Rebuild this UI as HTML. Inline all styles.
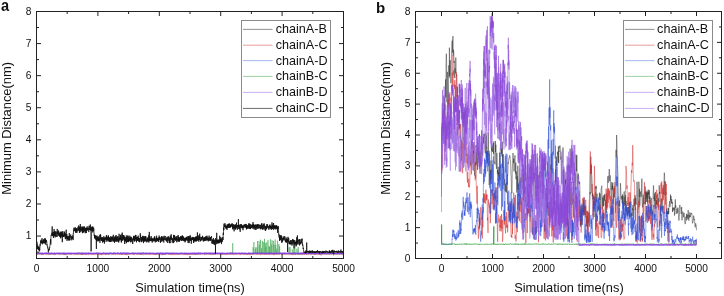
<!DOCTYPE html>
<html><head><meta charset="utf-8"><style>
html,body{margin:0;padding:0;background:#fff;width:724px;height:296px;overflow:hidden}
svg{display:block;will-change:transform}
text{font-family:"Liberation Sans", sans-serif;fill:#111}
.tk{font-size:10.2px}
.lb{font-size:12.8px}
.yl{font-size:12.92px}
.lg{font-size:12.6px}
.pl{font-weight:bold}
</style></head><body>
<svg width="724" height="296" viewBox="0 0 724 296">
<polyline points="36.5,253.4 36.8,253.3 37.0,253.5 37.3,253.7 37.5,253.5 37.8,253.7 38.0,253.3 38.3,252.9 38.5,253.5 38.8,253.6 39.1,253.2 39.3,253.3 39.6,253.3 39.8,253.7 40.1,253.4 40.3,253.1 40.6,253.8 40.9,253.5 41.1,254.0 41.4,253.8 41.6,254.0 41.9,253.4 42.1,253.8 42.4,253.3 42.6,253.3 42.9,253.4 43.2,254.2 43.4,253.5 43.7,253.4 43.9,253.3 44.2,253.9 44.4,253.5 44.7,253.7 44.9,253.6 45.2,253.0 45.5,253.6 45.7,253.4 46.0,253.1 46.2,253.6 46.5,253.4 46.7,253.3 47.0,253.3 47.3,253.8 47.5,253.3 47.8,252.9 48.0,253.9 48.3,253.1 48.5,253.3 48.8,253.6 49.0,252.7 49.3,253.1 49.6,253.8 49.8,253.3 50.1,253.2 50.3,253.4 50.6,253.1 50.8,253.4 51.1,253.2 51.4,252.9 51.6,253.6 51.9,253.3 52.1,253.5 52.4,253.3 52.6,253.7 52.9,253.6 53.1,253.4 53.4,253.1 53.7,253.0 53.9,253.8 54.2,253.6 54.4,253.2 54.7,254.0 54.9,253.5 55.2,253.4 55.4,253.0 55.7,253.1 56.0,253.5 56.2,253.5 56.5,253.4 56.7,252.9 57.0,253.5 57.2,253.5 57.5,253.3 57.8,253.4 58.0,253.4 58.3,253.7 58.5,253.4 58.8,253.5 59.0,253.0 59.3,253.2 59.5,253.4 59.8,253.2 60.1,253.5 60.3,253.0 60.6,253.4 60.8,253.2 61.1,253.8 61.3,253.3 61.6,253.9 61.8,254.0 62.1,253.5 62.4,253.7 62.6,253.3 62.9,252.6 63.1,253.6 63.4,253.6 63.6,253.3 63.9,253.2 64.2,253.4 64.4,253.4 64.7,253.1 64.9,253.2 65.2,253.7 65.4,253.4 65.7,253.4 65.9,253.7 66.2,253.3 66.5,253.6 66.7,253.1 67.0,253.3 67.2,253.3 67.5,253.6 67.7,253.4 68.0,254.0 68.2,253.7 68.5,253.3 68.8,254.1 69.0,253.1 69.3,253.9 69.5,253.1 69.8,253.6 70.0,253.1 70.3,253.3 70.6,253.9 70.8,253.0 71.1,252.9 71.3,253.4 71.6,253.5 71.8,253.4 72.1,253.7 72.3,253.0 72.6,253.5 72.9,253.4 73.1,253.6 73.4,253.6 73.6,253.8 73.9,253.0 74.1,253.4 74.4,253.1 74.7,253.4 74.9,253.6 75.2,253.5 75.4,253.5 75.7,253.4 75.9,253.5 76.2,253.5 76.4,253.8 76.7,253.6 77.0,252.8 77.2,253.6 77.5,253.7 77.7,253.3 78.0,252.9 78.2,253.8 78.5,253.4 78.7,253.6 79.0,253.9 79.3,253.1 79.5,253.4 79.8,253.3 80.0,253.6 80.3,253.2 80.5,253.5 80.8,253.4 81.1,253.7 81.3,253.8 81.6,252.9 81.8,253.5 82.1,253.3 82.3,253.4 82.6,253.5 82.8,253.5 83.1,253.2 83.4,253.5 83.6,253.4 83.9,253.4 84.1,253.0 84.4,253.1 84.6,253.2 84.9,253.5 85.1,253.8 85.4,253.1 85.7,253.1 85.9,253.4 86.2,253.2 86.4,253.1 86.7,253.1 86.9,253.1 87.2,253.5 87.5,252.9 87.7,253.8 88.0,253.1 88.2,253.2 88.5,253.1 88.7,252.8 89.0,252.9 89.2,253.7 89.5,253.9 89.8,253.1 90.0,253.7 90.3,253.4 90.5,253.1 90.8,253.9 91.0,254.0 91.3,253.3 91.6,253.4 91.8,253.4 92.1,253.4 92.3,253.6 92.6,253.9 92.8,253.4 93.1,253.7 93.3,253.9 93.6,253.2 93.9,253.4 94.1,253.2 94.4,253.7 94.6,253.6 94.9,253.7 95.1,253.7 95.4,253.3 95.6,253.6 95.9,253.3 96.2,253.3 96.4,252.7 96.7,253.8 96.9,253.1 97.2,253.4 97.4,253.4 97.7,253.8 98.0,253.5 98.2,253.1 98.5,253.4 98.7,253.3 99.0,253.5 99.2,253.0 99.5,253.4 99.7,254.1 100.0,253.6 100.3,254.0 100.5,254.4 100.8,253.5 101.0,252.9 101.3,253.4 101.5,253.7 101.8,253.7 102.0,253.0 102.3,253.3 102.6,253.4 102.8,253.4 103.1,253.4 103.3,253.1 103.6,253.2 103.8,253.3 104.1,253.7 104.4,253.2 104.6,253.6 104.9,253.0 105.1,253.8 105.4,253.4 105.6,253.4 105.9,253.8 106.1,252.8 106.4,252.9 106.7,253.5 106.9,253.1 107.2,253.2 107.4,254.2 107.7,253.3 107.9,253.4 108.2,253.3 108.4,253.7 108.7,253.5 109.0,253.4 109.2,253.0 109.5,253.3 109.7,253.4 110.0,252.9 110.2,253.5 110.5,253.5 110.8,254.0 111.0,252.9 111.3,253.1 111.5,253.1 111.8,253.2 112.0,253.3 112.3,253.3 112.5,253.4 112.8,253.4 113.1,253.4 113.3,252.9 113.6,253.2 113.8,253.4 114.1,253.6 114.3,253.6 114.6,252.9 114.9,253.2 115.1,253.3 115.4,253.5 115.6,253.7 115.9,253.4 116.1,253.1 116.4,253.5 116.6,253.4 116.9,253.4 117.2,253.3 117.4,253.9 117.7,253.4 117.9,253.6 118.2,253.1 118.4,253.6 118.7,253.2 118.9,252.9 119.2,253.5 119.5,253.6 119.7,253.3 120.0,253.4 120.2,253.7 120.5,253.2 120.7,252.7 121.0,253.5 121.3,253.4 121.5,253.7 121.8,253.3 122.0,253.8 122.3,253.7 122.5,253.0 122.8,253.7 123.0,253.0 123.3,252.9 123.6,253.3 123.8,253.2 124.1,252.7 124.3,253.4 124.6,253.6 124.8,253.8 125.1,253.4 125.3,252.9 125.6,253.1 125.9,253.7 126.1,253.6 126.4,253.5 126.6,253.3 126.9,253.4 127.1,253.3 127.4,253.3 127.7,253.5 127.9,253.4 128.2,253.3 128.4,253.4 128.7,253.2 128.9,252.8 129.2,253.2 129.4,253.3 129.7,253.9 130.0,253.2 130.2,254.0 130.5,253.8 130.7,253.1 131.0,253.1 131.2,253.4 131.5,253.9 131.7,253.5 132.0,253.6 132.3,253.2 132.5,252.6 132.8,253.3 133.0,253.6 133.3,253.7 133.5,253.4 133.8,253.4 134.1,253.7 134.3,253.3 134.6,253.7 134.8,253.0 135.1,253.0 135.3,253.0 135.6,253.5 135.8,253.2 136.1,253.4 136.4,253.5 136.6,253.5 136.9,253.8 137.1,253.8 137.4,253.1 137.6,253.4 137.9,253.3 138.2,253.0 138.4,253.9 138.7,253.6 138.9,253.3 139.2,253.2 139.4,253.5 139.7,253.0 139.9,253.3 140.2,253.8 140.5,253.7 140.7,253.1 141.0,253.2 141.2,254.0 141.5,252.9 141.7,253.2 142.0,252.9 142.2,253.5 142.5,253.5 142.8,253.7 143.0,252.6 143.3,253.4 143.5,252.9 143.8,253.6 144.0,253.3 144.3,253.9 144.6,253.5 144.8,253.1 145.1,253.8 145.3,253.0 145.6,253.3 145.8,253.7 146.1,253.5 146.3,253.5 146.6,253.4 146.9,253.5 147.1,253.6 147.4,253.5 147.6,253.7 147.9,253.8 148.1,253.4 148.4,253.1 148.6,253.9 148.9,253.4 149.2,253.6 149.4,253.7 149.7,253.1 149.9,253.5 150.2,252.9 150.4,253.6 150.7,253.2 151.0,253.4 151.2,253.6 151.5,253.2 151.7,253.4 152.0,253.2 152.2,253.4 152.5,253.7 152.7,253.4 153.0,253.4 153.3,253.1 153.5,253.7 153.8,253.4 154.0,253.9 154.3,253.2 154.5,253.7 154.8,253.9 155.0,253.4 155.3,253.0 155.6,253.9 155.8,253.7 156.1,253.6 156.3,253.7 156.6,253.2 156.8,253.6 157.1,253.6 157.4,253.2 157.6,253.6 157.9,253.2 158.1,253.7 158.4,253.8 158.6,254.0 158.9,252.8 159.1,253.5 159.4,253.3 159.7,253.4 159.9,253.3 160.2,253.4 160.4,252.8 160.7,253.7 160.9,253.9 161.2,253.7 161.5,253.8 161.7,253.1 162.0,253.1 162.2,253.7 162.5,253.8 162.7,253.5 163.0,252.9 163.2,254.3 163.5,253.2 163.8,253.7 164.0,253.0 164.3,253.7 164.5,253.5 164.8,253.9 165.0,253.7 165.3,252.9 165.5,253.1 165.8,253.5 166.1,253.6 166.3,254.0 166.6,253.5 166.8,253.4 167.1,253.4 167.3,253.4 167.6,253.7 167.9,253.4 168.1,253.4 168.4,253.0 168.6,252.8 168.9,253.4 169.1,253.6 169.4,253.4 169.6,253.6 169.9,253.6 170.2,253.4 170.4,253.7 170.7,253.2 170.9,253.4 171.2,253.3 171.4,253.4 171.7,253.6 171.9,253.7 172.2,253.4 172.5,253.5 172.7,253.3 173.0,253.4 173.2,253.8 173.5,253.3 173.7,253.8 174.0,253.6 174.3,253.5 174.5,254.0 174.8,253.3 175.0,253.3 175.3,253.4 175.5,253.5 175.8,253.5 176.0,253.7 176.3,253.5 176.6,253.5 176.8,253.3 177.1,253.8 177.3,253.3 177.6,253.3 177.8,253.4 178.1,253.5 178.3,253.2 178.6,253.9 178.9,253.2 179.1,253.3 179.4,253.3 179.6,253.2 179.9,253.6 180.1,253.5 180.4,253.2 180.7,253.2 180.9,253.3 181.2,253.9 181.4,253.2 181.7,253.0 181.9,253.0 182.2,253.3 182.4,253.9 182.7,253.1 183.0,253.4 183.2,254.2 183.5,253.2 183.7,253.8 184.0,253.8 184.2,253.6 184.5,253.0 184.8,253.5 185.0,253.3 185.3,252.8 185.5,252.9 185.8,253.4 186.0,253.4 186.3,253.8 186.5,253.6 186.8,253.2 187.1,253.2 187.3,253.3 187.6,253.0 187.8,253.6 188.1,253.4 188.3,253.1 188.6,253.2 188.8,253.0 189.1,253.2 189.4,253.5 189.6,253.3 189.9,253.7 190.1,253.9 190.4,253.2 190.6,253.4 190.9,253.3 191.2,253.9 191.4,253.5 191.7,253.6 191.9,253.6 192.2,254.1 192.4,253.5 192.7,253.1 192.9,253.2 193.2,253.6 193.5,253.4 193.7,253.1 194.0,254.3 194.2,253.4 194.5,253.2 194.7,253.1 195.0,252.8 195.2,253.0 195.5,253.3 195.8,253.3 196.0,253.1 196.3,253.5 196.5,253.4 196.8,253.1 197.0,252.7 197.3,253.4 197.6,253.4 197.8,253.3 198.1,252.9 198.3,253.4 198.6,252.9 198.8,253.7 199.1,253.4 199.3,253.4 199.6,253.1 199.9,253.0 200.1,253.9 200.4,253.7 200.6,253.3 200.9,253.6 201.1,253.9 201.4,253.0 201.7,253.2 201.9,253.2 202.2,253.5 202.4,253.0 202.7,253.4 202.9,253.0 203.2,253.7 203.4,253.6 203.7,253.3 204.0,253.6 204.2,253.2 204.5,253.3 204.7,253.7 205.0,253.3 205.2,253.5 205.5,253.1 205.7,253.6 206.0,253.5 206.3,253.0 206.5,252.6 206.8,252.7 207.0,253.3 207.3,253.3 207.5,252.9 207.8,253.4 208.1,253.7 208.3,253.3 208.6,253.2 208.8,253.6 209.1,253.9 209.3,253.8 209.6,253.2 209.8,253.6 210.1,253.4 210.4,253.3 210.6,253.2 210.9,253.5 211.1,253.2 211.4,253.7 211.6,253.5 211.9,253.7 212.1,253.0 212.4,253.4 212.7,253.6 212.9,253.5 213.2,253.4 213.4,253.1 213.7,253.9 213.9,253.7 214.2,253.5 214.5,252.6 214.7,253.1 215.0,253.4 215.2,253.1 215.5,252.7 215.7,253.4 216.0,253.5 216.2,253.0 216.5,253.2 216.8,253.2 217.0,253.5 217.3,252.8 217.5,252.8 217.8,253.2 218.0,253.1 218.3,254.0 218.5,253.2 218.8,253.4 219.1,253.2 219.3,253.1 219.6,253.5 219.8,253.9 220.1,253.2 220.3,253.6 220.6,253.5 220.9,253.6 221.1,253.5 221.4,254.1 221.6,253.0 221.9,253.3 222.1,253.0 222.4,252.7 222.6,253.4 222.9,253.9 223.2,253.7 223.4,253.8 223.7,253.5 223.9,253.3 224.2,254.0 224.4,253.3 224.7,253.9 225.0,253.3 225.2,253.4 225.5,253.5 225.7,253.4 226.0,253.5 226.2,253.6 226.5,253.9 226.7,253.4 227.0,252.8 227.3,252.7 227.5,252.9 227.8,253.1 228.0,253.6 228.3,252.9 228.5,253.4 228.8,253.4 229.0,253.5 229.3,253.3 229.6,253.5 229.8,253.4 230.1,253.7 230.3,253.5 230.6,252.6 230.8,253.4 231.1,253.4 231.4,253.2 231.6,253.1 231.9,253.7 232.1,253.4 232.4,253.1 232.6,253.3 232.9,253.3 233.1,252.9 233.4,253.6 233.7,253.3 233.9,253.5 234.2,252.9 234.4,254.0 234.7,253.6 234.9,253.5 235.2,253.2 235.4,253.2 235.7,252.9 236.0,253.9 236.2,253.1 236.5,253.5 236.7,253.6 237.0,253.2 237.2,253.7 237.5,254.0 237.8,253.5 238.0,253.8 238.3,253.6 238.5,253.2 238.8,253.3 239.0,252.9 239.3,253.4 239.5,253.9 239.8,253.6 240.1,253.7 240.3,253.8 240.6,253.2 240.8,253.6 241.1,254.0 241.3,253.1 241.6,253.4 241.8,253.3 242.1,253.3 242.4,253.2 242.6,253.4 242.9,253.0 243.1,253.2 243.4,253.2 243.6,253.2 243.9,253.8 244.2,253.4 244.4,253.5 244.7,253.3 244.9,253.8 245.2,252.8 245.4,253.3 245.7,253.8 245.9,253.9 246.2,253.5 246.5,253.4 246.7,253.6 247.0,253.3 247.2,253.6 247.5,253.2 247.7,253.6 248.0,253.4 248.3,253.1 248.5,252.5 248.8,253.7 249.0,253.5 249.3,253.6 249.5,253.1 249.8,253.7 250.0,253.5 250.3,253.4 250.6,253.7 250.8,253.7 251.1,253.5 251.3,254.0 251.6,253.8 251.8,253.5 252.1,253.3 252.3,253.4 252.6,253.9 252.9,253.5 253.1,253.1 253.4,253.2 253.6,253.4 253.9,253.7 254.1,253.2 254.4,253.6 254.7,253.7 254.9,253.6 255.2,252.9 255.4,253.3 255.7,253.0 255.9,253.5 256.2,253.1 256.4,253.6 256.7,253.4 257.0,252.6 257.2,253.1 257.5,253.5 257.7,253.4 258.0,253.3 258.2,253.0 258.5,253.5 258.7,253.9 259.0,253.5 259.3,253.4 259.5,253.3 259.8,252.9 260.0,253.3 260.3,253.1 260.5,253.7 260.8,253.1 261.1,252.7 261.3,253.1 261.6,253.3 261.8,253.3 262.1,252.8 262.3,253.7 262.6,253.4 262.8,253.2 263.1,253.1 263.4,253.5 263.6,253.3 263.9,253.5 264.1,253.3 264.4,253.4 264.6,253.7 264.9,253.4 265.1,253.1 265.4,253.7 265.7,253.4 265.9,253.2 266.2,253.7 266.4,253.3 266.7,253.7 266.9,253.0 267.2,252.6 267.5,252.7 267.7,253.4 268.0,253.1 268.2,253.3 268.5,253.3 268.7,252.9 269.0,253.8 269.2,253.0 269.5,253.4 269.8,252.9 270.0,253.3 270.3,253.6 270.5,253.3 270.8,253.1 271.0,253.4 271.3,253.2 271.6,253.5 271.8,254.1 272.1,253.1 272.3,253.1 272.6,253.3 272.8,253.3 273.1,253.0 273.3,253.5 273.6,253.6 273.9,253.4 274.1,253.0 274.4,253.8 274.6,253.0 274.9,253.6 275.1,253.7 275.4,253.0 275.6,253.4 275.9,253.8 276.2,253.5 276.4,253.1 276.7,253.0 276.9,253.5 277.2,253.2 277.4,253.1 277.7,253.6 278.0,253.3 278.2,253.4 278.5,253.5 278.7,253.5 279.0,253.3 279.2,253.4 279.5,253.5 279.7,253.5 280.0,253.0 280.3,253.3 280.5,253.1 280.8,253.0 281.0,253.2 281.3,252.6 281.5,253.6 281.8,253.1 282.0,253.5 282.3,252.8 282.6,252.8 282.8,254.0 283.1,253.7 283.3,253.2 283.6,253.1 283.8,253.1 284.1,253.4 284.4,253.2 284.6,253.2 284.9,253.4 285.1,253.0 285.4,254.1 285.6,253.2 285.9,253.7 286.1,253.1 286.4,253.4 286.7,253.7 286.9,253.2 287.2,253.7 287.4,253.7 287.7,253.9 287.9,253.4 288.2,253.2 288.4,253.0 288.7,253.4 289.0,253.0 289.2,253.4 289.5,253.4 289.7,253.2 290.0,253.0 290.2,253.5 290.5,253.4 290.8,253.4 291.0,253.3 291.3,253.7 291.5,253.0 291.8,253.5 292.0,253.2 292.3,253.6 292.5,253.3 292.8,253.2 293.1,253.5 293.3,252.7 293.6,253.2 293.8,252.8 294.1,253.1 294.3,253.6 294.6,253.5 294.9,253.2 295.1,253.3 295.4,253.4 295.6,253.5 295.9,253.9 296.1,253.4 296.4,254.1 296.6,253.2 296.9,253.6 297.2,253.6 297.4,253.4 297.7,253.3 297.9,253.8 298.2,253.9 298.4,253.7 298.7,254.0 298.9,253.7 299.2,252.9 299.5,253.7 299.7,253.2 300.0,253.8 300.2,253.3 300.5,253.5 300.7,253.4 301.0,253.2 301.3,252.8 301.5,253.3 301.8,253.3 302.0,253.7 302.3,253.2 302.5,253.4 302.8,253.1 303.0,253.4 303.3,252.8 303.6,254.0 303.8,253.5 304.1,253.1 304.3,253.5 304.6,253.6 304.8,253.5 305.1,253.8 305.3,253.3 305.6,252.6 305.9,253.0 306.1,253.7 306.4,253.6 306.6,253.5 306.9,253.0 307.1,253.6 307.4,253.6 307.7,253.1 307.9,253.1 308.2,253.5 308.4,253.7 308.7,253.9 308.9,253.6 309.2,254.1 309.4,253.1 309.7,253.6 310.0,253.2 310.2,252.8 310.5,253.0 310.7,253.7 311.0,253.1 311.2,253.0 311.5,253.6 311.8,253.7 312.0,253.4 312.3,253.9 312.5,252.9 312.8,254.1 313.0,253.7 313.3,253.5 313.5,253.4 313.8,253.3 314.1,253.3 314.3,253.4 314.6,253.0 314.8,254.1 315.1,253.4 315.3,253.6 315.6,253.3 315.8,253.3 316.1,253.7 316.4,253.6 316.6,253.1 316.9,253.3 317.1,253.6 317.4,252.7 317.6,252.6 317.9,253.8 318.2,253.3 318.4,252.6 318.7,253.1 318.9,253.3 319.2,253.4 319.4,253.5 319.7,253.4 319.9,253.5 320.2,253.1 320.5,253.5 320.7,253.5 321.0,253.8 321.2,253.4 321.5,253.7 321.7,253.4 322.0,253.0 322.2,253.3 322.5,253.2 322.8,253.3 323.0,253.3 323.3,253.4 323.5,253.5 323.8,253.1 324.0,253.7 324.3,252.9 324.6,253.4 324.8,253.6 325.1,253.5 325.3,253.6 325.6,253.3 325.8,253.6 326.1,253.0 326.3,253.6 326.6,254.1 326.9,253.6 327.1,254.0 327.4,253.4 327.6,253.0 327.9,253.2 328.1,253.8 328.4,253.6 328.6,252.8 328.9,253.3 329.2,253.4 329.4,253.0 329.7,252.6 329.9,253.0 330.2,253.3 330.4,253.3 330.7,253.2 331.0,253.6 331.2,253.7 331.5,253.4 331.7,253.7 332.0,253.4 332.2,253.3 332.5,252.6 332.7,253.6 333.0,253.4 333.3,253.4 333.5,253.2 333.8,253.0 334.0,253.5 334.3,253.6 334.5,253.9 334.8,253.7 335.1,253.2 335.3,253.4 335.6,253.7 335.8,253.5 336.1,253.4 336.3,253.2 336.6,253.6 336.8,253.4 337.1,254.0 337.4,253.7 337.6,252.8 337.9,254.1 338.1,253.5 338.4,253.3 338.6,253.5 338.9,253.6 339.1,253.4 339.4,253.4 339.7,253.4 339.9,254.0 340.2,253.4 340.4,253.6 340.7,253.5 340.9,253.3 341.2,253.2 341.5,253.1 341.7,253.5 342.0,253.1 342.2,253.0 342.5,253.0 342.7,252.9 343.0,253.4 343.2,253.4 343.5,253.1" fill="none" stroke="#606060" stroke-width="0.7" stroke-opacity="0.7" stroke-linejoin="bevel"/>
<polyline points="36.5,254.8 36.8,254.3 37.0,254.5 37.3,254.4 37.5,254.9 37.8,254.6 38.0,254.3 38.3,254.0 38.5,254.0 38.8,254.4 39.1,254.4 39.3,254.6 39.6,254.2 39.8,254.4 40.1,254.1 40.3,253.8 40.6,254.3 40.9,254.8 41.1,254.6 41.4,254.8 41.6,254.7 41.9,253.9 42.1,254.3 42.4,254.8 42.6,254.1 42.9,253.9 43.2,254.4 43.4,254.5 43.7,254.4 43.9,254.2 44.2,254.1 44.4,254.0 44.7,253.9 44.9,253.9 45.2,253.9 45.5,254.1 45.7,254.8 46.0,254.4 46.2,254.2 46.5,254.5 46.7,254.0 47.0,254.4 47.3,254.6 47.5,253.9 47.8,254.1 48.0,254.3 48.3,254.0 48.5,254.0 48.8,254.2 49.0,255.1 49.3,254.5 49.6,254.5 49.8,254.6 50.1,254.3 50.3,253.9 50.6,254.5 50.8,254.7 51.1,253.7 51.4,254.5 51.6,254.7 51.9,254.3 52.1,254.2 52.4,254.6 52.6,254.1 52.9,254.5 53.1,254.6 53.4,254.3 53.7,254.1 53.9,254.5 54.2,254.2 54.4,254.4 54.7,253.4 54.9,254.6 55.2,253.9 55.4,254.3 55.7,254.4 56.0,254.1 56.2,254.0 56.5,253.9 56.7,254.2 57.0,254.5 57.2,254.5 57.5,254.2 57.8,254.1 58.0,253.9 58.3,254.2 58.5,254.0 58.8,253.8 59.0,254.3 59.3,254.8 59.5,254.7 59.8,254.8 60.1,253.8 60.3,254.6 60.6,253.9 60.8,254.1 61.1,253.8 61.3,254.0 61.6,254.4 61.8,254.4 62.1,254.3 62.4,254.3 62.6,254.5 62.9,254.3 63.1,253.8 63.4,254.9 63.6,254.2 63.9,254.6 64.2,254.3 64.4,254.1 64.7,254.3 64.9,254.1 65.2,254.8 65.4,254.0 65.7,254.5 65.9,254.1 66.2,254.3 66.5,255.2 66.7,254.6 67.0,254.3 67.2,253.8 67.5,254.2 67.7,254.2 68.0,254.8 68.2,253.9 68.5,253.8 68.8,254.3 69.0,254.4 69.3,254.8 69.5,254.0 69.8,253.5 70.0,254.1 70.3,253.9 70.6,254.2 70.8,254.6 71.1,253.9 71.3,254.7 71.6,254.4 71.8,254.2 72.1,254.0 72.3,254.2 72.6,254.2 72.9,254.6 73.1,254.7 73.4,254.3 73.6,254.6 73.9,254.7 74.1,254.7 74.4,254.5 74.7,254.9 74.9,254.8 75.2,254.9 75.4,254.3 75.7,254.2 75.9,253.7 76.2,254.8 76.4,254.5 76.7,254.0 77.0,254.4 77.2,254.4 77.5,253.8 77.7,254.4 78.0,254.7 78.2,254.8 78.5,254.2 78.7,254.2 79.0,254.8 79.3,254.6 79.5,254.2 79.8,254.1 80.0,254.5 80.3,254.1 80.5,254.1 80.8,254.9 81.1,254.4 81.3,254.2 81.6,254.5 81.8,255.0 82.1,254.4 82.3,254.1 82.6,253.8 82.8,255.0 83.1,253.5 83.4,254.7 83.6,254.0 83.9,253.9 84.1,254.0 84.4,254.3 84.6,254.7 84.9,254.1 85.1,254.6 85.4,255.1 85.7,253.4 85.9,254.1 86.2,253.7 86.4,254.6 86.7,253.9 86.9,253.8 87.2,253.8 87.5,254.3 87.7,254.7 88.0,254.4 88.2,255.0 88.5,254.9 88.7,254.3 89.0,254.6 89.2,254.4 89.5,254.4 89.8,253.7 90.0,253.9 90.3,254.3 90.5,253.9 90.8,254.6 91.0,254.4 91.3,254.0 91.6,254.7 91.8,254.4 92.1,254.8 92.3,254.3 92.6,253.8 92.8,254.6 93.1,254.3 93.3,254.6 93.6,254.7 93.9,254.7 94.1,253.9 94.4,253.6 94.6,254.2 94.9,254.6 95.1,254.1 95.4,254.4 95.6,254.1 95.9,254.2 96.2,254.2 96.4,254.1 96.7,254.5 96.9,254.5 97.2,254.9 97.4,254.5 97.7,254.8 98.0,254.4 98.2,254.6 98.5,254.3 98.7,254.2 99.0,254.8 99.2,254.6 99.5,254.6 99.7,254.1 100.0,253.8 100.3,254.1 100.5,254.4 100.8,253.9 101.0,254.8 101.3,253.8 101.5,254.5 101.8,255.2 102.0,253.5 102.3,253.8 102.6,254.7 102.8,254.3 103.1,254.4 103.3,254.3 103.6,254.8 103.8,254.5 104.1,254.2 104.4,254.3 104.6,253.9 104.9,254.3 105.1,253.6 105.4,254.6 105.6,254.2 105.9,254.9 106.1,254.7 106.4,253.9 106.7,254.6 106.9,254.2 107.2,254.3 107.4,254.7 107.7,254.4 107.9,254.5 108.2,254.5 108.4,254.1 108.7,254.1 109.0,254.5 109.2,254.6 109.5,254.2 109.7,254.4 110.0,254.0 110.2,253.5 110.5,254.1 110.8,254.3 111.0,254.4 111.3,254.6 111.5,254.6 111.8,254.7 112.0,254.5 112.3,254.5 112.5,254.1 112.8,254.5 113.1,254.4 113.3,254.7 113.6,253.8 113.8,254.2 114.1,253.8 114.3,254.1 114.6,253.9 114.9,254.4 115.1,254.1 115.4,253.5 115.6,254.7 115.9,254.0 116.1,253.8 116.4,254.2 116.6,254.1 116.9,253.9 117.2,254.5 117.4,254.2 117.7,254.6 117.9,254.6 118.2,254.5 118.4,254.4 118.7,254.3 118.9,254.2 119.2,254.8 119.5,253.7 119.7,254.0 120.0,254.1 120.2,254.4 120.5,254.4 120.7,254.1 121.0,254.2 121.3,254.9 121.5,254.1 121.8,253.4 122.0,254.9 122.3,254.0 122.5,254.2 122.8,254.4 123.0,253.9 123.3,254.7 123.6,254.3 123.8,253.8 124.1,254.4 124.3,254.5 124.6,254.3 124.8,254.5 125.1,253.8 125.3,254.6 125.6,254.0 125.9,254.7 126.1,254.1 126.4,254.4 126.6,255.2 126.9,254.3 127.1,254.7 127.4,254.5 127.7,253.8 127.9,254.7 128.2,254.7 128.4,253.9 128.7,254.3 128.9,253.8 129.2,254.2 129.4,254.6 129.7,254.4 130.0,253.9 130.2,254.0 130.5,254.3 130.7,254.3 131.0,254.4 131.2,254.5 131.5,253.7 131.7,254.3 132.0,254.7 132.3,254.5 132.5,254.1 132.8,254.1 133.0,254.4 133.3,254.6 133.5,254.3 133.8,254.9 134.1,254.8 134.3,254.1 134.6,254.5 134.8,254.2 135.1,253.9 135.3,254.1 135.6,254.3 135.8,253.6 136.1,254.1 136.4,254.4 136.6,254.1 136.9,254.2 137.1,254.6 137.4,254.3 137.6,254.4 137.9,255.0 138.2,254.4 138.4,254.4 138.7,254.5 138.9,254.9 139.2,254.4 139.4,254.3 139.7,254.3 139.9,254.7 140.2,254.1 140.5,254.7 140.7,254.4 141.0,253.9 141.2,254.6 141.5,254.5 141.7,254.0 142.0,254.5 142.2,254.4 142.5,254.3 142.8,254.0 143.0,255.1 143.3,254.6 143.5,254.7 143.8,254.7 144.0,254.6 144.3,254.6 144.6,254.2 144.8,254.6 145.1,254.3 145.3,254.2 145.6,254.6 145.8,254.3 146.1,253.8 146.3,254.2 146.6,254.5 146.9,254.4 147.1,254.6 147.4,254.2 147.6,254.0 147.9,254.6 148.1,254.4 148.4,254.0 148.6,254.5 148.9,254.3 149.2,254.7 149.4,254.6 149.7,254.5 149.9,253.6 150.2,254.5 150.4,254.5 150.7,254.5 151.0,254.4 151.2,254.1 151.5,254.3 151.7,253.7 152.0,254.3 152.2,253.9 152.5,254.2 152.7,254.1 153.0,254.8 153.3,254.4 153.5,254.4 153.8,254.4 154.0,255.0 154.3,254.0 154.5,254.5 154.8,254.5 155.0,254.4 155.3,254.4 155.6,254.2 155.8,254.7 156.1,254.6 156.3,254.2 156.6,254.3 156.8,254.5 157.1,254.5 157.4,254.6 157.6,254.3 157.9,254.0 158.1,254.7 158.4,253.8 158.6,254.1 158.9,254.5 159.1,254.1 159.4,254.8 159.7,254.9 159.9,254.7 160.2,254.5 160.4,254.4 160.7,254.5 160.9,254.3 161.2,255.0 161.5,254.2 161.7,254.8 162.0,254.5 162.2,254.5 162.5,254.7 162.7,254.8 163.0,254.7 163.2,254.3 163.5,254.1 163.8,254.1 164.0,254.6 164.3,254.6 164.5,254.6 164.8,254.2 165.0,255.0 165.3,253.9 165.5,254.5 165.8,254.6 166.1,254.2 166.3,254.0 166.6,254.2 166.8,254.0 167.1,254.3 167.3,253.9 167.6,253.9 167.9,254.4 168.1,253.9 168.4,254.3 168.6,254.3 168.9,254.6 169.1,254.4 169.4,254.1 169.6,254.8 169.9,254.1 170.2,254.2 170.4,254.2 170.7,255.0 170.9,254.4 171.2,254.1 171.4,254.6 171.7,254.3 171.9,255.1 172.2,254.1 172.5,254.5 172.7,254.1 173.0,254.9 173.2,254.1 173.5,254.4 173.7,254.1 174.0,254.6 174.3,254.5 174.5,253.6 174.8,254.6 175.0,254.6 175.3,254.4 175.5,254.7 175.8,253.9 176.0,253.8 176.3,254.6 176.6,254.9 176.8,254.0 177.1,254.0 177.3,254.1 177.6,254.0 177.8,254.6 178.1,254.4 178.3,254.8 178.6,254.8 178.9,254.0 179.1,254.5 179.4,253.6 179.6,254.3 179.9,254.5 180.1,254.1 180.4,253.8 180.7,254.2 180.9,254.7 181.2,254.2 181.4,253.9 181.7,254.5 181.9,254.6 182.2,254.0 182.4,254.3 182.7,254.7 183.0,254.5 183.2,254.6 183.5,254.2 183.7,254.3 184.0,254.0 184.2,254.1 184.5,254.8 184.8,254.2 185.0,254.0 185.3,254.2 185.5,254.0 185.8,254.5 186.0,254.6 186.3,254.0 186.5,254.7 186.8,255.0 187.1,254.0 187.3,254.6 187.6,254.4 187.8,254.8 188.1,254.8 188.3,254.7 188.6,254.4 188.8,254.2 189.1,255.1 189.4,254.1 189.6,254.7 189.9,254.7 190.1,254.1 190.4,254.4 190.6,254.8 190.9,253.7 191.2,254.6 191.4,254.3 191.7,254.3 191.9,253.9 192.2,254.5 192.4,254.0 192.7,254.6 192.9,254.0 193.2,254.6 193.5,254.4 193.7,253.7 194.0,254.2 194.2,254.3 194.5,253.6 194.7,254.2 195.0,254.6 195.2,254.1 195.5,254.7 195.8,254.0 196.0,253.9 196.3,254.5 196.5,254.5 196.8,254.3 197.0,254.3 197.3,254.6 197.6,254.1 197.8,255.0 198.1,254.5 198.3,254.5 198.6,254.4 198.8,254.2 199.1,254.7 199.3,254.1 199.6,254.4 199.9,254.5 200.1,254.8 200.4,254.7 200.6,254.2 200.9,254.6 201.1,254.3 201.4,254.0 201.7,254.0 201.9,253.8 202.2,254.4 202.4,254.7 202.7,254.0 202.9,254.2 203.2,254.0 203.4,254.3 203.7,253.9 204.0,254.1 204.2,254.1 204.5,254.2 204.7,254.2 205.0,254.3 205.2,254.3 205.5,254.0 205.7,254.5 206.0,253.8 206.3,254.4 206.5,254.0 206.8,254.4 207.0,254.4 207.3,253.7 207.5,254.4 207.8,254.7 208.1,254.6 208.3,254.4 208.6,253.6 208.8,254.3 209.1,254.0 209.3,254.7 209.6,254.2 209.8,254.1 210.1,253.8 210.4,254.6 210.6,254.1 210.9,254.2 211.1,254.7 211.4,254.3 211.6,254.4 211.9,255.1 212.1,254.1 212.4,254.2 212.7,254.5 212.9,254.8 213.2,253.9 213.4,254.2 213.7,254.0 213.9,253.9 214.2,254.5 214.5,254.1 214.7,254.4 215.0,254.3 215.2,254.4 215.5,254.3 215.7,254.0 216.0,254.3 216.2,254.4 216.5,254.4 216.8,254.2 217.0,254.6 217.3,254.5 217.5,254.3 217.8,254.5 218.0,254.4 218.3,254.5 218.5,253.7 218.8,253.9 219.1,254.2 219.3,254.3 219.6,253.6 219.8,254.2 220.1,254.4 220.3,254.2 220.6,254.2 220.9,253.9 221.1,254.3 221.4,253.7 221.6,254.6 221.9,254.1 222.1,254.7 222.4,253.7 222.6,254.4 222.9,254.3 223.2,254.0 223.4,253.9 223.7,254.7 223.9,254.4 224.2,254.8 224.4,254.3 224.7,254.4 225.0,254.4 225.2,254.5 225.5,254.5 225.7,254.6 226.0,254.2 226.2,253.8 226.5,254.9 226.7,254.4 227.0,254.5 227.3,254.2 227.5,254.6 227.8,254.4 228.0,254.7 228.3,254.1 228.5,254.3 228.8,254.4 229.0,254.2 229.3,254.4 229.6,254.8 229.8,254.1 230.1,254.2 230.3,254.4 230.6,254.0 230.8,253.9 231.1,254.7 231.4,254.6 231.6,253.8 231.9,253.9 232.1,254.6 232.4,254.7 232.6,254.5 232.9,254.5 233.1,254.8 233.4,254.3 233.7,254.7 233.9,254.7 234.2,254.0 234.4,254.5 234.7,254.4 234.9,254.1 235.2,254.1 235.4,254.4 235.7,254.3 236.0,254.6 236.2,253.8 236.5,254.1 236.7,254.7 237.0,254.3 237.2,254.1 237.5,254.2 237.8,253.7 238.0,253.9 238.3,254.5 238.5,254.4 238.8,254.7 239.0,254.2 239.3,254.3 239.5,253.5 239.8,254.3 240.1,255.0 240.3,254.5 240.6,254.3 240.8,254.7 241.1,254.6 241.3,254.4 241.6,254.2 241.8,254.4 242.1,254.6 242.4,254.1 242.6,254.5 242.9,254.5 243.1,254.8 243.4,254.6 243.6,254.1 243.9,254.8 244.2,254.4 244.4,254.1 244.7,254.5 244.9,254.3 245.2,254.7 245.4,253.9 245.7,254.0 245.9,254.3 246.2,254.9 246.5,254.7 246.7,254.0 247.0,253.8 247.2,254.2 247.5,253.9 247.7,254.5 248.0,254.4 248.3,254.3 248.5,254.2 248.8,254.8 249.0,254.0 249.3,253.9 249.5,254.7 249.8,254.8 250.0,254.2 250.3,254.5 250.6,255.1 250.8,254.1 251.1,254.3 251.3,254.5 251.6,253.7 251.8,254.3 252.1,254.6 252.3,254.3 252.6,254.7 252.9,254.6 253.1,254.2 253.4,254.5 253.6,254.5 253.9,253.8 254.1,254.1 254.4,254.1 254.7,254.2 254.9,254.2 255.2,253.9 255.4,254.3 255.7,253.7 255.9,254.6 256.2,254.4 256.4,254.8 256.7,254.4 257.0,254.2 257.2,253.9 257.5,254.5 257.7,254.3 258.0,254.4 258.2,254.6 258.5,254.7 258.7,254.3 259.0,254.9 259.3,254.3 259.5,254.3 259.8,254.5 260.0,254.7 260.3,254.8 260.5,253.7 260.8,254.8 261.1,253.8 261.3,254.1 261.6,254.4 261.8,254.7 262.1,254.0 262.3,253.8 262.6,254.6 262.8,254.4 263.1,254.0 263.4,254.2 263.6,253.7 263.9,254.5 264.1,254.2 264.4,254.7 264.6,253.7 264.9,254.6 265.1,255.0 265.4,254.4 265.7,254.4 265.9,253.7 266.2,254.4 266.4,254.3 266.7,254.1 266.9,253.8 267.2,254.4 267.5,254.0 267.7,254.2 268.0,254.4 268.2,254.3 268.5,254.3 268.7,254.6 269.0,253.9 269.2,254.8 269.5,254.0 269.8,254.0 270.0,254.4 270.3,254.6 270.5,254.4 270.8,254.2 271.0,254.1 271.3,254.2 271.6,254.0 271.8,254.5 272.1,254.3 272.3,254.8 272.6,254.1 272.8,254.3 273.1,254.5 273.3,254.0 273.6,254.1 273.9,255.2 274.1,254.3 274.4,254.8 274.6,254.0 274.9,253.5 275.1,254.5 275.4,254.3 275.6,254.4 275.9,254.2 276.2,254.1 276.4,253.9 276.7,254.6 276.9,253.8 277.2,254.6 277.4,254.2 277.7,254.0 278.0,254.1 278.2,254.6 278.5,254.6 278.7,254.5 279.0,254.3 279.2,254.0 279.5,254.7 279.7,254.2 280.0,254.1 280.3,254.2 280.5,254.2 280.8,253.8 281.0,254.2 281.3,254.1 281.5,254.1 281.8,253.8 282.0,254.9 282.3,253.9 282.6,254.4 282.8,254.4 283.1,254.6 283.3,254.9 283.6,254.5 283.8,254.6 284.1,254.2 284.4,254.8 284.6,253.9 284.9,254.2 285.1,254.4 285.4,254.6 285.6,254.6 285.9,254.7 286.1,254.5 286.4,254.3 286.7,254.4 286.9,254.8 287.2,254.4 287.4,254.6 287.7,254.3 287.9,253.7 288.2,254.1 288.4,254.4 288.7,254.9 289.0,254.8 289.2,254.9 289.5,254.1 289.7,254.6 290.0,254.3 290.2,254.5 290.5,254.3 290.8,253.9 291.0,254.5 291.3,254.4 291.5,254.6 291.8,254.0 292.0,254.7 292.3,254.7 292.5,254.8 292.8,254.8 293.1,254.2 293.3,253.5 293.6,254.6 293.8,254.0 294.1,254.2 294.3,254.7 294.6,254.4 294.9,254.4 295.1,254.6 295.4,253.7 295.6,254.9 295.9,254.2 296.1,254.2 296.4,254.5 296.6,254.3 296.9,254.0 297.2,254.3 297.4,254.2 297.7,254.1 297.9,255.0 298.2,253.9 298.4,253.6 298.7,254.0 298.9,254.0 299.2,254.8 299.5,254.4 299.7,254.6 300.0,254.5 300.2,254.0 300.5,254.6 300.7,254.4 301.0,254.9 301.3,254.4 301.5,254.3 301.8,254.6 302.0,254.6 302.3,253.7 302.5,254.7 302.8,254.7 303.0,254.6 303.3,253.9 303.6,253.7 303.8,254.2 304.1,254.6 304.3,254.5 304.6,254.0 304.8,254.6 305.1,253.9 305.3,253.9 305.6,254.3 305.9,254.1 306.1,254.1 306.4,253.8 306.6,254.7 306.9,254.0 307.1,254.5 307.4,254.6 307.7,254.3 307.9,254.4 308.2,254.6 308.4,254.8 308.7,254.6 308.9,253.9 309.2,253.7 309.4,254.1 309.7,253.9 310.0,254.5 310.2,254.4 310.5,254.2 310.7,254.7 311.0,254.6 311.2,254.3 311.5,254.4 311.8,254.7 312.0,254.2 312.3,254.4 312.5,254.0 312.8,254.3 313.0,254.4 313.3,254.3 313.5,254.4 313.8,254.5 314.1,254.5 314.3,254.1 314.6,254.1 314.8,253.9 315.1,254.9 315.3,254.5 315.6,254.5 315.8,254.3 316.1,254.5 316.4,254.5 316.6,254.1 316.9,254.3 317.1,254.7 317.4,253.9 317.6,254.0 317.9,254.5 318.2,254.1 318.4,254.6 318.7,254.0 318.9,254.4 319.2,254.6 319.4,254.4 319.7,254.6 319.9,254.3 320.2,254.3 320.5,254.3 320.7,254.5 321.0,255.5 321.2,254.3 321.5,254.9 321.7,254.3 322.0,254.0 322.2,254.2 322.5,254.5 322.8,254.4 323.0,254.4 323.3,254.5 323.5,254.5 323.8,254.6 324.0,253.9 324.3,254.3 324.6,254.0 324.8,254.4 325.1,254.3 325.3,254.4 325.6,254.2 325.8,254.1 326.1,254.3 326.3,254.5 326.6,254.6 326.9,253.8 327.1,254.4 327.4,254.4 327.6,253.9 327.9,254.0 328.1,254.2 328.4,254.5 328.6,253.6 328.9,254.2 329.2,254.2 329.4,254.4 329.7,254.8 329.9,254.8 330.2,254.2 330.4,254.2 330.7,254.4 331.0,254.7 331.2,254.8 331.5,254.4 331.7,254.8 332.0,254.0 332.2,254.0 332.5,253.4 332.7,254.0 333.0,254.5 333.3,254.6 333.5,255.4 333.8,254.5 334.0,254.4 334.3,254.0 334.5,254.1 334.8,254.1 335.1,254.3 335.3,254.1 335.6,253.9 335.8,254.7 336.1,254.5 336.3,254.8 336.6,253.8 336.8,253.9 337.1,254.1 337.4,254.7 337.6,254.3 337.9,254.4 338.1,254.3 338.4,254.4 338.6,254.2 338.9,254.5 339.1,254.1 339.4,254.3 339.7,254.4 339.9,254.4 340.2,254.5 340.4,254.1 340.7,254.4 340.9,254.2 341.2,254.5 341.5,254.8 341.7,254.0 342.0,254.7 342.2,254.1 342.5,254.2 342.7,254.9 343.0,254.6 343.2,254.5 343.5,254.6" fill="none" stroke="#d03030" stroke-width="0.7" stroke-opacity="0.6" stroke-linejoin="bevel"/>
<polyline points="36.5,254.0 36.8,253.5 37.0,253.7 37.3,253.6 37.5,253.8 37.8,253.6 38.0,253.9 38.3,253.7 38.5,253.5 38.8,253.7 39.1,253.8 39.3,254.0 39.6,253.6 39.8,253.6 40.1,253.8 40.3,253.9 40.6,253.5 40.9,253.1 41.1,253.8 41.4,253.6 41.6,253.6 41.9,254.3 42.1,253.7 42.4,253.9 42.6,253.3 42.9,253.8 43.2,253.9 43.4,253.7 43.7,253.6 43.9,253.8 44.2,253.7 44.4,254.0 44.7,253.7 44.9,253.5 45.2,253.2 45.5,253.5 45.7,253.6 46.0,253.4 46.2,253.4 46.5,253.3 46.7,253.4 47.0,253.7 47.3,253.6 47.5,253.6 47.8,253.6 48.0,253.6 48.3,253.9 48.5,254.2 48.8,253.9 49.0,254.2 49.3,253.7 49.6,253.7 49.8,254.1 50.1,253.5 50.3,253.5 50.6,253.7 50.8,253.3 51.1,253.2 51.4,254.0 51.6,253.4 51.9,253.6 52.1,253.6 52.4,253.4 52.6,253.9 52.9,253.8 53.1,253.9 53.4,253.9 53.7,253.7 53.9,254.1 54.2,254.0 54.4,253.5 54.7,253.7 54.9,253.6 55.2,254.2 55.4,253.9 55.7,253.8 56.0,253.7 56.2,253.8 56.5,253.4 56.7,253.7 57.0,253.7 57.2,253.7 57.5,253.5 57.8,253.8 58.0,253.4 58.3,253.6 58.5,253.6 58.8,253.7 59.0,253.6 59.3,253.4 59.5,253.4 59.8,253.6 60.1,253.5 60.3,253.7 60.6,253.4 60.8,253.7 61.1,254.2 61.3,253.3 61.6,253.7 61.8,254.0 62.1,253.7 62.4,253.9 62.6,253.1 62.9,253.6 63.1,254.1 63.4,253.5 63.6,253.8 63.9,253.2 64.2,254.0 64.4,254.3 64.7,253.7 64.9,253.8 65.2,253.8 65.4,254.2 65.7,253.6 65.9,253.3 66.2,254.2 66.5,253.4 66.7,253.8 67.0,253.1 67.2,253.6 67.5,253.7 67.7,253.4 68.0,253.6 68.2,253.8 68.5,253.5 68.8,253.8 69.0,254.1 69.3,253.2 69.5,253.8 69.8,253.8 70.0,253.6 70.3,254.1 70.6,254.0 70.8,253.8 71.1,253.8 71.3,253.7 71.6,253.4 71.8,253.8 72.1,253.6 72.3,253.5 72.6,254.0 72.9,253.6 73.1,253.9 73.4,253.4 73.6,253.6 73.9,253.7 74.1,254.0 74.4,253.7 74.7,253.9 74.9,253.5 75.2,253.7 75.4,253.9 75.7,253.5 75.9,253.5 76.2,253.8 76.4,253.4 76.7,253.8 77.0,253.8 77.2,253.7 77.5,253.9 77.7,253.8 78.0,253.7 78.2,253.3 78.5,253.3 78.7,253.8 79.0,253.3 79.3,253.7 79.5,253.6 79.8,253.5 80.0,253.6 80.3,253.1 80.5,253.6 80.8,254.0 81.1,253.4 81.3,253.8 81.6,253.8 81.8,254.5 82.1,253.4 82.3,253.5 82.6,253.5 82.8,253.4 83.1,253.3 83.4,253.7 83.6,253.4 83.9,253.9 84.1,253.8 84.4,253.4 84.6,253.6 84.9,254.0 85.1,253.6 85.4,253.7 85.7,253.9 85.9,253.6 86.2,253.8 86.4,254.1 86.7,254.0 86.9,253.2 87.2,254.1 87.5,253.6 87.7,253.5 88.0,253.5 88.2,254.0 88.5,253.8 88.7,253.7 89.0,253.5 89.2,253.9 89.5,254.0 89.8,253.4 90.0,253.4 90.3,253.6 90.5,253.8 90.8,253.6 91.0,253.7 91.3,253.5 91.6,254.0 91.8,253.7 92.1,253.7 92.3,254.0 92.6,253.6 92.8,253.7 93.1,253.8 93.3,253.6 93.6,254.1 93.9,253.7 94.1,253.6 94.4,253.6 94.6,253.4 94.9,254.0 95.1,254.1 95.4,253.6 95.6,253.6 95.9,253.1 96.2,253.5 96.4,253.9 96.7,253.5 96.9,253.9 97.2,254.1 97.4,253.0 97.7,253.6 98.0,253.5 98.2,253.5 98.5,253.2 98.7,253.6 99.0,253.4 99.2,254.0 99.5,254.0 99.7,253.3 100.0,253.3 100.3,253.6 100.5,253.6 100.8,253.6 101.0,253.9 101.3,253.3 101.5,253.5 101.8,253.6 102.0,253.6 102.3,253.4 102.6,253.6 102.8,253.5 103.1,254.0 103.3,253.6 103.6,253.1 103.8,253.8 104.1,253.7 104.4,253.5 104.6,253.4 104.9,253.5 105.1,254.1 105.4,253.6 105.6,254.0 105.9,253.9 106.1,253.5 106.4,253.8 106.7,253.5 106.9,252.9 107.2,253.5 107.4,253.5 107.7,253.9 107.9,253.9 108.2,254.0 108.4,253.8 108.7,254.0 109.0,253.9 109.2,253.7 109.5,253.9 109.7,254.1 110.0,254.0 110.2,253.6 110.5,253.7 110.8,253.4 111.0,253.4 111.3,253.8 111.5,253.5 111.8,254.1 112.0,253.1 112.3,253.4 112.5,253.7 112.8,254.0 113.1,253.6 113.3,254.2 113.6,253.9 113.8,253.5 114.1,253.7 114.3,253.8 114.6,253.4 114.9,254.0 115.1,253.6 115.4,253.8 115.6,253.9 115.9,253.6 116.1,253.9 116.4,253.2 116.6,253.8 116.9,253.2 117.2,254.0 117.4,253.5 117.7,254.0 117.9,254.0 118.2,253.6 118.4,253.5 118.7,254.0 118.9,253.4 119.2,253.9 119.5,253.7 119.7,253.6 120.0,253.5 120.2,254.1 120.5,253.3 120.7,253.5 121.0,253.8 121.3,254.0 121.5,254.1 121.8,254.0 122.0,253.5 122.3,253.8 122.5,254.0 122.8,253.8 123.0,253.3 123.3,253.8 123.6,253.8 123.8,253.3 124.1,253.6 124.3,253.7 124.6,253.8 124.8,254.1 125.1,254.0 125.3,253.8 125.6,253.7 125.9,253.6 126.1,253.5 126.4,253.6 126.6,253.6 126.9,253.9 127.1,254.2 127.4,253.8 127.7,253.9 127.9,253.9 128.2,253.8 128.4,254.0 128.7,254.0 128.9,253.7 129.2,253.7 129.4,253.9 129.7,253.6 130.0,253.7 130.2,254.0 130.5,253.7 130.7,253.2 131.0,253.9 131.2,253.4 131.5,253.3 131.7,253.3 132.0,253.9 132.3,253.2 132.5,253.7 132.8,253.8 133.0,253.7 133.3,253.5 133.5,253.7 133.8,253.7 134.1,253.4 134.3,253.9 134.6,254.0 134.8,253.5 135.1,253.5 135.3,253.4 135.6,254.0 135.8,253.4 136.1,253.6 136.4,253.2 136.6,254.0 136.9,253.6 137.1,253.8 137.4,254.1 137.6,253.9 137.9,253.4 138.2,253.8 138.4,253.9 138.7,253.5 138.9,253.4 139.2,253.4 139.4,253.9 139.7,253.7 139.9,253.4 140.2,253.9 140.5,253.9 140.7,253.5 141.0,253.3 141.2,254.0 141.5,254.4 141.7,254.1 142.0,253.9 142.2,253.7 142.5,253.5 142.8,253.7 143.0,253.9 143.3,253.6 143.5,253.9 143.8,253.7 144.0,253.9 144.3,253.0 144.6,253.5 144.8,253.9 145.1,253.9 145.3,253.8 145.6,254.1 145.8,253.9 146.1,253.9 146.3,253.5 146.6,253.8 146.9,253.9 147.1,254.0 147.4,254.0 147.6,253.7 147.9,253.7 148.1,253.4 148.4,253.8 148.6,253.4 148.9,253.6 149.2,253.7 149.4,254.2 149.7,254.0 149.9,253.5 150.2,253.3 150.4,253.6 150.7,253.5 151.0,253.8 151.2,253.8 151.5,253.9 151.7,253.4 152.0,253.6 152.2,253.7 152.5,253.8 152.7,253.5 153.0,253.6 153.3,253.9 153.5,253.2 153.8,253.6 154.0,253.7 154.3,253.3 154.5,253.4 154.8,253.7 155.0,253.6 155.3,254.0 155.6,253.9 155.8,254.3 156.1,253.4 156.3,254.2 156.6,253.5 156.8,253.9 157.1,253.9 157.4,253.7 157.6,253.6 157.9,253.5 158.1,253.2 158.4,253.6 158.6,253.5 158.9,253.8 159.1,253.5 159.4,253.6 159.7,253.8 159.9,253.7 160.2,253.7 160.4,253.6 160.7,253.6 160.9,253.8 161.2,253.9 161.5,253.5 161.7,254.1 162.0,253.8 162.2,253.3 162.5,254.4 162.7,253.9 163.0,253.5 163.2,254.1 163.5,253.0 163.8,254.4 164.0,253.3 164.3,253.3 164.5,253.5 164.8,253.7 165.0,253.6 165.3,253.9 165.5,253.5 165.8,254.0 166.1,253.8 166.3,253.4 166.6,254.0 166.8,253.8 167.1,253.6 167.3,254.0 167.6,253.4 167.9,253.6 168.1,254.1 168.4,253.7 168.6,253.9 168.9,253.9 169.1,253.7 169.4,253.9 169.6,253.4 169.9,253.9 170.2,253.4 170.4,253.7 170.7,253.5 170.9,253.8 171.2,253.8 171.4,254.0 171.7,253.5 171.9,253.4 172.2,253.1 172.5,253.4 172.7,253.6 173.0,253.7 173.2,253.6 173.5,253.7 173.7,253.3 174.0,253.4 174.3,253.9 174.5,253.9 174.8,253.3 175.0,253.6 175.3,253.7 175.5,253.4 175.8,253.8 176.0,253.8 176.3,253.8 176.6,254.2 176.8,253.5 177.1,254.0 177.3,253.8 177.6,253.9 177.8,253.5 178.1,253.7 178.3,253.7 178.6,254.1 178.9,253.7 179.1,254.1 179.4,253.6 179.6,253.6 179.9,253.7 180.1,253.2 180.4,253.6 180.7,253.5 180.9,253.7 181.2,253.7 181.4,253.4 181.7,253.4 181.9,254.0 182.2,253.4 182.4,253.6 182.7,253.4 183.0,253.6 183.2,254.0 183.5,254.0 183.7,253.2 184.0,253.6 184.2,254.1 184.5,253.6 184.8,253.8 185.0,254.2 185.3,254.3 185.5,254.1 185.8,253.6 186.0,253.7 186.3,253.8 186.5,253.6 186.8,253.5 187.1,254.2 187.3,253.8 187.6,253.9 187.8,254.0 188.1,253.8 188.3,253.7 188.6,253.8 188.8,254.1 189.1,253.8 189.4,253.2 189.6,254.0 189.9,254.1 190.1,253.6 190.4,253.5 190.6,253.6 190.9,254.0 191.2,253.4 191.4,253.9 191.7,254.0 191.9,253.8 192.2,253.7 192.4,253.5 192.7,253.5 192.9,253.7 193.2,253.4 193.5,253.7 193.7,253.5 194.0,254.0 194.2,254.1 194.5,253.5 194.7,254.0 195.0,253.8 195.2,253.7 195.5,253.8 195.8,253.8 196.0,253.3 196.3,254.3 196.5,253.5 196.8,253.1 197.0,253.7 197.3,253.7 197.6,253.5 197.8,253.2 198.1,254.0 198.3,253.7 198.6,253.7 198.8,253.5 199.1,253.6 199.3,253.5 199.6,253.8 199.9,253.7 200.1,253.9 200.4,253.9 200.6,253.7 200.9,253.7 201.1,254.0 201.4,253.3 201.7,253.7 201.9,254.0 202.2,253.4 202.4,253.9 202.7,253.6 202.9,253.7 203.2,253.6 203.4,253.6 203.7,253.8 204.0,253.7 204.2,253.2 204.5,254.3 204.7,253.7 205.0,253.6 205.2,254.0 205.5,254.0 205.7,253.1 206.0,253.8 206.3,253.2 206.5,253.6 206.8,253.7 207.0,253.6 207.3,253.5 207.5,253.4 207.8,253.6 208.1,253.7 208.3,253.6 208.6,253.3 208.8,253.5 209.1,253.9 209.3,253.9 209.6,253.6 209.8,253.8 210.1,253.8 210.4,253.9 210.6,253.8 210.9,253.6 211.1,253.4 211.4,253.7 211.6,253.2 211.9,253.7 212.1,252.9 212.4,253.4 212.7,253.6 212.9,253.8 213.2,254.4 213.4,253.7 213.7,253.6 213.9,253.2 214.2,254.0 214.5,253.2 214.7,253.8 215.0,253.5 215.2,254.3 215.5,253.7 215.7,253.8 216.0,253.5 216.2,253.7 216.5,254.0 216.8,253.4 217.0,253.5 217.3,253.5 217.5,253.4 217.8,253.4 218.0,253.7 218.3,254.0 218.5,254.0 218.8,253.3 219.1,253.5 219.3,253.7 219.6,253.8 219.8,253.7 220.1,253.7 220.3,253.8 220.6,253.9 220.9,253.1 221.1,253.6 221.4,253.8 221.6,254.0 221.9,253.9 222.1,253.5 222.4,253.5 222.6,253.7 222.9,253.7 223.2,253.8 223.4,254.0 223.7,253.4 223.9,253.6 224.2,253.1 224.4,253.9 224.7,253.7 225.0,253.5 225.2,253.8 225.5,254.0 225.7,253.9 226.0,253.7 226.2,253.6 226.5,253.7 226.7,253.4 227.0,253.4 227.3,253.6 227.5,253.7 227.8,253.8 228.0,253.5 228.3,253.5 228.5,253.7 228.8,253.6 229.0,253.8 229.3,254.1 229.6,253.9 229.8,253.5 230.1,253.6 230.3,253.3 230.6,253.7 230.8,253.5 231.1,253.3 231.4,253.4 231.6,253.8 231.9,253.7 232.1,253.7 232.4,253.9 232.6,253.6 232.9,253.4 233.1,253.8 233.4,253.2 233.7,253.8 233.9,253.7 234.2,253.7 234.4,253.9 234.7,253.6 234.9,253.7 235.2,253.3 235.4,253.5 235.7,253.6 236.0,253.7 236.2,254.1 236.5,253.7 236.7,253.9 237.0,253.4 237.2,253.7 237.5,253.3 237.8,253.5 238.0,253.5 238.3,253.6 238.5,253.6 238.8,253.5 239.0,253.5 239.3,253.9 239.5,253.6 239.8,253.0 240.1,253.7 240.3,253.8 240.6,253.9 240.8,254.1 241.1,253.4 241.3,253.7 241.6,253.6 241.8,253.2 242.1,253.0 242.4,253.9 242.6,253.4 242.9,253.5 243.1,253.6 243.4,253.6 243.6,253.7 243.9,253.3 244.2,253.5 244.4,253.6 244.7,253.4 244.9,253.5 245.2,253.6 245.4,253.6 245.7,253.2 245.9,253.6 246.2,253.7 246.5,253.9 246.7,253.8 247.0,254.0 247.2,253.7 247.5,253.6 247.7,254.2 248.0,253.7 248.3,253.5 248.5,253.6 248.8,253.9 249.0,253.4 249.3,253.9 249.5,254.0 249.8,254.0 250.0,253.7 250.3,253.4 250.6,253.4 250.8,253.6 251.1,254.0 251.3,253.9 251.6,253.9 251.8,253.7 252.1,254.1 252.3,253.7 252.6,253.5 252.9,253.7 253.1,253.6 253.4,253.9 253.6,254.1 253.9,253.9 254.1,253.4 254.4,253.4 254.7,253.8 254.9,253.4 255.2,253.8 255.4,253.3 255.7,253.6 255.9,253.8 256.2,253.5 256.4,253.9 256.7,253.9 257.0,254.1 257.2,253.6 257.5,253.7 257.7,253.7 258.0,253.8 258.2,253.3 258.5,253.8 258.7,253.9 259.0,253.4 259.3,253.3 259.5,253.6 259.8,254.1 260.0,253.8 260.3,253.5 260.5,253.7 260.8,253.3 261.1,254.0 261.3,253.5 261.6,253.8 261.8,253.3 262.1,253.7 262.3,253.4 262.6,253.9 262.8,254.1 263.1,254.0 263.4,253.8 263.6,254.0 263.9,253.4 264.1,253.3 264.4,253.6 264.6,254.0 264.9,253.7 265.1,253.9 265.4,253.3 265.7,253.6 265.9,253.6 266.2,253.8 266.4,254.2 266.7,253.9 266.9,254.0 267.2,253.6 267.5,253.7 267.7,253.9 268.0,253.8 268.2,253.3 268.5,253.9 268.7,253.9 269.0,253.7 269.2,253.9 269.5,253.8 269.8,253.6 270.0,253.2 270.3,254.1 270.5,253.7 270.8,253.7 271.0,253.7 271.3,253.7 271.6,253.8 271.8,253.4 272.1,253.8 272.3,253.7 272.6,253.7 272.8,253.7 273.1,253.7 273.3,253.4 273.6,253.7 273.9,253.6 274.1,253.7 274.4,253.9 274.6,253.9 274.9,254.0 275.1,253.6 275.4,253.9 275.6,254.0 275.9,253.6 276.2,253.6 276.4,254.1 276.7,253.3 276.9,253.7 277.2,253.7 277.4,253.4 277.7,253.7 278.0,253.8 278.2,253.1 278.5,254.0 278.7,253.7 279.0,253.5 279.2,254.0 279.5,253.7 279.7,253.6 280.0,253.1 280.3,253.9 280.5,253.7 280.8,253.5 281.0,253.7 281.3,254.0 281.5,253.6 281.8,253.7 282.0,253.6 282.3,253.4 282.6,253.4 282.8,253.6 283.1,253.6 283.3,254.0 283.6,253.7 283.8,253.6 284.1,253.8 284.4,253.7 284.6,253.9 284.9,253.3 285.1,253.1 285.4,253.8 285.6,253.6 285.9,253.7 286.1,253.4 286.4,253.6 286.7,253.7 286.9,253.7 287.2,253.7 287.4,253.9 287.7,253.5 287.9,253.9 288.2,253.6 288.4,253.7 288.7,253.4 289.0,253.7 289.2,253.4 289.5,253.9 289.7,253.5 290.0,253.7 290.2,253.6 290.5,253.7 290.8,253.4 291.0,254.2 291.3,253.6 291.5,254.1 291.8,253.4 292.0,254.2 292.3,253.9 292.5,254.1 292.8,253.3 293.1,254.0 293.3,253.7 293.6,253.8 293.8,254.2 294.1,253.8 294.3,253.5 294.6,253.7 294.9,253.4 295.1,253.8 295.4,253.7 295.6,253.8 295.9,253.6 296.1,253.2 296.4,253.6 296.6,253.6 296.9,253.8 297.2,253.9 297.4,253.3 297.7,254.0 297.9,253.9 298.2,253.7 298.4,253.8 298.7,253.2 298.9,254.3 299.2,253.6 299.5,253.5 299.7,254.0 300.0,253.9 300.2,253.6 300.5,253.3 300.7,253.9 301.0,254.1 301.3,253.4 301.5,253.3 301.8,253.8 302.0,254.3 302.3,253.3 302.5,253.7 302.8,253.4 303.0,253.7 303.3,253.8 303.6,253.8 303.8,253.3 304.1,253.3 304.3,254.2 304.6,253.9 304.8,253.2 305.1,253.8 305.3,254.0 305.6,253.7 305.9,253.7 306.1,253.7 306.4,253.8 306.6,253.8 306.9,253.8 307.1,253.6 307.4,253.9 307.7,253.8 307.9,253.7 308.2,253.4 308.4,253.6 308.7,253.7 308.9,253.6 309.2,253.6 309.4,253.4 309.7,253.6 310.0,253.2 310.2,253.3 310.5,253.7 310.7,253.8 311.0,253.5 311.2,253.6 311.5,253.7 311.8,254.1 312.0,254.2 312.3,253.6 312.5,253.5 312.8,253.5 313.0,254.0 313.3,253.4 313.5,253.8 313.8,253.6 314.1,253.6 314.3,253.9 314.6,253.8 314.8,254.2 315.1,253.9 315.3,254.2 315.6,253.6 315.8,253.7 316.1,253.5 316.4,253.6 316.6,253.9 316.9,253.6 317.1,253.8 317.4,253.5 317.6,253.6 317.9,253.9 318.2,253.7 318.4,253.7 318.7,253.8 318.9,253.5 319.2,253.2 319.4,253.8 319.7,253.8 319.9,254.3 320.2,253.7 320.5,253.8 320.7,254.2 321.0,253.6 321.2,253.5 321.5,253.9 321.7,253.8 322.0,253.9 322.2,253.5 322.5,254.1 322.8,253.8 323.0,253.2 323.3,253.7 323.5,253.6 323.8,253.7 324.0,254.0 324.3,253.7 324.6,253.6 324.8,254.0 325.1,253.6 325.3,253.4 325.6,253.4 325.8,254.1 326.1,253.9 326.3,254.1 326.6,253.4 326.9,253.5 327.1,253.5 327.4,253.9 327.6,254.0 327.9,253.7 328.1,253.7 328.4,253.9 328.6,253.7 328.9,253.5 329.2,253.6 329.4,254.0 329.7,254.2 329.9,253.8 330.2,253.6 330.4,253.8 330.7,253.8 331.0,253.9 331.2,253.5 331.5,253.7 331.7,253.7 332.0,253.9 332.2,253.8 332.5,253.6 332.7,253.9 333.0,254.0 333.3,253.8 333.5,253.4 333.8,253.6 334.0,253.3 334.3,253.7 334.5,253.8 334.8,254.0 335.1,253.8 335.3,253.3 335.6,253.6 335.8,253.5 336.1,253.5 336.3,253.7 336.6,253.7 336.8,253.7 337.1,253.5 337.4,253.6 337.6,253.6 337.9,253.6 338.1,253.9 338.4,253.8 338.6,253.9 338.9,253.4 339.1,254.2 339.4,253.7 339.7,253.1 339.9,253.8 340.2,254.0 340.4,253.7 340.7,253.4 340.9,253.7 341.2,253.5 341.5,253.7 341.7,253.8 342.0,252.9 342.2,253.7 342.5,253.8 342.7,253.8 343.0,253.6 343.2,253.6 343.5,253.5" fill="none" stroke="#3050d8" stroke-width="0.8" stroke-opacity="1.0" stroke-linejoin="bevel"/>
<polyline points="36.5,253.5 36.8,253.8 37.0,253.4 37.3,253.6 37.5,253.6 37.8,253.8 38.0,253.6 38.3,253.7 38.5,253.5 38.8,253.8 39.1,253.5 39.3,253.5 39.6,253.7 39.8,253.6 40.1,253.7 40.3,253.4 40.6,254.0 40.9,253.6 41.1,253.8 41.4,253.6 41.6,253.4 41.9,253.6 42.1,253.5 42.4,253.7 42.6,253.2 42.9,253.4 43.2,253.3 43.4,253.8 43.7,253.7 43.9,253.3 44.2,253.6 44.4,253.6 44.7,253.5 44.9,253.8 45.2,253.4 45.5,253.5 45.7,253.4 46.0,253.7 46.2,253.4 46.5,253.7 46.7,253.3 47.0,253.3 47.3,253.4 47.5,253.4 47.8,253.4 48.0,254.0 48.3,253.4 48.5,253.6 48.8,253.5 49.0,253.6 49.3,253.8 49.6,253.6 49.8,253.4 50.1,253.3 50.3,253.6 50.6,253.7 50.8,253.2 51.1,253.7 51.4,253.1 51.6,253.5 51.9,253.7 52.1,253.3 52.4,253.2 52.6,253.8 52.9,253.2 53.1,253.6 53.4,253.2 53.7,253.6 53.9,253.8 54.2,253.4 54.4,253.3 54.7,253.1 54.9,253.2 55.2,253.4 55.4,253.6 55.7,253.6 56.0,253.6 56.2,253.7 56.5,253.6 56.7,254.0 57.0,253.5 57.2,253.5 57.5,253.0 57.8,253.4 58.0,253.6 58.3,253.4 58.5,253.8 58.8,253.6 59.0,253.9 59.3,253.3 59.5,253.4 59.8,253.8 60.1,253.5 60.3,253.3 60.6,253.4 60.8,253.5 61.1,253.7 61.3,253.7 61.6,253.5 61.8,253.4 62.1,253.7 62.4,253.7 62.6,253.3 62.9,253.7 63.1,253.3 63.4,253.5 63.6,253.4 63.9,253.2 64.2,253.4 64.4,253.4 64.7,253.7 64.9,253.7 65.2,253.4 65.4,253.2 65.7,253.3 65.9,253.1 66.2,253.5 66.5,253.5 66.7,253.3 67.0,253.5 67.2,253.5 67.5,253.7 67.7,253.3 68.0,253.7 68.2,253.4 68.5,253.8 68.8,253.3 69.0,253.7 69.3,253.4 69.5,253.8 69.8,253.6 70.0,253.3 70.3,253.7 70.6,253.5 70.8,253.6 71.1,254.0 71.3,253.5 71.6,253.4 71.8,253.7 72.1,253.4 72.3,253.7 72.6,253.7 72.9,253.5 73.1,253.7 73.4,253.1 73.6,253.8 73.9,253.4 74.1,253.3 74.4,253.9 74.7,253.9 74.9,253.4 75.2,253.6 75.4,253.5 75.7,253.3 75.9,253.6 76.2,253.7 76.4,254.1 76.7,253.5 77.0,253.7 77.2,253.5 77.5,253.5 77.7,253.8 78.0,253.2 78.2,253.3 78.5,253.4 78.7,253.8 79.0,253.6 79.3,253.6 79.5,253.6 79.8,253.7 80.0,253.4 80.3,253.5 80.5,253.5 80.8,253.6 81.1,253.3 81.3,253.5 81.6,254.1 81.8,253.7 82.1,253.5 82.3,253.3 82.6,253.6 82.8,253.6 83.1,253.7 83.4,253.4 83.6,253.6 83.9,253.6 84.1,253.7 84.4,253.4 84.6,253.6 84.9,253.9 85.1,253.4 85.4,253.7 85.7,253.5 85.9,253.5 86.2,253.3 86.4,253.3 86.7,253.6 86.9,253.6 87.2,253.8 87.5,253.2 87.7,253.4 88.0,253.3 88.2,253.6 88.5,253.9 88.7,253.2 89.0,253.5 89.2,253.5 89.5,253.5 89.8,253.4 90.0,253.4 90.3,253.8 90.5,253.3 90.8,253.6 91.0,253.6 91.3,253.2 91.6,253.4 91.8,253.6 92.1,253.9 92.3,253.5 92.6,253.4 92.8,253.5 93.1,253.8 93.3,253.7 93.6,253.8 93.9,253.5 94.1,253.4 94.4,253.3 94.6,253.7 94.9,253.5 95.1,253.4 95.4,253.6 95.6,253.6 95.9,253.1 96.2,253.5 96.4,253.4 96.7,253.6 96.9,253.5 97.2,253.9 97.4,253.5 97.7,253.3 98.0,253.1 98.2,253.3 98.5,253.4 98.7,253.5 99.0,253.6 99.2,253.6 99.5,253.4 99.7,253.7 100.0,253.3 100.3,253.7 100.5,253.9 100.8,253.7 101.0,253.8 101.3,253.8 101.5,253.3 101.8,253.6 102.0,253.5 102.3,253.3 102.6,253.3 102.8,253.6 103.1,253.3 103.3,253.5 103.6,253.5 103.8,253.4 104.1,253.8 104.4,253.7 104.6,253.5 104.9,253.4 105.1,253.6 105.4,253.6 105.6,253.3 105.9,253.3 106.1,253.4 106.4,253.3 106.7,253.6 106.9,253.6 107.2,253.5 107.4,253.6 107.7,253.6 107.9,253.2 108.2,253.6 108.4,253.7 108.7,253.4 109.0,253.2 109.2,253.5 109.5,253.3 109.7,253.6 110.0,253.6 110.2,253.7 110.5,253.6 110.8,253.2 111.0,253.8 111.3,253.2 111.5,253.7 111.8,253.6 112.0,253.4 112.3,253.4 112.5,253.5 112.8,253.8 113.1,253.5 113.3,253.7 113.6,253.0 113.8,253.6 114.1,253.5 114.3,253.7 114.6,253.6 114.9,253.8 115.1,253.3 115.4,253.6 115.6,253.4 115.9,253.7 116.1,253.6 116.4,253.3 116.6,253.7 116.9,253.9 117.2,253.4 117.4,253.7 117.7,253.6 117.9,253.4 118.2,253.7 118.4,253.4 118.7,253.7 118.9,253.2 119.2,253.3 119.5,253.6 119.7,253.6 120.0,253.7 120.2,253.5 120.5,253.3 120.7,253.8 121.0,253.4 121.3,253.8 121.5,253.7 121.8,253.9 122.0,253.1 122.3,253.5 122.5,253.5 122.8,253.7 123.0,253.3 123.3,253.9 123.6,253.5 123.8,253.1 124.1,253.6 124.3,253.5 124.6,253.4 124.8,253.7 125.1,253.5 125.3,253.3 125.6,253.5 125.9,253.5 126.1,253.6 126.4,253.5 126.6,253.5 126.9,253.2 127.1,253.4 127.4,253.6 127.7,254.0 127.9,253.4 128.2,253.4 128.4,253.7 128.7,253.9 128.9,253.7 129.2,253.3 129.4,253.7 129.7,253.6 130.0,253.5 130.2,253.3 130.5,253.5 130.7,253.5 131.0,253.6 131.2,253.2 131.5,253.3 131.7,253.5 132.0,253.8 132.3,253.7 132.5,253.4 132.8,253.7 133.0,253.4 133.3,253.5 133.5,253.5 133.8,253.4 134.1,253.4 134.3,253.7 134.6,253.6 134.8,253.1 135.1,253.8 135.3,253.6 135.6,253.3 135.8,253.6 136.1,253.7 136.4,253.8 136.6,253.4 136.9,253.3 137.1,253.3 137.4,253.5 137.6,253.3 137.9,253.7 138.2,253.5 138.4,253.7 138.7,253.5 138.9,253.4 139.2,253.3 139.4,253.7 139.7,253.3 139.9,253.6 140.2,253.7 140.5,253.6 140.7,253.8 141.0,253.5 141.2,253.5 141.5,253.6 141.7,253.4 142.0,253.6 142.2,253.5 142.5,253.8 142.8,253.5 143.0,253.7 143.3,253.6 143.5,253.5 143.8,253.5 144.0,253.8 144.3,253.8 144.6,253.6 144.8,253.4 145.1,253.5 145.3,253.4 145.6,253.3 145.8,253.4 146.1,253.5 146.3,253.7 146.6,253.7 146.9,253.6 147.1,253.5 147.4,253.5 147.6,253.5 147.9,253.6 148.1,253.4 148.4,253.5 148.6,253.5 148.9,253.5 149.2,253.6 149.4,253.7 149.7,253.4 149.9,253.4 150.2,253.6 150.4,253.6 150.7,253.1 151.0,253.7 151.2,253.6 151.5,253.5 151.7,253.8 152.0,253.5 152.2,253.2 152.5,253.3 152.7,253.4 153.0,253.4 153.3,253.5 153.5,253.3 153.8,253.6 154.0,253.6 154.3,253.5 154.5,253.4 154.8,253.5 155.0,253.4 155.3,253.9 155.6,253.3 155.8,253.1 156.1,253.3 156.3,253.6 156.6,253.7 156.8,253.5 157.1,253.7 157.4,253.4 157.6,253.6 157.9,253.3 158.1,253.3 158.4,253.9 158.6,253.5 158.9,253.7 159.1,253.8 159.4,253.6 159.7,253.6 159.9,253.3 160.2,253.8 160.4,253.3 160.7,253.1 160.9,253.4 161.2,253.4 161.5,253.5 161.7,253.8 162.0,253.4 162.2,253.5 162.5,253.4 162.7,253.0 163.0,253.4 163.2,253.4 163.5,253.2 163.8,253.8 164.0,253.7 164.3,253.6 164.5,253.7 164.8,253.4 165.0,253.6 165.3,253.2 165.5,253.2 165.8,253.4 166.1,253.6 166.3,253.4 166.6,253.4 166.8,253.7 167.1,253.5 167.3,253.4 167.6,253.5 167.9,253.2 168.1,253.3 168.4,253.7 168.6,253.5 168.9,253.7 169.1,253.4 169.4,253.7 169.6,253.4 169.9,253.5 170.2,253.3 170.4,253.6 170.7,253.8 170.9,253.2 171.2,253.6 171.4,253.3 171.7,253.4 171.9,253.4 172.2,253.2 172.5,253.5 172.7,253.3 173.0,253.8 173.2,253.4 173.5,253.6 173.7,253.6 174.0,253.5 174.3,253.5 174.5,253.2 174.8,253.9 175.0,253.5 175.3,253.7 175.5,253.3 175.8,253.6 176.0,253.4 176.3,253.6 176.6,253.4 176.8,253.3 177.1,253.6 177.3,253.5 177.6,253.8 177.8,253.5 178.1,253.4 178.3,253.6 178.6,253.3 178.9,253.9 179.1,253.9 179.4,253.8 179.6,253.6 179.9,253.5 180.1,253.5 180.4,253.5 180.7,253.4 180.9,253.6 181.2,253.8 181.4,253.8 181.7,253.1 181.9,254.0 182.2,253.6 182.4,253.2 182.7,253.4 183.0,253.7 183.2,253.5 183.5,253.4 183.7,253.3 184.0,253.7 184.2,253.4 184.5,253.5 184.8,253.3 185.0,253.3 185.3,253.6 185.5,253.8 185.8,253.5 186.0,253.2 186.3,253.4 186.5,253.5 186.8,253.1 187.1,253.7 187.3,253.4 187.6,253.6 187.8,253.5 188.1,253.5 188.3,253.2 188.6,253.7 188.8,253.6 189.1,253.8 189.4,253.4 189.6,253.6 189.9,253.4 190.1,253.7 190.4,253.6 190.6,253.3 190.9,253.6 191.2,253.4 191.4,253.4 191.7,253.6 191.9,253.8 192.2,253.3 192.4,253.5 192.7,253.3 192.9,253.9 193.2,253.8 193.5,253.9 193.7,253.7 194.0,253.3 194.2,253.4 194.5,253.5 194.7,253.5 195.0,253.4 195.2,253.6 195.5,253.5 195.8,253.5 196.0,253.9 196.3,253.6 196.5,253.3 196.8,253.6 197.0,253.6 197.3,253.6 197.6,253.6 197.8,253.3 198.1,253.6 198.3,253.7 198.6,254.1 198.8,253.6 199.1,253.9 199.3,253.9 199.6,253.4 199.9,253.4 200.1,253.9 200.4,253.4 200.6,253.4 200.9,253.7 201.1,253.4 201.4,253.8 201.7,253.8 201.9,253.8 202.2,253.7 202.4,253.4 202.7,253.8 202.9,253.7 203.2,253.7 203.4,253.5 203.7,253.6 204.0,253.4 204.2,253.7 204.5,253.8 204.7,253.6 205.0,253.5 205.2,253.7 205.5,253.5 205.7,253.2 206.0,253.6 206.3,253.5 206.5,253.3 206.8,253.7 207.0,253.7 207.3,253.7 207.5,253.5 207.8,253.4 208.1,253.6 208.3,253.5 208.6,253.3 208.8,253.4 209.1,253.8 209.3,253.5 209.6,253.5 209.8,253.4 210.1,253.6 210.4,253.7 210.6,253.6 210.9,253.9 211.1,253.5 211.4,253.6 211.6,253.4 211.9,253.7 212.1,253.6 212.4,253.7 212.7,253.7 212.9,253.4 213.2,253.6 213.4,253.4 213.7,253.8 213.9,253.5 214.2,253.9 214.5,253.6 214.7,253.6 215.0,253.4 215.2,253.5 215.5,253.6 215.7,253.4 216.0,253.5 216.2,253.4 216.5,253.4 216.8,253.5 217.0,253.6 217.3,253.5 217.5,253.6 217.8,253.5 218.0,253.3 218.3,253.4 218.5,253.6 218.8,253.8 219.1,253.5 219.3,253.6 219.6,253.3 219.8,253.6 220.1,253.6 220.3,253.4 220.6,253.6 220.9,253.6 221.1,253.2 221.4,253.3 221.6,253.4 221.9,253.5 222.1,253.7 222.4,253.4 222.6,253.5 222.9,253.5 223.2,253.6 223.4,253.5 223.7,253.6 223.9,253.5 224.2,253.3 224.4,253.5 224.7,253.9 225.0,253.7 225.2,253.8 225.5,253.7 225.7,253.4 226.0,253.5 226.2,253.7 226.5,253.5 226.7,253.7 227.0,253.8 227.3,253.8 227.5,253.7 227.8,253.3 228.0,253.8 228.3,253.3 228.5,253.3 228.8,253.6 229.0,253.5 229.3,253.7 229.6,253.5 229.8,253.4 230.1,253.5 230.3,253.3 230.6,253.3 230.8,253.5 231.1,253.5 231.4,253.5 231.6,253.5 231.9,253.8 232.1,253.5 232.4,253.5 232.6,253.7 232.6,253.4 232.7,243.1 232.8,253.4 232.9,253.1 233.1,253.7 233.4,253.7 233.7,253.5 233.9,253.9 234.2,253.7 234.4,253.8 234.7,253.7 234.9,253.6 235.2,253.5 235.4,253.3 235.7,253.4 236.0,253.3 236.2,253.4 236.5,253.6 236.7,253.3 237.0,253.6 237.2,253.7 237.5,253.2 237.8,253.4 238.0,253.5 238.3,253.4 238.5,253.4 238.8,253.8 239.0,253.6 239.3,253.8 239.5,253.5 239.8,253.7 240.1,253.3 240.3,253.4 240.6,253.7 240.8,253.5 241.1,253.8 241.3,253.5 241.6,253.4 241.8,253.5 242.1,253.9 242.4,253.6 242.6,253.4 242.9,253.5 243.1,253.3 243.4,253.8 243.6,253.4 243.9,253.7 244.2,253.5 244.4,253.5 244.7,253.4 244.9,253.6 245.2,253.5 245.4,253.8 245.7,253.8 245.9,253.4 246.2,253.5 246.5,253.9 246.7,253.7 247.0,253.5 247.2,253.2 247.5,253.3 247.7,253.4 248.0,253.9 248.3,253.6 248.5,253.4 248.8,253.5 249.0,253.5 249.3,253.6 249.5,253.2 249.8,253.3 250.0,253.6 250.3,253.7 250.6,253.1 250.8,253.6 251.1,253.3 251.3,253.2 251.6,253.7 251.8,253.5 252.1,253.6 252.3,253.4 252.6,253.5 252.9,253.2 253.1,253.4 253.0,253.4 253.1,247.1 253.2,253.4 253.4,253.5 253.6,253.3 253.8,253.4 253.9,242.0 254.0,253.4 253.9,253.6 254.1,253.6 254.4,253.1 254.7,253.7 254.9,253.6 255.2,253.5 255.2,253.4 255.4,248.7 255.5,253.4 255.4,253.7 255.7,253.9 255.7,253.4 255.9,247.1 256.0,253.4 255.9,253.3 256.2,253.7 256.4,253.6 256.7,253.6 257.0,253.7 257.2,253.7 257.1,253.4 257.2,247.5 257.3,253.4 257.5,253.5 257.4,253.4 257.5,241.0 257.6,253.4 257.7,253.1 258.0,253.4 258.2,253.4 258.5,253.8 258.7,253.5 259.0,253.8 258.9,253.4 259.1,240.9 259.2,253.4 259.3,253.4 259.2,253.4 259.3,244.7 259.5,253.4 259.5,253.6 259.8,253.5 260.0,253.6 260.3,253.7 260.4,253.4 260.5,239.7 260.7,253.4 260.5,253.8 260.8,253.4 261.1,253.8 261.3,253.8 261.6,253.6 261.5,253.4 261.6,248.3 261.7,253.4 261.8,253.7 262.1,253.5 262.2,253.4 262.3,240.9 262.4,253.4 262.3,253.3 262.6,253.5 262.8,253.5 263.1,253.5 263.2,253.4 263.3,242.0 263.4,253.4 263.4,253.4 263.6,253.9 263.9,253.5 264.1,253.7 264.4,253.8 264.4,253.4 264.5,238.8 264.6,253.4 264.6,253.5 264.9,253.6 265.1,253.4 265.2,253.4 265.3,243.0 265.4,253.4 265.4,253.3 265.7,254.0 265.7,253.4 265.8,247.2 266.0,253.4 265.9,253.6 266.2,253.2 266.4,253.4 266.5,253.4 266.7,242.3 266.8,253.4 266.7,253.3 266.9,253.5 267.2,253.8 267.5,253.8 267.7,253.4 268.0,253.4 267.9,253.4 268.0,240.1 268.1,253.4 268.2,253.7 268.5,253.6 268.7,253.5 269.0,253.9 268.9,253.4 269.0,245.9 269.1,253.4 269.2,253.6 269.5,253.2 269.4,253.4 269.5,246.9 269.6,253.4 269.8,253.1 270.0,253.6 270.3,253.2 270.5,253.6 270.4,253.4 270.6,239.2 270.7,253.4 270.8,253.7 271.0,254.0 271.3,253.4 271.6,253.6 271.5,253.4 271.6,244.4 271.8,253.4 271.8,253.1 272.1,253.5 272.0,253.4 272.1,240.2 272.2,253.4 272.3,253.5 272.6,253.9 272.8,253.3 273.1,253.6 273.3,253.6 273.4,253.4 273.6,241.0 273.7,253.4 273.6,254.0 273.9,253.4 273.9,253.4 274.0,244.9 274.2,253.4 274.1,253.3 274.4,253.7 274.6,253.5 274.9,253.5 275.1,253.4 275.0,253.4 275.2,239.5 275.3,253.4 275.4,253.5 275.6,253.2 275.7,253.4 275.8,244.6 275.9,253.4 275.9,253.6 276.2,253.7 276.4,253.6 276.5,253.4 276.6,248.8 276.7,253.4 276.7,254.0 276.9,253.7 277.2,253.3 277.4,253.5 277.5,253.4 277.6,240.6 277.8,253.4 277.7,253.7 278.0,253.5 278.2,253.9 278.5,253.6 278.7,253.4 278.7,253.4 278.9,244.0 279.0,253.4 279.0,253.4 279.2,253.7 279.5,253.4 279.5,253.4 279.6,246.2 279.7,253.4 279.7,253.2 280.0,253.6 280.3,253.4 280.5,253.8 280.8,253.9 281.0,253.4 281.3,253.5 281.5,253.5 281.8,253.7 282.0,253.6 282.3,253.4 282.6,253.2 282.8,253.6 283.1,253.9 283.3,253.3 283.6,253.4 283.8,253.4 284.1,253.5 284.4,253.1 284.6,253.5 284.9,253.4 285.1,253.9 285.4,253.6 285.6,253.7 285.9,253.5 286.1,253.5 286.4,253.7 286.7,253.2 286.9,253.7 287.2,253.6 287.4,253.5 287.7,253.8 287.9,253.4 288.2,253.4 288.4,253.6 288.7,253.2 289.0,253.5 288.9,253.4 289.1,247.3 289.2,253.4 289.2,253.5 289.5,253.7 289.7,253.9 290.0,253.7 289.9,253.4 290.1,246.7 290.2,253.4 290.2,253.6 290.5,253.6 290.8,253.4 291.0,254.0 291.3,253.8 291.5,253.9 291.8,253.3 292.0,253.6 292.2,253.4 292.3,249.2 292.4,253.4 292.3,253.6 292.5,253.7 292.8,253.4 293.1,253.6 293.3,253.5 293.6,253.9 293.7,253.4 293.8,249.1 293.9,253.4 293.8,253.3 294.1,253.5 294.3,253.4 294.6,253.3 294.9,253.6 294.7,253.4 294.9,245.1 295.0,253.4 295.1,253.6 295.4,253.4 295.6,253.5 295.9,253.6 296.1,253.5 296.4,253.6 296.6,253.4 296.8,253.4 296.9,248.7 297.0,253.4 296.9,253.4 297.2,253.5 297.4,253.2 297.7,253.8 297.9,253.6 298.2,253.2 298.1,253.4 298.2,246.8 298.3,253.4 298.4,253.6 298.7,253.8 298.9,253.3 299.2,253.4 299.5,253.8 299.7,253.4 300.0,253.7 300.2,253.8 300.5,253.6 300.7,253.6 301.0,253.7 301.3,253.6 301.5,253.7 301.8,253.5 302.0,253.5 302.3,253.4 302.5,253.6 302.8,253.8 303.0,253.8 303.3,253.6 303.6,253.2 303.8,253.4 304.1,253.7 304.3,253.4 304.6,253.8 304.8,253.3 305.1,253.6 305.3,253.4 305.6,253.4 305.9,253.6 306.1,253.5 306.4,253.7 306.6,253.6 306.9,253.3 307.1,252.7 307.4,253.4 307.7,253.5 307.9,253.7 308.2,253.3 308.4,253.9 308.7,253.7 308.9,253.5 309.2,253.8 309.4,253.2 309.7,253.3 310.0,253.6 310.2,253.6 310.5,253.8 310.7,253.8 311.0,253.5 311.2,253.4 311.5,253.5 311.8,253.5 312.0,253.6 312.3,253.5 312.5,253.8 312.8,253.5 313.0,253.3 313.3,253.3 313.5,253.6 313.8,253.6 314.1,253.3 314.3,253.2 314.6,253.8 314.8,253.6 315.1,253.5 315.3,253.3 315.6,253.7 315.8,253.4 316.1,253.6 316.4,253.1 316.6,253.5 316.9,253.6 317.1,253.6 317.4,253.3 317.6,253.4 317.9,253.7 318.2,253.5 318.4,253.8 318.7,253.7 318.9,253.8 319.2,253.8 319.4,253.7 319.7,253.7 319.9,253.4 320.2,253.4 320.5,253.6 320.7,253.8 321.0,253.4 321.2,253.9 321.5,253.9 321.7,253.4 322.0,253.4 322.2,253.3 322.5,253.6 322.8,253.8 323.0,253.6 323.3,253.4 323.5,253.7 323.8,253.7 324.0,253.8 324.3,253.8 324.6,253.4 324.8,253.4 325.1,253.8 325.3,253.7 325.6,253.6 325.8,253.4 326.1,253.8 326.3,253.6 326.6,254.0 326.9,253.8 327.1,253.5 327.4,253.4 327.6,253.8 327.9,253.7 328.1,253.4 328.4,253.6 328.6,253.6 328.9,253.4 329.2,253.5 329.4,253.3 329.7,253.4 329.9,253.6 330.2,253.6 330.4,253.5 330.7,253.8 331.0,253.7 331.2,253.3 331.5,253.8 331.7,253.3 332.0,253.5 332.2,253.6 332.5,253.4 332.7,253.4 333.0,253.3 333.3,253.6 333.5,253.6 333.8,253.6 334.0,253.2 334.3,253.4 334.5,253.7 334.8,253.6 335.1,253.7 335.3,253.5 335.6,253.5 335.8,253.1 336.1,253.9 336.3,253.3 336.6,253.5 336.8,253.7 337.1,253.6 337.4,253.6 337.6,253.5 337.9,253.3 338.1,253.8 338.4,253.3 338.6,253.6 338.9,253.2 339.1,253.5 339.4,253.3 339.7,253.4 339.9,253.3 340.2,253.5 340.4,253.7 340.7,253.4 340.9,253.4 341.2,253.1 341.5,253.9 341.7,253.6 342.0,253.3 342.2,253.8 342.5,253.6 342.7,253.1 343.0,253.3 343.2,253.7 343.5,253.3" fill="none" stroke="#40a850" stroke-width="0.6" stroke-opacity="0.85" stroke-linejoin="bevel"/>
<polyline points="36.5,253.3 36.8,253.4 37.0,253.3 37.3,253.4 37.5,253.1 37.8,253.2 38.0,253.1 38.3,253.2 38.5,253.5 38.8,253.3 39.1,253.1 39.3,253.4 39.6,252.7 39.8,253.4 40.1,253.4 40.3,253.1 40.6,253.2 40.9,253.3 41.1,253.3 41.4,253.2 41.6,253.1 41.9,253.2 42.1,253.4 42.4,253.2 42.6,253.1 42.9,253.2 43.2,253.9 43.4,253.5 43.7,253.5 43.9,253.3 44.2,253.3 44.4,253.1 44.7,253.2 44.9,253.3 45.2,253.3 45.5,253.0 45.7,253.4 46.0,253.2 46.2,253.0 46.5,253.2 46.7,253.7 47.0,253.2 47.3,253.4 47.5,253.3 47.8,253.1 48.0,253.2 48.3,253.4 48.5,253.1 48.8,253.2 49.0,253.3 49.3,253.2 49.6,253.3 49.8,253.4 50.1,253.4 50.3,253.3 50.6,253.5 50.8,253.5 51.1,253.1 51.4,253.3 51.6,253.3 51.9,253.3 52.1,253.3 52.4,253.3 52.6,253.3 52.9,253.5 53.1,253.1 53.4,253.4 53.7,253.1 53.9,253.7 54.2,253.5 54.4,253.1 54.7,253.3 54.9,253.4 55.2,253.2 55.4,253.5 55.7,253.3 56.0,253.7 56.2,253.4 56.5,253.4 56.7,253.2 57.0,253.1 57.2,253.5 57.5,253.0 57.8,253.4 58.0,253.7 58.3,253.8 58.5,253.0 58.8,253.3 59.0,253.4 59.3,253.4 59.5,253.5 59.8,253.0 60.1,253.3 60.3,253.0 60.6,253.3 60.8,253.8 61.1,253.1 61.3,253.4 61.6,253.3 61.8,253.0 62.1,253.4 62.4,253.1 62.6,253.3 62.9,253.4 63.1,253.2 63.4,253.4 63.6,253.1 63.9,253.1 64.2,253.3 64.4,253.2 64.7,253.2 64.9,253.4 65.2,253.1 65.4,253.3 65.7,253.2 65.9,253.5 66.2,253.3 66.5,253.2 66.7,253.5 67.0,253.4 67.2,253.4 67.5,253.2 67.7,253.4 68.0,253.2 68.2,253.0 68.5,253.2 68.8,253.6 69.0,253.3 69.3,253.1 69.5,253.4 69.8,253.1 70.0,253.2 70.3,253.2 70.6,253.4 70.8,253.4 71.1,253.4 71.3,253.3 71.6,253.2 71.8,253.2 72.1,253.4 72.3,253.3 72.6,253.2 72.9,253.6 73.1,253.4 73.4,253.5 73.6,253.3 73.9,253.4 74.1,253.4 74.4,253.5 74.7,253.2 74.9,253.2 75.2,253.6 75.4,253.3 75.7,253.5 75.9,253.0 76.2,253.4 76.4,253.4 76.7,253.3 77.0,253.3 77.2,253.3 77.5,253.0 77.7,253.3 78.0,253.1 78.2,253.1 78.5,253.5 78.7,253.0 79.0,253.2 79.3,253.1 79.5,253.5 79.8,253.1 80.0,253.2 80.3,253.4 80.5,252.9 80.8,253.2 81.1,253.3 81.3,253.3 81.6,253.1 81.8,253.1 82.1,253.2 82.3,253.1 82.6,253.0 82.8,253.5 83.1,253.4 83.4,253.5 83.6,253.3 83.9,253.0 84.1,253.2 84.4,253.5 84.6,253.4 84.9,253.1 85.1,253.4 85.4,253.3 85.7,253.2 85.9,253.7 86.2,253.1 86.4,253.2 86.7,253.2 86.9,253.5 87.2,253.4 87.5,253.4 87.7,253.3 88.0,253.3 88.2,253.3 88.5,253.0 88.7,253.0 89.0,253.4 89.2,253.4 89.5,253.0 89.8,253.4 90.0,253.0 90.3,253.0 90.5,253.4 90.8,253.4 91.0,253.3 91.3,253.5 91.6,253.5 91.8,253.4 92.1,253.1 92.3,253.4 92.6,253.3 92.8,253.4 93.1,253.6 93.3,253.0 93.6,253.8 93.9,253.4 94.1,253.2 94.4,253.6 94.6,253.2 94.9,253.1 95.1,253.5 95.4,253.3 95.6,253.5 95.9,253.2 96.2,253.3 96.4,253.3 96.7,253.0 96.9,253.2 97.2,253.0 97.4,253.2 97.7,253.5 98.0,253.2 98.2,253.2 98.5,253.6 98.7,253.0 99.0,253.3 99.2,253.2 99.5,253.5 99.7,253.3 100.0,253.2 100.3,253.4 100.5,253.3 100.8,253.7 101.0,253.0 101.3,253.5 101.5,253.7 101.8,253.5 102.0,253.5 102.3,253.2 102.6,253.5 102.8,253.2 103.1,253.5 103.3,252.9 103.6,253.2 103.8,252.9 104.1,253.5 104.4,253.2 104.6,253.5 104.9,253.2 105.1,253.2 105.4,253.6 105.6,253.5 105.9,253.5 106.1,253.6 106.4,253.4 106.7,253.5 106.9,253.6 107.2,253.3 107.4,253.2 107.7,253.6 107.9,253.4 108.2,253.3 108.4,253.3 108.7,253.4 109.0,253.1 109.2,253.1 109.5,253.2 109.7,253.3 110.0,252.9 110.2,253.0 110.5,253.4 110.8,253.3 111.0,253.1 111.3,253.5 111.5,253.2 111.8,253.3 112.0,253.4 112.3,253.3 112.5,253.6 112.8,253.4 113.1,253.7 113.3,252.9 113.6,253.0 113.8,253.1 114.1,253.2 114.3,253.1 114.6,253.1 114.9,253.1 115.1,253.1 115.4,253.5 115.6,253.2 115.9,253.4 116.1,253.5 116.4,253.5 116.6,253.2 116.9,253.1 117.2,253.6 117.4,253.0 117.7,253.0 117.9,253.4 118.2,253.4 118.4,253.3 118.7,253.1 118.9,253.4 119.2,253.5 119.5,253.2 119.7,253.7 120.0,253.3 120.2,253.1 120.5,253.2 120.7,253.2 121.0,253.2 121.3,253.2 121.5,253.3 121.8,253.5 122.0,253.3 122.3,253.3 122.5,253.1 122.8,253.0 123.0,253.2 123.3,253.4 123.6,253.4 123.8,253.3 124.1,253.0 124.3,253.2 124.6,253.3 124.8,253.5 125.1,253.1 125.3,253.2 125.6,253.3 125.9,253.3 126.1,253.0 126.4,253.3 126.6,253.0 126.9,253.1 127.1,253.3 127.4,253.1 127.7,253.3 127.9,253.5 128.2,253.4 128.4,253.5 128.7,253.2 128.9,253.3 129.2,253.2 129.4,253.1 129.7,253.9 130.0,253.2 130.2,253.7 130.5,253.3 130.7,253.5 131.0,253.3 131.2,253.0 131.5,253.6 131.7,253.3 132.0,253.3 132.3,253.7 132.5,253.2 132.8,253.3 133.0,253.4 133.3,253.4 133.5,252.7 133.8,253.4 134.1,253.6 134.3,253.5 134.6,253.4 134.8,253.4 135.1,253.3 135.3,253.5 135.6,253.2 135.8,253.4 136.1,253.6 136.4,253.5 136.6,253.4 136.9,253.1 137.1,253.2 137.4,253.4 137.6,253.3 137.9,253.3 138.2,252.9 138.4,253.4 138.7,253.2 138.9,253.2 139.2,253.5 139.4,253.3 139.7,253.3 139.9,253.4 140.2,253.2 140.5,253.1 140.7,253.1 141.0,253.3 141.2,253.3 141.5,252.9 141.7,253.5 142.0,253.3 142.2,253.1 142.5,253.3 142.8,253.2 143.0,253.3 143.3,253.2 143.5,253.1 143.8,253.3 144.0,253.3 144.3,253.3 144.6,253.4 144.8,253.3 145.1,253.5 145.3,253.2 145.6,253.0 145.8,253.0 146.1,253.1 146.3,253.5 146.6,253.0 146.9,253.4 147.1,253.3 147.4,252.9 147.6,253.5 147.9,253.1 148.1,253.2 148.4,253.3 148.6,253.5 148.9,253.2 149.2,253.4 149.4,253.1 149.7,253.1 149.9,253.6 150.2,253.4 150.4,253.4 150.7,253.5 151.0,253.5 151.2,253.3 151.5,253.3 151.7,253.6 152.0,253.4 152.2,253.2 152.5,253.5 152.7,253.5 153.0,253.0 153.3,253.0 153.5,253.6 153.8,253.6 154.0,253.2 154.3,253.5 154.5,253.4 154.8,253.4 155.0,253.2 155.3,253.8 155.6,253.7 155.8,253.5 156.1,253.1 156.3,253.3 156.6,253.6 156.8,253.2 157.1,253.2 157.4,253.4 157.6,253.4 157.9,253.2 158.1,253.1 158.4,253.3 158.6,253.2 158.9,253.3 159.1,253.4 159.4,253.5 159.7,253.3 159.9,253.4 160.2,253.4 160.4,253.1 160.7,253.2 160.9,253.1 161.2,253.6 161.5,253.2 161.7,253.4 162.0,253.5 162.2,253.5 162.5,253.1 162.7,253.1 163.0,253.4 163.2,253.5 163.5,253.3 163.8,253.4 164.0,253.0 164.3,253.6 164.5,253.7 164.8,253.4 165.0,253.3 165.3,253.3 165.5,253.2 165.8,252.9 166.1,253.4 166.3,253.4 166.6,253.6 166.8,253.3 167.1,253.1 167.3,253.4 167.6,253.1 167.9,253.3 168.1,253.0 168.4,253.2 168.6,253.5 168.9,253.4 169.1,253.6 169.4,253.6 169.6,253.3 169.9,253.1 170.2,252.9 170.4,253.3 170.7,253.3 170.9,253.5 171.2,253.1 171.4,253.2 171.7,253.4 171.9,253.2 172.2,253.2 172.5,253.7 172.7,253.2 173.0,253.3 173.2,253.4 173.5,253.4 173.7,253.0 174.0,253.0 174.3,253.0 174.5,253.5 174.8,253.4 175.0,253.1 175.3,253.5 175.5,253.4 175.8,253.7 176.0,252.9 176.3,253.1 176.6,253.2 176.8,253.3 177.1,253.4 177.3,253.4 177.6,253.2 177.8,253.4 178.1,253.1 178.3,253.4 178.6,253.5 178.9,253.1 179.1,253.3 179.4,253.2 179.6,253.4 179.9,253.7 180.1,253.2 180.4,253.6 180.7,253.1 180.9,253.6 181.2,253.7 181.4,253.2 181.7,253.2 181.9,253.3 182.2,253.5 182.4,253.1 182.7,253.6 183.0,253.4 183.2,253.5 183.5,253.4 183.7,253.1 184.0,253.4 184.2,253.2 184.5,253.2 184.8,253.6 185.0,253.5 185.3,253.4 185.5,253.4 185.8,253.2 186.0,253.7 186.3,253.2 186.5,253.2 186.8,253.3 187.1,253.6 187.3,253.3 187.6,253.4 187.8,253.2 188.1,253.3 188.3,253.2 188.6,253.4 188.8,253.0 189.1,253.7 189.4,253.5 189.6,253.2 189.9,253.6 190.1,253.2 190.4,253.5 190.6,253.3 190.9,253.5 191.2,253.4 191.4,253.3 191.7,253.3 191.9,253.4 192.2,252.9 192.4,253.3 192.7,253.5 192.9,253.1 193.2,253.1 193.5,253.1 193.7,253.0 194.0,253.5 194.2,253.1 194.5,253.1 194.7,253.3 195.0,253.3 195.2,253.9 195.5,253.4 195.8,253.0 196.0,253.6 196.3,253.4 196.5,253.2 196.8,253.2 197.0,253.0 197.3,253.6 197.6,253.3 197.8,253.1 198.1,253.6 198.3,253.3 198.6,252.9 198.8,253.0 199.1,253.2 199.3,253.8 199.6,253.3 199.9,253.2 200.1,253.4 200.4,253.3 200.6,252.7 200.9,253.3 201.1,253.5 201.4,253.3 201.7,253.4 201.9,253.4 202.2,253.3 202.4,253.2 202.7,253.3 202.9,253.5 203.2,253.3 203.4,253.2 203.7,253.4 204.0,253.1 204.2,253.2 204.5,253.5 204.7,253.2 205.0,252.9 205.2,253.0 205.5,253.3 205.7,253.1 206.0,253.4 206.3,253.6 206.5,253.2 206.8,253.3 207.0,253.2 207.3,253.3 207.5,253.2 207.8,253.4 208.1,253.2 208.3,253.1 208.6,253.3 208.8,253.1 209.1,253.6 209.3,253.5 209.6,253.0 209.8,253.0 210.1,253.3 210.4,253.3 210.6,253.5 210.9,253.2 211.1,253.2 211.4,253.6 211.6,253.2 211.9,253.2 212.1,253.2 212.4,253.5 212.7,253.2 212.9,253.6 213.2,253.0 213.4,253.3 213.7,253.5 213.9,253.0 214.2,253.1 214.5,253.4 214.7,252.9 215.0,253.5 215.2,253.2 215.5,253.1 215.7,253.7 216.0,253.1 216.2,253.3 216.5,253.3 216.8,253.5 217.0,253.2 217.3,253.5 217.5,253.5 217.8,253.4 218.0,253.5 218.3,253.0 218.5,253.6 218.8,253.4 219.1,253.4 219.3,253.3 219.6,253.2 219.8,253.1 220.1,253.4 220.3,253.4 220.6,253.3 220.9,253.1 221.1,253.2 221.4,253.4 221.6,253.7 221.9,252.9 222.1,253.1 222.4,253.3 222.6,253.2 222.9,253.4 223.2,253.5 223.4,253.4 223.7,253.3 223.9,253.4 224.2,253.6 224.4,253.4 224.7,253.2 225.0,253.4 225.2,253.3 225.5,253.7 225.7,253.3 226.0,253.3 226.2,253.5 226.5,253.6 226.7,253.2 227.0,253.5 227.3,253.2 227.5,253.4 227.8,253.2 228.0,253.4 228.3,253.6 228.5,253.3 228.8,253.4 229.0,253.2 229.3,253.4 229.6,253.4 229.8,253.1 230.1,253.1 230.3,253.2 230.6,253.1 230.8,253.2 231.1,253.2 231.4,253.1 231.6,253.2 231.9,253.3 232.1,253.3 232.4,252.8 232.6,253.3 232.9,253.3 233.1,253.4 233.4,253.3 233.7,253.3 233.9,253.5 234.2,253.7 234.4,253.2 234.7,253.6 234.9,253.3 235.2,253.3 235.4,253.1 235.7,253.0 236.0,253.2 236.2,253.4 236.5,253.5 236.7,253.5 237.0,253.3 237.2,253.7 237.5,253.3 237.8,253.3 238.0,253.2 238.3,253.4 238.5,253.3 238.8,253.4 239.0,253.4 239.3,253.6 239.5,253.3 239.8,253.0 240.1,253.3 240.3,253.2 240.6,253.5 240.8,253.0 241.1,253.5 241.3,253.1 241.6,253.3 241.8,253.5 242.1,253.1 242.4,253.3 242.6,253.3 242.9,253.2 243.1,253.3 243.4,253.4 243.6,253.2 243.9,253.4 244.2,253.3 244.4,253.4 244.7,253.6 244.9,253.4 245.2,253.4 245.4,253.3 245.7,253.1 245.9,253.6 246.2,253.3 246.5,253.7 246.7,253.5 247.0,253.4 247.2,253.7 247.5,253.7 247.7,253.3 248.0,253.3 248.3,253.3 248.5,253.5 248.8,252.9 249.0,253.3 249.3,253.5 249.5,253.0 249.8,253.2 250.0,253.4 250.3,253.1 250.6,253.3 250.8,253.2 251.1,253.3 251.3,253.5 251.6,253.1 251.8,253.3 252.1,253.5 252.3,253.5 252.6,253.1 252.9,253.4 253.1,253.3 253.4,253.2 253.6,253.3 253.9,253.6 254.1,253.2 254.4,253.1 254.7,253.1 254.9,253.0 255.2,253.2 255.4,253.2 255.7,253.0 255.9,253.4 256.2,253.0 256.4,253.0 256.7,253.2 257.0,252.9 257.2,253.1 257.5,253.5 257.7,253.1 258.0,253.2 258.2,253.2 258.5,253.3 258.7,253.0 259.0,253.2 259.3,253.4 259.5,253.2 259.8,253.2 260.0,253.4 260.3,253.4 260.5,253.4 260.8,253.4 261.1,253.2 261.3,253.1 261.6,252.9 261.8,253.1 262.1,253.1 262.3,253.1 262.6,253.0 262.8,253.4 263.1,253.2 263.4,253.2 263.6,253.3 263.9,253.4 264.1,253.4 264.4,253.4 264.6,253.5 264.9,253.2 265.1,253.3 265.4,253.3 265.7,253.2 265.9,253.2 266.2,253.4 266.4,253.3 266.7,253.6 266.9,253.7 267.2,253.7 267.5,253.0 267.7,253.7 268.0,253.2 268.2,253.0 268.5,253.4 268.7,253.0 269.0,252.9 269.2,253.1 269.5,252.8 269.8,253.2 270.0,253.4 270.3,253.2 270.5,253.4 270.8,253.6 271.0,253.5 271.3,252.9 271.6,253.4 271.8,253.3 272.1,253.4 272.3,253.3 272.6,253.3 272.8,253.4 273.1,253.5 273.3,253.6 273.6,253.4 273.9,253.2 274.1,252.9 274.4,253.1 274.6,252.9 274.9,253.2 275.1,253.3 275.4,253.6 275.6,253.3 275.9,253.7 276.2,253.4 276.4,253.0 276.7,253.2 276.9,253.1 277.2,253.4 277.4,253.6 277.7,253.4 278.0,253.4 278.2,253.1 278.5,252.9 278.7,253.4 279.0,253.4 279.2,253.3 279.5,253.4 279.7,253.5 280.0,253.3 280.3,253.2 280.5,253.2 280.8,253.5 281.0,253.3 281.3,253.6 281.5,253.1 281.8,253.5 282.0,253.4 282.3,253.4 282.6,253.4 282.8,253.5 283.1,253.6 283.3,253.0 283.6,253.2 283.8,253.2 284.1,252.9 284.4,253.3 284.6,253.2 284.9,253.3 285.1,253.1 285.4,253.2 285.6,253.2 285.9,253.3 286.1,253.2 286.4,253.1 286.7,253.7 286.9,253.3 287.2,253.4 287.4,253.4 287.7,253.7 287.9,253.2 288.2,253.5 288.4,253.3 288.7,253.4 289.0,253.6 289.2,253.4 289.5,253.7 289.7,253.5 290.0,253.4 290.2,253.3 290.5,253.3 290.8,253.3 291.0,252.9 291.3,253.2 291.5,253.5 291.8,253.4 292.0,253.4 292.3,253.3 292.5,253.4 292.8,253.5 293.1,253.0 293.3,253.3 293.6,253.4 293.8,253.3 294.1,253.3 294.3,253.0 294.6,253.2 294.9,253.1 295.1,253.9 295.4,253.2 295.6,253.1 295.9,252.9 296.1,253.3 296.4,253.6 296.6,253.2 296.9,253.4 297.2,253.6 297.4,253.4 297.7,253.1 297.9,253.1 298.2,253.2 298.4,253.5 298.7,252.8 298.9,253.5 299.2,253.3 299.5,253.6 299.7,253.0 300.0,253.2 300.2,253.1 300.5,253.3 300.7,253.3 301.0,253.3 301.3,253.7 301.5,253.1 301.8,253.1 302.0,253.4 302.3,253.3 302.5,253.2 302.8,253.0 303.0,253.2 303.3,253.3 303.6,253.4 303.8,253.6 304.1,253.4 304.3,253.3 304.6,253.3 304.8,253.3 305.1,253.2 305.3,253.2 305.6,253.2 305.9,253.2 306.1,253.3 306.4,253.3 306.6,253.2 306.9,253.6 307.1,253.1 307.4,253.5 307.7,253.1 307.9,253.3 308.2,253.1 308.4,253.3 308.7,253.5 308.9,253.1 309.2,253.3 309.4,253.3 309.7,253.3 310.0,253.1 310.2,253.1 310.5,253.2 310.7,253.6 311.0,253.4 311.2,253.3 311.5,252.9 311.8,253.2 312.0,253.3 312.3,253.1 312.5,253.3 312.8,253.3 313.0,253.3 313.3,253.6 313.5,253.1 313.8,253.2 314.1,253.3 314.3,253.5 314.6,253.3 314.8,253.0 315.1,253.4 315.3,253.5 315.6,253.2 315.8,253.6 316.1,253.7 316.4,253.4 316.6,253.4 316.9,253.3 317.1,253.4 317.4,253.2 317.6,253.3 317.9,253.4 318.2,253.4 318.4,253.2 318.7,253.1 318.9,253.1 319.2,253.2 319.4,253.9 319.7,253.5 319.9,253.4 320.2,253.3 320.5,253.6 320.7,253.0 321.0,253.2 321.2,253.4 321.5,253.3 321.7,253.4 322.0,253.4 322.2,253.2 322.5,253.4 322.8,253.6 323.0,253.4 323.3,253.3 323.5,253.5 323.8,253.0 324.0,253.5 324.3,253.0 324.6,253.1 324.8,253.5 325.1,253.3 325.3,253.1 325.6,253.3 325.8,253.5 326.1,253.3 326.3,252.9 326.6,253.6 326.9,253.2 327.1,253.3 327.4,253.3 327.6,253.4 327.9,253.4 328.1,253.1 328.4,253.2 328.6,253.5 328.9,253.0 329.2,253.5 329.4,253.2 329.7,253.3 329.9,253.1 330.2,253.2 330.4,253.1 330.7,253.3 331.0,253.1 331.2,253.2 331.5,252.9 331.7,253.4 332.0,253.1 332.2,253.2 332.5,253.3 332.7,253.4 333.0,253.2 333.3,253.6 333.5,253.6 333.8,253.2 334.0,253.6 334.3,253.0 334.5,253.3 334.8,253.2 335.1,253.3 335.3,253.2 335.6,253.3 335.8,253.4 336.1,253.3 336.3,253.1 336.6,253.1 336.8,253.0 337.1,253.2 337.4,253.3 337.6,253.6 337.9,253.2 338.1,253.1 338.4,253.4 338.6,253.1 338.9,253.0 339.1,253.3 339.4,253.1 339.7,253.2 339.9,253.6 340.2,253.4 340.4,253.4 340.7,253.2 340.9,253.5 341.2,253.4 341.5,253.5 341.7,253.3 342.0,253.3 342.2,253.1 342.5,253.1 342.7,253.3 343.0,253.2 343.2,253.3 343.5,253.3" fill="none" stroke="#8a3ee8" stroke-width="1.2" stroke-opacity="1.0" stroke-linejoin="bevel"/>
<polyline points="36.5,240.7 36.6,243.3 36.7,243.9 36.8,241.7 36.9,242.1 37.0,245.1 37.1,244.1 37.2,243.9 37.3,246.4 37.4,245.8 37.5,247.5 37.6,248.8 37.7,246.3 37.8,248.6 37.9,245.7 38.0,248.4 38.1,249.2 38.2,249.5 38.3,250.1 38.4,249.2 38.5,247.7 38.6,247.6 38.8,248.7 38.9,250.3 39.0,249.4 39.1,246.6 39.2,249.8 39.3,247.7 39.4,248.5 39.5,249.6 39.6,251.3 39.7,249.2 39.8,249.6 39.9,248.3 40.0,245.9 40.1,244.5 40.2,245.7 40.3,244.0 40.4,242.7 40.5,242.4 40.6,242.7 40.7,240.7 40.8,242.3 40.9,243.4 41.0,242.2 41.1,239.8 41.2,242.9 41.3,242.6 41.4,242.3 41.5,243.1 41.6,241.7 41.7,241.9 41.8,242.1 41.9,243.2 42.0,238.2 42.1,242.5 42.2,242.0 42.3,244.3 42.4,242.8 42.5,241.8 42.6,241.7 42.7,242.1 42.8,240.8 42.9,243.4 43.1,241.5 43.2,241.2 43.3,239.9 43.4,240.8 43.5,239.7 43.6,242.4 43.7,242.9 43.8,242.2 43.9,239.2 44.0,243.3 44.1,242.3 44.2,239.9 44.3,242.8 44.4,241.8 44.5,240.3 44.6,239.9 44.7,240.1 44.8,239.6 44.9,238.3 45.0,243.4 45.1,238.4 45.2,242.2 45.3,242.1 45.4,244.5 45.5,241.0 45.6,239.4 45.7,240.6 45.8,241.7 45.9,241.8 46.0,240.5 46.1,240.0 46.2,242.5 46.3,240.3 46.4,241.8 46.5,241.3 46.6,241.0 46.7,241.8 46.8,242.1 46.9,245.2 47.0,244.6 47.1,244.4 47.2,244.8 47.4,246.6 47.5,247.4 47.6,247.6 47.7,246.6 47.8,247.8 47.9,248.7 48.0,248.9 48.1,248.5 48.2,250.9 48.3,252.1 48.4,252.3 48.5,251.1 48.6,249.9 48.7,250.1 48.8,249.0 48.9,250.3 49.0,250.3 49.1,249.3 49.2,249.9 49.3,250.0 49.4,247.8 49.5,248.4 49.6,247.5 49.7,247.8 49.8,246.2 49.9,245.7 50.0,244.8 50.1,244.2 50.2,243.8 50.3,242.7 50.4,240.6 50.5,241.9 50.6,239.1 50.7,239.2 50.8,244.5 50.9,237.7 51.0,236.5 51.1,235.2 51.2,235.2 51.3,235.5 51.4,234.4 51.5,233.8 51.7,233.8 51.8,235.6 51.9,235.0 52.0,233.9 52.1,231.5 52.2,226.4 52.2,235.2 52.3,232.7 52.4,234.2 52.5,236.0 52.6,235.9 52.7,235.3 52.8,233.7 52.9,231.8 53.0,233.3 53.1,233.6 53.2,235.1 53.3,237.3 53.4,237.4 53.5,233.8 53.6,235.1 53.7,237.8 53.8,232.0 53.9,234.3 54.0,236.2 54.1,229.1 54.2,235.4 54.3,235.5 54.4,231.9 54.5,234.6 54.6,232.6 54.7,233.4 54.8,235.3 54.9,235.8 55.0,235.6 55.1,231.0 55.2,233.4 55.3,237.3 55.4,233.4 55.5,235.8 55.6,233.9 55.7,232.8 55.8,232.0 55.9,233.9 56.1,231.5 56.2,231.8 56.3,232.9 56.4,233.4 56.5,234.1 56.6,233.8 56.7,236.9 56.8,235.5 56.9,235.4 57.0,234.8 57.1,236.6 57.2,228.9 57.3,229.1 57.4,232.0 57.5,234.3 57.6,233.9 57.7,232.0 57.8,233.9 57.9,232.2 58.0,234.0 58.1,232.5 58.2,231.4 58.3,232.5 58.4,235.5 58.5,234.5 58.6,230.5 58.7,233.3 58.8,235.6 58.9,232.8 59.0,233.8 59.1,232.8 59.2,233.7 59.3,233.8 59.4,233.4 59.5,236.6 59.6,235.6 59.7,235.3 59.8,234.6 59.9,235.4 60.0,233.4 60.1,237.1 60.2,231.7 60.4,237.1 60.5,235.0 60.6,238.3 60.7,233.9 60.8,237.5 60.9,236.6 61.0,234.6 61.1,235.3 61.2,231.9 61.3,236.6 61.4,232.0 61.5,234.1 61.6,232.9 61.7,234.6 61.8,233.9 61.9,235.7 62.0,232.7 62.1,233.4 62.2,231.0 62.3,242.2 62.4,233.4 62.5,232.9 62.6,234.7 62.7,235.4 62.8,237.0 62.9,233.3 63.0,233.6 63.1,234.4 63.2,236.7 63.3,234.9 63.4,236.8 63.5,235.0 63.6,236.8 63.7,235.9 63.8,234.8 63.9,234.1 64.0,233.6 64.1,231.3 64.2,232.7 64.3,234.5 64.4,232.3 64.5,234.7 64.7,236.5 64.8,232.7 64.9,235.8 65.0,234.5 65.1,236.5 65.2,236.4 65.3,238.7 65.4,234.8 65.5,235.1 65.6,233.6 65.7,237.6 65.8,239.2 65.9,237.1 66.0,235.4 66.1,233.4 66.2,229.7 66.3,233.9 66.4,235.8 66.5,235.9 66.6,238.4 66.7,236.1 66.8,234.1 66.9,234.7 67.0,240.8 67.1,239.6 67.2,237.7 67.3,236.1 67.4,238.6 67.5,236.6 67.6,239.1 67.7,238.3 67.8,238.6 67.9,238.3 68.0,236.6 68.1,239.6 68.2,238.9 68.3,238.2 68.4,236.3 68.5,237.0 68.6,238.4 68.7,237.6 68.8,240.7 69.0,238.6 69.1,239.8 69.2,237.9 69.3,233.1 69.4,237.6 69.5,240.3 69.6,236.1 69.7,237.3 69.8,240.1 69.9,238.3 70.0,238.2 70.1,237.4 70.2,236.3 70.3,236.3 70.4,236.3 70.5,236.0 70.6,236.4 70.7,234.5 70.8,237.4 70.9,237.3 71.0,236.5 71.1,237.9 71.2,239.8 71.3,240.3 71.4,237.5 71.5,236.8 71.6,236.6 71.7,237.2 71.8,238.5 71.9,238.4 72.0,236.3 72.1,238.9 72.2,239.0 72.3,238.4 72.4,237.0 72.5,238.1 72.6,238.6 72.7,236.8 72.8,235.3 72.9,235.2 73.0,236.6 73.1,240.1 73.2,233.7 73.4,234.1 73.5,231.8 73.6,232.0 73.7,228.9 73.8,228.5 73.9,228.0 74.0,227.7 74.1,231.1 74.2,231.1 74.3,229.5 74.4,230.6 74.5,230.7 74.6,229.4 74.7,230.6 74.8,229.8 74.9,228.5 75.0,229.5 75.1,230.8 75.2,227.2 75.3,230.4 75.4,228.3 75.5,232.3 75.6,229.8 75.7,229.6 75.8,229.0 75.9,232.8 76.0,229.7 76.1,229.0 76.2,230.5 76.3,230.3 76.4,228.4 76.5,230.5 76.6,228.3 76.7,228.1 76.8,233.0 76.9,231.2 77.0,231.6 77.1,230.1 77.2,229.3 77.3,230.7 77.4,230.4 77.5,230.5 77.7,231.0 77.8,227.7 77.9,227.7 78.0,226.8 78.1,228.2 78.2,228.8 78.3,228.2 78.4,230.1 78.5,228.5 78.6,227.2 78.7,225.5 78.8,230.1 78.9,229.6 79.0,230.2 79.1,231.1 79.2,228.0 79.3,226.6 79.4,232.7 79.5,232.3 79.6,227.9 79.7,232.8 79.8,228.5 79.9,230.6 80.0,228.4 80.1,228.1 80.2,226.8 80.3,224.0 80.4,229.6 80.5,226.7 80.6,227.6 80.7,229.0 80.8,232.0 80.9,229.4 81.0,229.1 81.1,228.9 81.2,228.9 81.3,230.0 81.4,229.7 81.5,230.6 81.6,228.8 81.7,229.2 81.8,226.6 82.0,230.0 82.1,228.5 82.2,230.5 82.3,227.6 82.4,233.2 82.5,227.6 82.6,226.6 82.7,228.7 82.8,228.5 82.9,231.5 83.0,230.3 83.1,232.1 83.2,230.1 83.3,227.0 83.4,232.2 83.5,228.4 83.6,227.4 83.7,228.8 83.8,228.8 83.9,232.6 84.0,231.1 84.1,226.2 84.2,229.7 84.3,227.1 84.4,229.6 84.5,228.2 84.6,228.0 84.7,229.6 84.8,231.4 84.9,231.2 85.0,228.2 85.1,229.7 85.2,228.2 85.3,231.0 85.4,233.2 85.5,229.0 85.6,228.6 85.7,230.8 85.8,230.1 85.9,230.1 86.0,227.8 86.1,230.5 86.3,227.6 86.4,233.0 86.5,229.8 86.6,230.5 86.7,230.9 86.8,228.1 86.9,228.9 87.0,229.0 87.1,228.6 87.2,226.4 87.3,229.5 87.4,230.4 87.5,228.7 87.6,229.0 87.7,230.1 87.8,228.3 87.9,229.6 88.0,228.6 88.1,229.0 88.2,228.5 88.3,227.9 88.4,229.7 88.5,228.7 88.6,230.4 88.7,230.5 88.8,232.1 88.9,226.9 89.0,226.3 89.1,226.5 89.2,225.7 89.3,228.9 89.4,229.7 89.5,228.6 89.6,228.3 89.7,228.1 89.8,230.1 89.9,229.0 90.0,226.3 90.1,228.1 90.2,227.4 90.3,224.5 90.4,229.7 90.6,227.7 90.7,227.8 90.8,230.7 90.9,230.8 91.0,230.2 91.1,228.6 91.1,251.4 91.2,228.2 91.3,228.2 91.4,227.7 91.5,230.1 91.6,230.3 91.7,230.1 91.8,227.6 91.9,226.9 92.0,230.8 92.1,230.1 92.2,226.5 92.3,226.9 92.4,229.4 92.5,227.5 92.6,228.3 92.7,232.4 92.8,230.9 92.9,226.7 93.0,228.4 93.1,228.3 93.2,228.1 93.3,229.9 93.4,231.2 93.5,229.9 93.6,230.7 93.7,227.7 93.8,229.1 93.9,231.4 94.0,232.1 94.1,234.9 94.2,235.8 94.3,235.4 94.4,234.7 94.5,234.8 94.6,237.7 94.7,235.4 94.8,238.7 95.0,237.5 95.1,235.8 95.2,236.2 95.3,237.6 95.4,237.1 95.5,238.3 95.6,235.4 95.7,236.8 95.8,237.8 95.9,239.5 96.0,236.0 96.1,237.3 96.2,240.0 96.3,239.1 96.4,248.9 96.4,239.4 96.5,240.5 96.6,239.2 96.7,238.3 96.8,239.3 96.9,235.6 97.0,241.5 97.1,238.6 97.2,237.5 97.3,236.8 97.4,237.0 97.5,238.0 97.6,237.0 97.7,238.7 97.8,240.8 97.9,240.3 98.0,239.2 98.1,240.0 98.2,236.3 98.3,240.1 98.4,238.3 98.5,241.2 98.6,237.7 98.7,240.7 98.8,238.8 98.9,239.2 99.0,238.6 99.1,238.8 99.3,237.9 99.4,240.8 99.5,238.1 99.6,239.6 99.7,238.3 99.8,234.9 99.9,242.8 100.0,241.4 100.1,241.1 100.2,238.8 100.3,239.2 100.4,234.2 100.5,236.7 100.6,235.7 100.7,235.0 100.8,238.1 100.9,239.4 101.0,237.1 101.1,237.8 101.2,239.1 101.3,238.4 101.4,240.9 101.5,241.0 101.6,238.2 101.7,238.6 101.8,240.8 101.9,240.2 102.0,239.2 102.1,237.1 102.2,237.9 102.3,237.1 102.4,238.1 102.5,242.5 102.6,240.2 102.7,239.8 102.8,242.1 102.9,240.2 103.0,238.0 103.1,241.6 103.2,239.1 103.3,238.4 103.4,239.5 103.6,241.7 103.7,239.3 103.8,236.2 103.9,240.6 104.0,238.6 104.1,239.9 104.2,238.2 104.3,237.6 104.4,243.6 104.5,238.6 104.6,239.5 104.7,240.5 104.8,241.2 104.9,242.0 105.0,239.9 105.1,238.8 105.2,236.9 105.3,238.7 105.4,238.3 105.5,239.5 105.6,238.6 105.7,238.6 105.8,239.3 105.9,238.4 106.0,239.0 106.1,238.0 106.2,240.0 106.3,238.9 106.4,235.1 106.5,238.3 106.6,235.8 106.7,238.3 106.8,241.7 106.9,240.8 107.0,237.3 107.1,238.1 107.2,240.7 107.3,238.9 107.4,236.9 107.5,237.4 107.6,239.0 107.7,240.2 107.9,236.9 108.0,238.1 108.1,239.9 108.2,239.7 108.3,235.3 108.4,239.3 108.5,236.0 108.6,240.6 108.7,240.1 108.8,237.1 108.9,237.2 109.0,241.6 109.1,239.8 109.2,237.9 109.3,240.6 109.4,241.7 109.5,239.0 109.6,239.4 109.7,237.5 109.8,240.7 109.9,238.7 110.0,242.0 110.1,239.2 110.2,240.8 110.3,239.5 110.4,237.9 110.5,241.9 110.6,238.0 110.7,236.3 110.8,237.3 110.9,238.2 111.0,238.9 111.1,238.3 111.2,238.7 111.3,241.7 111.4,240.5 111.5,238.3 111.6,237.0 111.7,238.2 111.8,239.2 111.9,239.4 112.0,240.6 112.1,236.3 112.3,240.0 112.4,237.9 112.5,238.1 112.6,237.8 112.7,238.1 112.8,237.4 112.9,241.4 113.0,240.5 113.1,239.2 113.2,237.4 113.3,234.8 113.4,241.5 113.5,240.3 113.6,239.0 113.7,239.0 113.8,240.9 113.9,239.1 114.0,238.9 114.1,238.5 114.2,238.6 114.3,236.8 114.4,237.5 114.5,242.8 114.6,240.0 114.7,240.8 114.8,236.8 114.9,240.6 115.0,240.5 115.1,239.0 115.2,238.1 115.3,239.5 115.4,237.5 115.5,239.8 115.6,241.6 115.7,236.1 115.8,239.4 115.9,239.1 116.0,235.0 116.1,239.0 116.2,237.7 116.3,239.6 116.4,238.7 116.6,238.5 116.7,241.8 116.8,239.9 116.9,238.8 117.0,236.6 117.1,238.0 117.2,241.4 117.3,237.3 117.4,236.8 117.5,237.3 117.6,240.2 117.7,240.0 117.8,238.3 117.9,239.7 118.0,236.2 118.1,238.1 118.2,239.1 118.3,241.7 118.4,239.5 118.5,240.6 118.6,239.3 118.7,242.5 118.8,240.9 118.9,239.1 119.0,241.1 119.1,233.8 119.2,239.5 119.3,238.2 119.4,238.8 119.5,237.5 119.6,238.9 119.7,238.2 119.8,240.1 119.9,238.8 120.0,238.9 120.1,237.3 120.2,239.4 120.3,239.9 120.4,236.6 120.5,234.8 120.6,238.4 120.7,235.5 120.9,239.4 121.0,237.0 121.1,240.6 121.2,239.6 121.3,242.4 121.4,241.1 121.5,242.2 121.6,239.6 121.7,239.9 121.8,239.4 121.9,239.3 122.0,234.1 122.1,239.9 122.2,232.6 122.3,239.6 122.4,238.7 122.5,240.4 122.6,240.9 122.7,240.9 122.8,240.3 122.9,239.7 123.0,237.7 123.1,235.7 123.2,238.2 123.3,238.0 123.4,239.3 123.5,235.0 123.6,236.0 123.7,237.1 123.8,237.9 123.9,239.4 124.0,235.4 124.1,237.1 124.2,238.7 124.3,240.5 124.4,239.2 124.5,236.9 124.6,238.8 124.7,244.0 124.8,238.9 124.9,237.0 125.0,242.2 125.2,239.0 125.3,240.7 125.4,240.7 125.5,239.4 125.6,240.3 125.7,239.6 125.8,237.5 125.9,239.6 126.0,241.0 126.1,238.4 126.2,239.6 126.3,235.4 126.4,239.4 126.5,243.2 126.6,238.3 126.7,238.6 126.8,239.0 126.9,237.4 127.0,242.1 127.1,240.1 127.2,241.9 127.3,239.1 127.4,236.8 127.5,237.9 127.6,240.6 127.7,239.2 127.8,238.5 127.9,235.4 128.0,237.9 128.1,236.1 128.2,240.8 128.3,239.0 128.4,242.1 128.5,238.3 128.6,241.8 128.7,240.6 128.8,240.0 128.9,238.9 129.0,237.6 129.1,238.5 129.2,238.4 129.3,241.1 129.4,238.1 129.6,240.4 129.7,241.1 129.8,235.7 129.9,238.3 130.0,239.9 130.1,238.0 130.2,237.8 130.3,237.2 130.4,239.9 130.5,242.3 130.6,241.9 130.7,237.9 130.8,237.1 130.9,240.2 131.0,239.6 131.1,236.8 131.2,237.6 131.3,238.4 131.4,237.4 131.5,238.9 131.6,240.7 131.7,240.3 131.8,240.3 131.9,242.2 132.0,239.5 132.1,238.4 132.2,239.3 132.3,239.8 132.4,239.3 132.5,239.1 132.6,240.0 132.7,244.0 132.8,243.0 132.9,239.3 133.0,240.4 133.1,239.0 133.2,238.8 133.3,237.5 133.4,237.2 133.5,239.8 133.6,237.1 133.7,235.8 133.9,238.9 134.0,236.5 134.1,240.6 134.2,237.3 134.3,238.6 134.4,241.6 134.5,238.3 134.6,235.9 134.7,237.0 134.8,237.7 134.9,238.1 135.0,240.9 135.1,239.5 135.2,239.5 135.3,237.6 135.4,239.3 135.5,238.0 135.6,234.9 135.7,238.5 135.8,236.9 135.9,235.1 136.0,239.4 136.1,239.6 136.2,241.3 136.3,240.3 136.4,238.8 136.5,242.3 136.6,240.8 136.7,239.4 136.8,237.1 136.9,239.7 137.0,240.2 137.1,236.9 137.2,240.8 137.3,238.1 137.4,237.1 137.5,239.0 137.6,238.9 137.7,240.7 137.8,237.0 137.9,238.1 138.0,240.3 138.2,235.6 138.3,239.1 138.4,238.9 138.5,238.9 138.6,240.1 138.7,241.3 138.8,241.7 138.9,238.4 139.0,239.1 139.1,238.3 139.2,240.9 139.3,239.2 139.4,238.5 139.5,242.2 139.6,239.6 139.7,241.1 139.8,241.7 139.9,240.5 140.0,241.0 140.1,238.7 140.2,236.9 140.3,233.2 140.4,236.6 140.5,237.6 140.6,235.6 140.7,238.0 140.8,239.7 140.9,239.5 141.0,237.9 141.1,237.5 141.2,238.4 141.3,242.2 141.4,237.2 141.5,238.7 141.6,241.4 141.7,239.1 141.8,238.8 141.9,239.4 142.0,238.6 142.1,237.9 142.2,240.9 142.3,241.4 142.5,238.1 142.6,238.3 142.7,235.8 142.8,240.1 142.9,238.9 143.0,238.1 143.1,236.0 143.2,236.8 143.3,240.3 143.4,239.2 143.5,243.1 143.6,238.8 143.7,240.2 143.8,238.4 143.9,236.3 144.0,241.9 144.1,241.1 144.2,240.9 144.3,237.5 144.4,241.2 144.5,240.1 144.6,238.6 144.7,237.4 144.8,236.3 144.9,238.7 145.0,241.2 145.1,238.4 145.2,237.9 145.3,238.3 145.4,237.4 145.5,236.0 145.6,241.3 145.7,238.5 145.8,240.1 145.9,237.1 146.0,236.6 146.1,237.2 146.2,238.1 146.3,239.8 146.4,240.3 146.5,240.7 146.6,240.1 146.7,242.4 146.9,239.9 147.0,239.1 147.1,239.5 147.2,239.6 147.3,241.6 147.4,237.9 147.5,237.6 147.6,239.4 147.7,239.2 147.8,240.8 147.9,239.6 148.0,241.0 148.1,240.4 148.2,238.9 148.3,241.2 148.4,238.4 148.5,240.2 148.6,235.3 148.7,236.7 148.8,242.5 148.9,238.6 149.0,241.4 149.1,239.3 149.2,240.2 149.3,231.9 149.4,239.2 149.5,238.1 149.6,240.4 149.7,239.6 149.8,236.4 149.9,236.9 150.0,239.5 150.1,240.9 150.2,238.8 150.3,240.7 150.4,238.8 150.5,239.4 150.6,239.2 150.7,240.7 150.8,240.9 150.9,241.2 151.0,239.0 151.2,237.1 151.3,236.2 151.4,238.6 151.5,239.1 151.6,241.0 151.7,238.0 151.8,239.7 151.9,239.5 152.0,238.9 152.1,240.7 152.2,242.6 152.3,241.0 152.4,241.1 152.5,240.1 152.6,239.0 152.7,239.6 152.8,240.7 152.9,238.0 153.0,238.1 153.1,239.4 153.2,240.6 153.3,238.9 153.4,240.1 153.5,239.2 153.6,239.8 153.7,239.0 153.8,239.5 153.9,241.5 154.0,238.7 154.1,239.3 154.2,239.5 154.3,237.0 154.4,240.7 154.5,237.0 154.6,240.6 154.7,236.2 154.8,238.6 154.9,237.7 155.0,239.7 155.1,239.4 155.2,239.0 155.3,242.4 155.5,240.7 155.6,240.3 155.7,238.5 155.8,240.6 155.9,240.1 156.0,239.0 156.1,239.9 156.2,239.6 156.3,238.8 156.4,239.8 156.5,240.1 156.6,235.7 156.7,241.9 156.8,238.2 156.9,239.2 157.0,238.2 157.1,240.0 157.2,239.0 157.3,241.0 157.4,238.2 157.5,237.9 157.6,239.0 157.7,238.7 157.8,240.7 157.9,238.1 158.0,239.0 158.1,240.7 158.2,238.6 158.3,240.8 158.4,241.1 158.5,239.9 158.6,237.5 158.7,240.1 158.8,242.1 158.9,238.6 159.0,238.9 159.1,236.6 159.2,235.6 159.3,238.6 159.4,240.0 159.5,238.2 159.6,239.2 159.8,237.1 159.9,238.3 160.0,238.8 160.1,239.2 160.2,238.8 160.3,238.2 160.4,239.6 160.5,242.8 160.6,241.2 160.7,240.1 160.8,240.0 160.9,239.2 161.0,241.5 161.1,238.1 161.2,236.8 161.3,238.4 161.4,239.8 161.5,239.0 161.6,236.5 161.7,238.9 161.8,236.3 161.9,241.7 162.0,237.3 162.1,238.2 162.2,239.4 162.3,237.4 162.4,239.2 162.5,239.2 162.6,239.0 162.7,240.7 162.8,239.0 162.9,238.5 163.0,238.8 163.1,236.5 163.2,238.8 163.3,239.4 163.4,240.5 163.5,240.7 163.6,238.4 163.7,241.5 163.8,242.5 163.9,238.8 164.0,238.3 164.2,235.8 164.3,239.5 164.4,238.2 164.5,238.1 164.6,238.3 164.7,239.7 164.8,239.3 164.9,239.1 165.0,239.4 165.1,237.1 165.2,236.6 165.3,236.0 165.4,237.7 165.5,239.7 165.6,239.1 165.7,239.0 165.8,239.3 165.9,239.1 166.0,241.0 166.1,240.9 166.2,240.8 166.3,237.8 166.4,239.8 166.5,241.6 166.6,241.0 166.7,240.4 166.8,240.4 166.9,239.0 167.0,239.8 167.1,236.7 167.2,240.5 167.3,239.1 167.4,238.4 167.5,238.6 167.6,240.2 167.7,243.0 167.8,239.2 167.9,239.1 168.0,236.9 168.1,239.7 168.2,239.6 168.3,238.0 168.5,236.3 168.6,239.1 168.7,239.4 168.8,239.1 168.9,240.9 169.0,240.1 169.1,240.4 169.2,238.6 169.3,240.8 169.4,243.1 169.5,239.2 169.6,242.9 169.7,237.7 169.8,240.3 169.9,238.4 170.0,237.6 170.1,243.2 170.2,241.0 170.3,235.6 170.4,238.2 170.5,238.3 170.6,238.1 170.7,238.4 170.8,239.5 170.9,238.5 171.0,238.1 171.1,238.1 171.2,234.3 171.3,237.1 171.4,238.8 171.5,237.0 171.6,239.8 171.7,238.2 171.8,238.4 171.9,238.9 172.0,238.4 172.1,240.2 172.2,242.7 172.3,242.2 172.4,241.7 172.5,238.0 172.6,239.3 172.8,238.7 172.9,239.0 173.0,239.7 173.1,241.1 173.2,239.6 173.3,243.1 173.4,239.7 173.5,234.9 173.6,238.1 173.7,240.4 173.8,242.4 173.9,241.1 174.0,241.9 174.1,238.9 174.2,237.4 174.3,235.2 174.4,239.6 174.5,237.1 174.6,235.4 174.7,240.2 174.8,237.9 174.9,239.5 175.0,238.3 175.1,238.1 175.2,240.1 175.3,239.1 175.4,240.6 175.5,238.1 175.6,238.2 175.7,237.6 175.8,237.3 175.9,239.6 176.0,237.3 176.1,240.8 176.2,236.1 176.3,238.7 176.4,238.3 176.5,237.2 176.6,239.1 176.7,237.5 176.8,242.3 176.9,239.5 177.1,239.6 177.2,240.0 177.3,238.6 177.4,240.5 177.5,239.9 177.6,238.5 177.7,238.5 177.8,238.8 177.9,235.9 178.0,237.2 178.1,235.1 178.2,241.6 178.3,237.8 178.4,240.6 178.5,237.0 178.6,238.4 178.7,238.9 178.8,239.0 178.9,239.5 179.0,241.3 179.1,240.6 179.2,239.1 179.3,241.8 179.4,240.4 179.5,238.3 179.6,240.4 179.7,237.2 179.8,238.6 179.9,237.8 180.0,239.0 180.1,237.7 180.2,240.5 180.3,238.1 180.4,237.3 180.5,238.1 180.6,239.4 180.7,236.1 180.8,239.5 180.9,239.2 181.0,236.8 181.1,237.3 181.2,238.2 181.3,236.6 181.5,239.7 181.6,238.7 181.7,241.0 181.8,236.6 181.9,240.2 182.0,240.7 182.1,236.7 182.2,239.9 182.3,235.3 182.4,237.4 182.5,237.2 182.6,240.2 182.7,236.1 182.8,238.3 182.9,237.2 183.0,238.0 183.1,238.8 183.2,238.2 183.3,237.2 183.4,236.6 183.5,238.0 183.6,241.1 183.7,239.7 183.8,237.8 183.9,238.2 184.0,239.9 184.1,238.0 184.2,239.8 184.3,239.3 184.4,240.8 184.5,241.0 184.6,239.6 184.7,241.0 184.8,238.4 184.9,239.6 185.0,242.3 185.1,237.6 185.2,239.8 185.3,238.6 185.4,241.5 185.5,237.9 185.6,239.1 185.8,240.1 185.9,240.2 186.0,239.3 186.1,238.1 186.2,238.0 186.3,240.4 186.4,236.8 186.5,237.0 186.6,239.8 186.7,237.4 186.8,238.1 186.9,238.2 187.0,239.6 187.1,237.9 187.2,240.1 187.3,239.3 187.4,239.1 187.5,239.6 187.6,240.7 187.7,240.3 187.8,236.3 187.9,238.6 188.0,241.4 188.1,242.9 188.2,241.3 188.3,238.7 188.4,236.0 188.5,241.1 188.6,239.5 188.7,241.5 188.8,239.0 188.9,236.7 189.0,237.0 189.1,243.1 189.2,237.3 189.3,238.5 189.4,238.4 189.5,239.8 189.6,240.0 189.7,240.5 189.8,236.7 189.9,235.8 190.1,239.0 190.2,235.3 190.3,236.4 190.4,240.6 190.5,238.1 190.6,238.8 190.7,239.7 190.8,240.1 190.9,239.2 191.0,240.4 191.1,240.5 191.2,238.4 191.3,243.7 191.4,237.9 191.5,239.1 191.6,240.4 191.7,238.6 191.8,239.7 191.9,238.8 192.0,239.4 192.1,236.9 192.2,238.5 192.3,238.0 192.4,238.0 192.5,238.0 192.6,240.0 192.7,239.0 192.8,237.3 192.9,237.8 193.0,239.4 193.1,238.4 193.2,240.2 193.3,237.3 193.4,239.1 193.5,242.8 193.6,239.1 193.7,237.7 193.8,237.0 193.9,242.4 194.0,238.0 194.1,241.1 194.2,239.4 194.4,237.5 194.5,240.3 194.6,239.3 194.7,239.8 194.8,240.4 194.9,238.2 195.0,240.4 195.1,238.8 195.2,241.4 195.3,237.8 195.4,239.1 195.5,240.9 195.6,241.3 195.7,237.0 195.8,237.5 195.9,240.7 196.0,236.4 196.1,238.2 196.2,239.0 196.3,237.0 196.4,240.4 196.5,237.2 196.6,241.4 196.7,241.1 196.8,236.5 196.9,236.3 197.0,240.9 197.1,238.7 197.2,239.3 197.3,236.6 197.4,232.4 197.5,236.3 197.6,240.3 197.7,239.5 197.8,240.1 197.9,237.3 198.0,235.4 198.1,239.4 198.2,237.4 198.3,238.1 198.4,237.8 198.5,238.2 198.7,239.6 198.8,241.7 198.9,235.6 199.0,239.5 199.1,240.1 199.2,237.3 199.3,238.2 199.4,239.8 199.5,236.2 199.6,236.7 199.7,233.7 199.8,237.3 199.9,237.9 200.0,237.4 200.1,236.8 200.2,239.4 200.3,240.3 200.4,239.7 200.5,241.3 200.6,239.6 200.7,239.1 200.8,238.7 200.9,237.3 201.0,238.5 201.1,240.7 201.2,240.1 201.3,238.8 201.4,239.6 201.5,236.9 201.6,238.4 201.7,238.7 201.8,238.7 201.9,239.8 202.0,240.2 202.1,239.9 202.2,237.8 202.3,237.7 202.4,237.0 202.5,237.7 202.6,235.8 202.7,239.1 202.8,237.8 202.9,238.9 203.1,240.2 203.2,240.2 203.3,241.4 203.4,238.7 203.5,239.4 203.6,241.2 203.7,238.2 203.8,239.7 203.9,238.8 204.0,237.1 204.1,241.1 204.2,239.3 204.3,238.5 204.4,237.9 204.5,239.9 204.6,239.5 204.7,240.8 204.8,237.7 204.9,238.7 205.0,237.5 205.1,240.7 205.2,238.5 205.3,236.7 205.4,240.2 205.5,240.2 205.6,239.8 205.7,239.3 205.8,238.5 205.9,236.6 206.0,239.1 206.1,240.7 206.2,240.3 206.3,239.0 206.4,236.3 206.5,239.7 206.6,238.9 206.7,238.7 206.8,240.2 206.9,237.6 207.0,235.7 207.1,240.3 207.2,238.6 207.4,237.7 207.5,237.6 207.6,239.3 207.7,239.9 207.8,237.8 207.9,239.5 208.0,239.4 208.1,239.5 208.2,241.3 208.3,239.8 208.4,239.9 208.5,237.7 208.6,239.4 208.7,240.4 208.8,238.8 208.9,238.5 209.0,241.1 209.1,235.6 209.2,237.6 209.3,238.3 209.4,240.2 209.5,238.8 209.6,238.7 209.7,237.3 209.8,237.8 209.9,238.9 210.0,237.8 210.1,239.2 210.2,237.9 210.3,237.8 210.4,241.0 210.5,237.5 210.6,238.9 210.7,238.8 210.8,240.3 210.9,237.8 211.0,237.5 211.1,237.8 211.2,237.0 211.3,237.5 211.4,236.1 211.5,236.3 211.7,237.7 211.8,243.5 211.9,242.5 212.0,241.9 212.1,241.5 212.2,239.2 212.3,240.3 212.4,242.0 212.5,241.0 212.6,240.9 212.7,243.8 212.8,240.1 212.9,240.1 213.0,241.1 213.1,241.2 213.2,242.5 213.3,240.6 213.4,240.4 213.5,238.1 213.6,240.6 213.7,240.1 213.8,243.8 213.9,241.1 214.0,240.3 214.1,241.5 214.2,244.6 214.3,241.6 214.4,244.6 214.5,240.8 214.6,241.9 214.7,240.8 214.8,241.4 214.9,239.5 215.0,240.9 215.1,242.2 215.2,242.5 215.3,242.9 215.4,243.3 215.5,253.7 215.5,242.9 215.6,238.6 215.7,238.0 215.8,240.5 216.0,242.1 216.1,242.4 216.2,240.9 216.3,244.2 216.4,243.2 216.5,239.9 216.6,241.9 216.7,239.3 216.7,232.8 216.8,241.8 216.9,242.6 217.0,240.4 217.1,239.7 217.2,240.8 217.3,240.3 217.4,241.2 217.5,240.7 217.6,242.7 217.7,243.7 217.8,241.5 217.9,241.6 218.0,239.6 218.1,242.6 218.2,241.3 218.3,240.3 218.4,243.1 218.5,241.9 218.6,242.6 218.7,240.2 218.8,240.0 218.9,242.6 219.0,243.3 219.1,239.5 219.2,241.2 219.3,240.3 219.4,241.1 219.5,241.2 219.6,242.2 219.7,235.8 219.8,243.0 219.9,241.6 220.0,241.9 220.1,240.3 220.2,239.8 220.4,241.9 220.5,238.8 220.6,241.6 220.7,240.3 220.8,237.1 220.9,239.9 221.0,241.5 221.1,240.9 221.2,238.8 221.3,238.7 221.4,243.1 221.5,244.1 221.6,240.0 221.7,242.3 221.8,240.3 221.9,240.3 222.0,239.5 222.1,238.1 222.2,240.7 222.3,241.7 222.4,241.6 222.5,240.3 222.6,240.4 222.7,239.0 222.8,237.1 222.9,239.2 223.0,240.0 223.1,238.2 223.2,233.6 223.3,232.8 223.4,234.9 223.5,231.4 223.6,227.2 223.7,228.8 223.8,230.2 223.9,229.7 224.0,224.3 224.1,223.6 224.2,226.5 224.3,224.8 224.4,225.5 224.5,227.1 224.7,225.3 224.8,225.3 224.9,226.1 225.0,223.3 225.1,226.7 225.2,226.7 225.3,226.1 225.4,225.8 225.5,227.1 225.6,225.4 225.7,228.4 225.8,226.3 225.9,226.1 226.0,226.2 226.1,226.5 226.2,226.6 226.3,228.2 226.4,228.8 226.5,225.7 226.6,226.2 226.7,226.7 226.8,227.8 226.9,226.4 227.0,229.9 227.1,226.0 227.2,224.1 227.3,224.3 227.4,225.0 227.5,225.3 227.6,227.8 227.7,225.5 227.8,226.7 227.9,226.4 228.0,226.2 228.1,225.6 228.2,226.9 228.3,225.3 228.4,223.8 228.5,227.9 228.6,224.7 228.7,224.1 228.8,226.0 229.0,224.6 229.1,226.3 229.2,225.9 229.3,223.4 229.4,227.2 229.5,226.1 229.6,228.0 229.7,227.8 229.8,226.1 229.9,225.7 230.0,224.8 230.1,224.4 230.2,227.3 230.3,225.2 230.4,226.7 230.5,225.4 230.6,227.3 230.7,226.5 230.8,226.0 230.9,225.9 231.0,226.7 231.1,223.9 231.2,225.3 231.3,225.8 231.4,225.4 231.5,225.6 231.6,224.7 231.7,225.1 231.8,224.5 231.9,226.4 232.0,226.7 232.1,223.2 232.2,225.1 232.3,224.8 232.4,224.6 232.5,228.7 232.6,226.7 232.7,225.5 232.8,225.6 232.9,229.4 233.0,227.1 233.1,226.0 233.3,224.2 233.4,226.3 233.5,224.8 233.6,228.2 233.7,226.0 233.8,227.2 233.9,227.2 234.0,227.1 234.1,231.3 234.2,225.2 234.3,228.5 234.4,226.4 234.5,227.6 234.6,227.4 234.7,225.6 234.8,228.9 234.9,225.2 235.0,226.6 235.1,228.5 235.2,224.1 235.3,227.5 235.4,229.6 235.5,226.4 235.6,225.5 235.7,227.6 235.8,227.2 235.9,226.1 236.0,227.5 236.1,225.7 236.2,228.4 236.3,227.3 236.4,226.2 236.5,222.6 236.6,225.4 236.7,227.2 236.8,225.3 236.9,226.7 237.0,227.3 237.1,226.7 237.2,228.3 237.3,229.9 237.4,229.6 237.5,227.6 237.7,225.3 237.8,227.0 237.9,227.4 238.0,225.1 238.1,226.5 238.2,225.6 238.3,226.9 238.4,219.1 238.5,227.2 238.6,227.0 238.7,229.0 238.8,228.1 238.9,226.9 239.0,224.7 239.1,225.6 239.2,225.4 239.3,226.1 239.4,224.9 239.5,229.4 239.6,226.1 239.7,225.0 239.8,225.2 239.9,226.2 240.0,226.8 240.1,226.6 240.2,231.8 240.3,228.3 240.4,227.3 240.5,226.6 240.6,225.9 240.7,224.0 240.8,225.7 240.9,227.0 241.0,225.2 241.1,227.7 241.2,225.3 241.3,227.1 241.4,227.4 241.5,226.1 241.6,224.3 241.7,226.6 241.8,228.1 242.0,226.1 242.1,228.3 242.2,225.3 242.3,227.2 242.4,227.8 242.5,226.4 242.6,226.5 242.7,226.9 242.8,227.6 242.9,225.8 243.0,230.2 243.1,226.1 243.2,227.6 243.3,226.3 243.4,227.4 243.5,227.0 243.6,225.6 243.7,225.9 243.8,224.8 243.9,225.2 244.0,227.6 244.1,226.9 244.2,227.3 244.3,224.8 244.4,225.2 244.5,225.4 244.6,226.5 244.7,226.6 244.8,225.6 244.9,225.9 245.0,224.4 245.1,226.0 245.2,224.9 245.3,224.2 245.4,226.2 245.5,225.6 245.6,227.7 245.7,224.3 245.8,226.4 245.9,225.8 246.0,223.9 246.1,227.3 246.3,225.6 246.4,229.3 246.5,229.5 246.6,228.0 246.7,224.7 246.8,227.2 246.9,226.6 247.0,228.9 247.1,226.8 247.2,226.8 247.3,225.9 247.4,228.1 247.5,226.1 247.6,227.1 247.7,225.3 247.8,227.6 247.9,228.3 248.0,226.9 248.1,226.5 248.2,228.4 248.3,227.2 248.4,225.2 248.5,226.3 248.6,226.2 248.7,226.3 248.8,223.5 248.9,225.2 249.0,227.3 249.1,228.7 249.2,223.5 249.3,226.0 249.4,228.0 249.5,227.9 249.6,225.3 249.7,227.7 249.8,228.9 249.9,228.6 250.0,226.3 250.1,223.9 250.2,227.2 250.3,228.8 250.4,229.1 250.6,226.8 250.7,228.6 250.8,227.7 250.9,224.4 251.0,226.2 251.1,225.3 251.2,227.3 251.3,226.2 251.4,227.5 251.5,227.7 251.6,225.8 251.7,227.0 251.8,227.5 251.9,227.1 252.0,225.7 252.1,227.7 252.2,225.3 252.3,225.7 252.4,224.5 252.5,226.2 252.6,225.4 252.7,225.2 252.8,228.7 252.9,228.1 253.0,222.1 253.1,226.3 253.2,226.4 253.3,227.5 253.4,227.8 253.5,224.1 253.6,227.1 253.7,225.9 253.8,225.5 253.9,226.1 254.0,229.3 254.1,228.3 254.2,227.5 254.3,228.0 254.4,225.2 254.5,226.7 254.6,226.2 254.7,225.3 254.8,224.6 255.0,227.7 255.1,229.7 255.2,225.2 255.3,225.6 255.4,225.5 255.5,224.7 255.6,226.0 255.7,226.9 255.8,228.7 255.9,226.8 256.0,230.0 256.1,227.6 256.2,224.9 256.3,226.2 256.4,228.2 256.5,225.1 256.6,225.7 256.7,226.4 256.8,224.5 256.9,225.2 257.0,225.5 257.1,225.7 257.2,225.7 257.3,226.8 257.4,224.7 257.5,226.2 257.6,228.6 257.7,225.7 257.8,224.2 257.9,227.5 258.0,227.3 258.1,228.6 258.2,225.6 258.3,225.7 258.4,225.7 258.5,225.4 258.6,226.0 258.7,226.1 258.8,224.2 258.9,224.1 259.0,228.2 259.1,227.0 259.3,228.3 259.4,225.6 259.5,225.5 259.6,225.2 259.7,225.5 259.8,225.4 259.9,226.2 260.0,226.7 260.1,226.6 260.2,225.0 260.3,226.2 260.4,228.4 260.5,225.8 260.6,227.3 260.7,229.2 260.8,227.7 260.9,229.2 261.0,226.6 261.1,225.8 261.2,224.6 261.3,225.1 261.4,224.4 261.5,227.4 261.6,226.7 261.7,226.4 261.8,223.0 261.9,227.3 262.0,228.2 262.1,226.7 262.2,227.6 262.3,228.6 262.4,226.6 262.5,226.6 262.6,229.7 262.7,228.9 262.8,227.5 262.9,224.6 263.0,226.4 263.1,225.3 263.2,227.1 263.3,226.9 263.4,228.9 263.6,229.3 263.7,226.5 263.8,224.1 263.9,224.5 264.0,225.8 264.1,223.3 264.2,226.6 264.3,225.4 264.4,227.3 264.5,226.9 264.6,227.3 264.7,226.4 264.8,228.5 264.9,228.7 265.0,229.3 265.1,227.9 265.2,230.4 265.3,226.0 265.4,226.6 265.5,228.0 265.6,230.9 265.7,225.9 265.8,227.6 265.9,226.3 266.0,228.9 266.1,227.2 266.2,228.5 266.3,227.5 266.4,227.8 266.5,227.5 266.6,229.3 266.7,228.5 266.8,227.6 266.9,224.0 267.0,225.8 267.1,225.4 267.2,227.3 267.3,225.1 267.4,226.3 267.5,227.0 267.6,224.5 267.7,227.5 267.9,227.8 268.0,227.5 268.1,227.5 268.2,228.4 268.3,227.3 268.4,227.9 268.5,228.0 268.6,226.1 268.7,226.1 268.8,226.6 268.9,229.8 269.0,227.8 269.1,226.2 269.2,226.7 269.3,228.2 269.4,226.4 269.5,226.1 269.6,225.0 269.7,227.1 269.8,227.3 269.9,226.4 270.0,224.5 270.1,224.9 270.2,225.3 270.3,226.7 270.4,226.9 270.5,226.3 270.6,228.3 270.7,226.0 270.8,227.9 270.9,229.0 271.0,225.9 271.1,228.8 271.2,226.5 271.3,229.7 271.4,227.7 271.5,227.7 271.6,227.8 271.7,227.3 271.8,226.4 271.9,229.3 272.0,222.4 272.1,226.1 272.3,224.7 272.4,225.6 272.5,229.0 272.6,227.4 272.7,228.0 272.8,225.8 272.9,227.6 273.0,228.3 273.1,225.8 273.2,227.1 273.3,225.9 273.4,226.9 273.5,226.2 273.6,223.0 273.7,229.8 273.8,226.8 273.9,225.8 274.0,228.3 274.1,226.2 274.2,226.7 274.3,226.0 274.4,226.0 274.5,228.7 274.6,228.5 274.7,225.0 274.8,225.2 274.9,226.3 275.0,228.1 275.1,227.2 275.2,226.0 275.3,228.0 275.4,226.3 275.5,228.1 275.6,227.6 275.7,229.4 275.8,226.3 275.9,225.7 276.0,227.9 276.1,226.3 276.2,225.1 276.3,228.5 276.4,228.7 276.6,227.3 276.7,226.0 276.8,225.7 276.9,227.9 277.0,228.6 277.1,226.8 277.2,229.2 277.3,227.2 277.4,229.4 277.5,227.8 277.6,232.9 277.7,226.6 277.8,229.0 277.9,229.1 278.0,228.4 278.1,228.7 278.2,226.1 278.3,227.0 278.4,229.2 278.5,230.6 278.6,232.2 278.7,234.6 278.8,233.9 278.9,235.2 279.0,236.7 279.1,236.6 279.2,237.5 279.3,234.9 279.4,236.1 279.5,239.1 279.6,240.9 279.7,237.0 279.8,239.7 279.9,237.4 280.0,240.0 280.1,239.0 280.2,236.6 280.3,237.8 280.4,237.5 280.5,238.6 280.6,235.1 280.7,236.3 280.9,240.3 281.0,238.3 281.1,238.7 281.2,236.8 281.3,238.8 281.4,235.5 281.5,235.7 281.6,238.7 281.7,237.9 281.8,242.9 281.9,239.6 282.0,240.2 282.1,239.0 282.2,238.7 282.3,242.0 282.4,238.7 282.5,238.8 282.6,240.4 282.7,238.6 282.8,238.7 282.9,239.1 283.0,238.2 283.1,238.2 283.2,236.4 283.3,237.9 283.4,238.4 283.5,239.6 283.6,238.0 283.7,237.4 283.8,240.1 283.9,240.4 284.0,240.6 284.1,238.5 284.2,239.4 284.3,239.4 284.4,238.3 284.5,237.8 284.6,238.2 284.7,236.0 284.8,238.8 284.9,239.2 285.0,239.0 285.2,239.8 285.3,239.8 285.4,241.6 285.5,240.1 285.6,240.9 285.7,242.1 285.8,240.0 285.9,239.3 286.0,237.4 286.1,239.9 286.2,242.6 286.3,238.8 286.4,241.3 286.5,241.1 286.6,240.6 286.7,241.4 286.8,240.2 286.9,238.6 287.0,242.5 287.1,240.0 287.2,239.1 287.3,239.0 287.4,239.4 287.5,241.5 287.6,242.1 287.6,252.1 287.7,242.6 287.8,241.7 287.9,238.4 288.0,236.8 288.1,239.6 288.2,241.1 288.3,240.4 288.4,240.8 288.5,239.9 288.6,242.0 288.7,238.1 288.8,240.4 288.9,243.3 289.0,243.8 289.1,243.9 289.2,242.4 289.3,242.8 289.4,241.8 289.6,244.2 289.7,242.0 289.8,242.1 289.9,243.9 290.0,242.5 290.1,240.9 290.2,243.5 290.3,244.5 290.4,243.0 290.5,244.1 290.6,243.3 290.7,240.1 290.8,242.4 290.9,243.0 291.0,242.7 291.1,244.0 291.2,241.4 291.3,240.1 291.4,242.6 291.5,243.8 291.6,243.9 291.7,244.3 291.8,243.4 291.9,244.5 292.0,245.6 292.1,244.3 292.2,241.6 292.3,241.7 292.4,241.2 292.5,240.6 292.6,239.4 292.7,242.7 292.8,244.3 292.9,239.1 293.0,240.0 293.1,241.1 293.2,240.6 293.3,240.9 293.4,243.2 293.5,240.1 293.6,242.8 293.7,241.8 293.9,240.1 294.0,248.6 294.1,242.6 294.2,243.5 294.3,243.7 294.4,242.8 294.5,243.3 294.6,242.1 294.7,244.7 294.8,240.2 294.9,244.3 295.0,243.0 295.1,244.4 295.2,242.5 295.3,243.2 295.4,242.3 295.5,242.9 295.6,243.9 295.7,241.8 295.8,242.8 295.9,242.5 296.0,243.4 296.1,246.4 296.2,242.7 296.3,241.5 296.4,245.4 296.5,244.0 296.6,242.5 296.7,237.3 296.8,243.3 296.9,241.5 297.0,240.8 297.1,241.5 297.2,243.1 297.3,240.3 297.4,242.0 297.4,235.4 297.5,241.9 297.6,241.8 297.7,243.6 297.8,242.7 297.9,244.2 298.0,244.7 298.2,242.6 298.3,240.6 298.4,240.4 298.5,240.9 298.6,241.2 298.7,241.4 298.8,241.0 298.9,240.4 299.0,239.2 299.1,243.3 299.2,242.3 299.3,239.5 299.4,242.6 299.5,245.4 299.6,242.8 299.7,241.3 299.8,241.1 299.9,239.2 300.0,240.8 300.1,243.8 300.2,243.6 300.3,243.4 300.4,243.8 300.5,243.2 300.6,242.3 300.7,241.9 300.8,244.3 300.9,243.2 301.0,242.7 301.1,241.3 301.2,239.5 301.3,241.6 301.4,242.5 301.5,241.3 301.6,241.2 301.7,242.5 301.8,239.3 301.9,238.7 302.0,239.5 302.1,239.6 302.2,238.8 302.3,241.6 302.5,244.7 302.6,243.7 302.7,245.7 302.8,245.1 302.9,245.8 303.0,245.8 303.1,246.6 303.2,249.0 303.3,247.9 303.4,248.1 303.5,249.7 303.6,249.9 303.7,251.3 303.8,251.4 303.9,252.4 304.0,252.6 304.1,252.9 304.2,251.7 304.3,252.2 304.4,252.5 304.5,252.4 304.6,252.6 304.7,252.2 304.8,252.4 304.9,252.7 305.0,252.3 305.1,252.3 305.2,252.1 305.3,252.0 305.4,251.6 305.4,252.1 305.5,253.3 305.6,252.3 305.7,250.6 305.8,252.6 305.9,251.9 306.0,251.9 306.1,252.2 306.2,252.9 306.3,252.9 306.4,252.8 306.5,252.5 306.6,252.6 306.7,242.5 306.8,251.7 306.9,252.8 307.0,252.7 307.1,252.8 307.2,251.2 307.3,251.8 307.4,250.9 307.5,251.6 307.6,251.9 307.7,251.7 307.8,251.5 307.9,252.0 308.0,251.9 308.1,251.8 308.2,252.1 308.3,251.2 308.4,251.6 308.5,251.7 308.6,252.1 308.7,252.3 308.8,253.1 308.9,251.8 309.0,252.0 309.1,251.7 309.2,252.2 309.3,250.6 309.4,251.8 309.5,253.0 309.6,251.6 309.7,252.6 309.8,252.5 309.9,250.9 310.0,252.9 310.1,251.9 310.2,252.2 310.3,252.4 310.4,251.4 310.5,252.8 310.6,252.3 310.7,252.3 310.8,252.6 310.9,251.6 311.0,250.7 311.2,251.2 311.3,252.1 311.4,251.9 311.5,252.5 311.6,252.0 311.7,251.1 311.8,251.7 311.9,251.7 312.0,251.7 312.1,250.8 312.2,251.8 312.3,252.5 312.4,251.7 312.5,250.5 312.6,252.7 312.7,252.5 312.8,252.6 312.9,252.7 313.0,252.8 313.1,252.6 313.2,251.4 313.3,251.9 313.4,252.5 313.5,252.9 313.6,252.5 313.7,251.3 313.8,251.6 313.9,252.4 314.0,251.9 314.1,251.7 314.2,251.3 314.3,252.8 314.4,253.0 314.5,251.9 314.6,252.1 314.7,252.4 314.8,252.2 314.9,252.8 315.0,251.7 315.1,252.3 315.2,252.0 315.3,252.8 315.5,253.0 315.6,251.6 315.7,251.2 315.8,252.1 315.9,252.9 316.0,252.6 316.1,252.6 316.2,253.0 316.3,252.2 316.4,251.0 316.5,252.2 316.6,251.4 316.7,251.7 316.8,251.6 316.9,251.5 317.0,252.2 317.1,252.3 317.2,252.1 317.3,251.8 317.4,251.8 317.5,250.0 317.6,252.1 317.7,251.0 317.8,251.9 317.9,252.3 318.0,252.2 318.1,252.6 318.2,252.6 318.3,252.2 318.4,251.7 318.5,251.5 318.6,252.3 318.7,251.9 318.8,251.2 318.9,251.6 319.0,252.1 319.1,251.1 319.2,251.4 319.3,251.8 319.4,253.5 319.5,251.7 319.6,251.2 319.8,251.9 319.9,251.4 320.0,252.5 320.1,252.5 320.2,251.9 320.3,251.5 320.4,252.1 320.5,251.6 320.6,251.4 320.7,251.6 320.8,252.2 320.9,252.3 321.0,251.7 321.1,251.7 321.2,252.7 321.3,252.4 321.4,251.9 321.5,252.4 321.6,252.4 321.7,251.9 321.8,252.1 321.9,251.8 322.0,252.5 322.1,253.3 322.2,252.6 322.3,251.8 322.4,252.7 322.5,251.5 322.6,252.5 322.7,252.2 322.8,251.5 322.9,251.9 323.0,250.9 323.1,252.5 323.2,253.1 323.3,252.7 323.4,252.7 323.5,252.6 323.6,252.1 323.7,251.5 323.8,252.9 323.9,251.9 324.1,252.3 324.2,251.2 324.3,251.4 324.4,252.0 324.5,252.0 324.6,251.9 324.7,251.3 324.8,252.4 324.9,252.7 325.0,252.1 325.1,251.6 325.2,251.8 325.3,252.7 325.4,252.4 325.5,252.8 325.6,252.1 325.7,251.6 325.8,251.2 325.9,250.6 326.0,251.1 326.1,251.8 326.2,251.5 326.3,252.4 326.4,251.3 326.5,251.7 326.6,251.3 326.7,251.8 326.8,252.0 326.9,252.1 327.0,252.1 327.1,252.3 327.2,252.7 327.3,251.0 327.4,251.3 327.5,251.8 327.6,251.5 327.7,251.6 327.8,252.3 327.9,252.5 328.0,252.3 328.1,252.1 328.2,252.1 328.3,252.2 328.5,252.4 328.6,252.8 328.7,252.4 328.8,252.6 328.9,252.1 329.0,251.6 329.1,252.1 329.2,251.6 329.3,252.8 329.4,250.3 329.5,252.9 329.6,251.4 329.7,252.3 329.8,251.8 329.9,251.8 330.0,252.1 330.1,253.0 330.2,252.5 330.3,251.8 330.4,252.8 330.5,252.3 330.6,251.6 330.7,252.0 330.8,252.8 330.9,251.7 331.0,251.7 331.1,251.7 331.2,252.4 331.3,250.8 331.4,251.4 331.5,250.7 331.6,251.7 331.7,251.5 331.8,252.4 331.9,251.6 332.0,251.9 332.1,251.3 332.2,250.2 332.3,251.5 332.4,252.1 332.5,252.2 332.6,251.5 332.8,249.8 332.9,251.1 333.0,250.8 333.1,253.5 333.2,250.9 333.3,251.9 333.4,252.2 333.5,252.0 333.6,251.9 333.7,253.2 333.8,254.2 333.9,252.1 334.0,250.9 334.1,251.3 334.2,251.4 334.3,251.6 334.4,250.6 334.5,251.9 334.6,251.0 334.7,252.1 334.8,252.0 334.9,252.0 335.0,251.7 335.1,252.4 335.2,252.3 335.3,251.8 335.4,252.3 335.5,252.2 335.6,252.1 335.7,251.5 335.8,251.4 335.9,251.9 336.0,251.2 336.1,251.1 336.2,251.9 336.3,252.2 336.4,252.1 336.5,252.0 336.6,251.2 336.7,252.2 336.8,250.8 336.9,251.7 337.1,251.7 337.2,252.0 337.3,252.5 337.4,253.0 337.5,252.2 337.6,251.8 337.7,251.4 337.8,251.5 337.9,251.5 338.0,252.3 338.1,251.7 338.2,252.5 338.3,252.4 338.4,252.4 338.5,252.3 338.6,250.5 338.7,251.9 338.8,251.5 338.9,251.1 339.0,251.7 339.1,252.5 339.2,252.4 339.3,252.5 339.4,251.9 339.5,251.8 339.6,252.1 339.7,251.8 339.8,251.5 339.9,251.9 340.0,251.5 340.1,252.0 340.2,251.9 340.3,251.4 340.4,252.1 340.5,252.8 340.6,252.1 340.7,252.1 340.8,251.4 340.9,249.6 341.0,251.7 341.1,251.9 341.2,251.5 341.4,251.1 341.5,252.1 341.6,252.0 341.7,251.3 341.8,252.1 341.9,251.6 342.0,251.8 342.1,251.9 342.2,252.6 342.3,252.2 342.4,251.0 342.5,252.4 342.6,251.7 342.7,252.2 342.8,251.1 342.9,252.3 343.0,251.0 343.1,251.9 343.2,251.5 343.3,251.5 343.4,251.1 343.5,251.9" fill="none" stroke="#111111" stroke-width="0.8" stroke-opacity="1.0" stroke-linejoin="bevel"/>
<polyline points="441.5,141.7 441.8,128.5 442.0,123.1 442.3,129.3 442.5,128.8 442.8,125.8 443.0,111.5 443.3,133.4 443.5,110.1 443.8,118.4 444.1,111.2 444.3,97.8 444.6,115.0 444.8,103.9 445.1,110.7 445.3,94.4 445.6,79.4 445.8,97.4 446.1,61.3 446.3,53.7 446.6,61.1 446.9,102.3 447.1,75.8 447.4,71.9 447.6,78.6 447.9,99.1 448.1,105.8 448.4,108.3 448.6,77.4 448.9,65.3 449.2,77.6 449.4,47.7 449.7,75.8 449.9,65.5 450.2,60.2 450.4,64.3 450.7,71.0 450.9,83.1 451.2,65.8 451.5,54.3 451.7,49.2 452.0,40.7 452.2,40.8 452.5,52.6 452.7,38.7 453.0,36.2 453.2,55.5 453.5,49.7 453.8,52.2 454.0,62.8 454.3,61.0 454.5,76.1 454.8,78.0 455.0,68.3 455.3,73.4 455.5,73.2 455.8,57.6 456.0,68.1 456.3,73.5 456.6,76.2 456.8,74.9 457.1,103.6 457.3,86.7 457.6,111.7 457.8,121.9 458.1,119.9 458.3,122.0 458.6,124.6 458.9,122.7 459.1,119.7 459.4,109.9 459.6,128.5 459.9,124.1 460.1,137.9 460.4,136.7 460.6,137.6 460.9,149.6 461.2,140.1 461.4,153.8 461.7,160.7 461.9,153.4 462.2,152.7 462.4,132.7 462.7,118.4 462.9,111.9 463.2,118.6 463.5,116.0 463.7,122.7 464.0,112.6 464.2,117.9 464.5,112.3 464.7,128.5 465.0,134.6 465.2,134.8 465.5,134.8 465.7,138.0 466.0,144.8 466.3,155.7 466.5,154.4 466.8,153.8 467.0,159.6 467.3,162.7 467.5,157.5 467.8,163.3 468.0,153.9 468.3,167.7 468.6,154.7 468.8,154.4 469.1,159.8 469.3,155.8 469.6,157.5 469.8,160.1 470.1,164.8 470.3,159.8 470.6,154.2 470.9,161.9 471.1,166.4 471.4,140.5 471.6,157.6 471.9,156.3 472.1,153.2 472.4,153.6 472.6,141.8 472.9,163.2 473.2,162.8 473.4,150.7 473.7,153.3 473.9,141.9 474.2,150.4 474.4,172.7 474.7,175.6 474.9,170.6 475.2,162.4 475.4,165.7 475.7,145.9 476.0,146.9 476.2,144.8 476.5,145.0 476.7,164.7 477.0,152.5 477.2,160.7 477.5,169.8 477.7,148.9 478.0,155.2 478.3,155.2 478.5,150.6 478.8,154.5 479.0,151.1 479.3,161.9 479.5,134.2 479.8,154.0 480.0,173.5 480.3,163.7 480.6,150.3 480.8,159.3 481.1,164.6 481.3,165.9 481.6,137.1 481.8,130.4 482.1,153.8 482.3,151.9 482.6,155.8 482.9,151.1 483.1,140.1 483.4,136.9 483.6,143.5 483.9,133.7 484.1,136.4 484.4,134.2 484.6,139.6 484.9,149.7 485.1,152.3 485.4,153.5 485.7,133.3 485.9,133.5 486.2,158.3 486.4,135.6 486.7,147.5 486.9,147.0 487.2,152.2 487.4,162.6 487.7,151.1 488.0,155.4 488.2,132.4 488.5,144.1 488.7,161.2 489.0,173.6 489.2,185.2 489.5,176.9 489.7,171.8 490.0,160.5 490.3,180.5 490.5,170.1 490.8,181.9 491.0,183.5 491.3,158.3 491.5,143.0 491.8,151.2 492.0,144.6 492.3,146.2 492.6,152.1 492.8,146.2 493.1,144.1 493.3,143.0 493.6,154.1 493.8,141.5 494.1,162.6 494.3,161.9 494.6,161.8 494.8,163.7 495.1,164.5 495.4,141.0 495.6,152.2 495.9,144.7 496.1,159.5 496.4,168.8 496.6,168.5 496.9,152.8 497.1,161.6 497.4,173.5 497.7,169.9 497.9,180.8 498.2,166.8 498.4,175.5 498.7,172.1 498.9,175.6 499.2,179.1 499.4,170.1 499.7,167.0 500.0,180.3 500.2,150.1 500.5,143.5 500.7,144.9 501.0,149.3 501.2,148.0 501.5,153.7 501.7,148.0 502.0,156.5 502.3,141.8 502.5,167.7 502.8,154.6 503.0,159.2 503.3,167.4 503.5,168.7 503.8,168.9 504.0,185.0 504.3,181.1 504.5,179.3 504.8,186.3 505.1,191.2 505.3,185.8 505.6,183.6 505.8,191.7 506.1,185.2 506.3,187.2 506.6,192.6 506.8,181.8 507.1,184.6 507.4,174.4 507.6,175.8 507.9,171.9 508.1,162.3 508.4,163.5 508.6,161.6 508.9,158.1 509.1,157.4 509.4,157.5 509.7,155.5 509.9,155.4 510.2,159.4 510.4,160.1 510.7,163.1 510.9,173.0 511.2,176.8 511.4,190.2 511.7,193.0 512.0,193.3 512.2,171.5 512.5,165.0 512.7,160.8 513.0,153.0 513.2,156.7 513.5,163.1 513.7,158.8 514.0,171.5 514.2,168.0 514.5,158.5 514.8,157.7 515.0,155.3 515.3,169.8 515.5,173.7 515.8,162.6 516.0,179.2 516.3,171.4 516.5,172.9 516.8,192.5 517.1,176.4 517.3,182.9 517.6,189.6 517.8,165.7 518.1,186.8 518.3,184.3 518.6,189.5 518.8,187.5 519.1,193.6 519.4,178.9 519.6,192.1 519.9,184.9 520.1,180.4 520.4,185.0 520.6,177.8 520.9,188.2 521.1,178.3 521.4,177.1 521.7,180.8 521.9,188.1 522.2,184.1 522.4,184.9 522.7,188.9 522.9,173.5 523.2,200.7 523.4,172.1 523.7,177.9 523.9,187.4 524.2,207.7 524.5,194.3 524.7,190.9 525.0,191.2 525.2,187.5 525.5,188.7 525.7,193.7 526.0,177.3 526.2,177.7 526.5,188.2 526.8,199.7 527.0,181.7 527.3,186.6 527.5,196.1 527.8,183.5 528.0,184.4 528.3,199.9 528.5,211.9 528.8,213.3 529.1,208.0 529.3,212.6 529.6,186.6 529.8,166.4 530.1,169.4 530.3,167.6 530.6,164.5 530.8,165.3 531.1,180.7 531.3,180.5 531.6,176.6 531.9,183.0 532.1,168.1 532.4,182.4 532.6,173.5 532.9,181.2 533.1,175.4 533.4,185.9 533.6,171.6 533.9,174.1 534.2,179.0 534.4,173.0 534.7,181.5 534.9,193.1 535.2,197.0 535.4,186.1 535.7,187.6 535.9,172.6 536.2,188.6 536.5,186.8 536.7,191.7 537.0,182.4 537.2,181.7 537.5,188.8 537.7,214.7 538.0,195.7 538.2,185.6 538.5,184.3 538.8,178.7 539.0,175.4 539.3,178.1 539.5,172.4 539.8,174.9 540.0,190.2 540.3,199.7 540.5,193.5 540.8,185.3 541.0,186.3 541.3,170.7 541.6,174.4 541.8,176.8 542.1,173.6 542.3,173.0 542.6,181.2 542.8,178.8 543.1,170.5 543.3,165.5 543.6,164.0 543.9,168.2 544.1,165.3 544.4,170.4 544.6,169.3 544.9,166.3 545.1,159.0 545.4,175.6 545.6,174.4 545.9,179.9 546.2,180.0 546.4,181.6 546.7,186.3 546.9,182.7 547.2,207.8 547.4,202.3 547.7,210.5 547.9,213.4 548.2,215.6 548.5,201.0 548.7,207.8 549.0,209.6 549.2,215.7 549.5,183.1 549.7,193.4 550.0,190.4 550.2,182.0 550.5,183.2 550.7,164.7 551.0,173.6 551.3,153.8 551.5,177.6 551.8,168.1 552.0,193.3 552.3,184.8 552.5,188.6 552.8,182.7 553.0,204.9 553.3,194.7 553.6,189.7 553.8,203.3 554.1,197.2 554.3,208.5 554.6,206.5 554.8,205.8 555.1,195.7 555.3,189.3 555.6,169.2 555.9,181.9 556.1,172.3 556.4,156.7 556.6,165.3 556.9,163.8 557.1,165.8 557.4,151.7 557.6,153.6 557.9,153.1 558.2,162.6 558.4,146.3 558.7,163.2 558.9,150.8 559.2,151.7 559.4,146.8 559.7,147.6 559.9,145.4 560.2,148.1 560.4,149.3 560.7,159.6 561.0,157.9 561.2,156.5 561.5,166.6 561.7,183.4 562.0,170.0 562.2,161.2 562.5,161.5 562.7,162.0 563.0,147.5 563.3,164.6 563.5,180.6 563.8,169.5 564.0,170.6 564.3,192.2 564.5,192.9 564.8,185.2 565.0,201.9 565.3,179.5 565.6,197.6 565.8,175.1 566.1,171.7 566.3,194.9 566.6,204.4 566.8,207.3 567.1,209.7 567.3,204.2 567.6,204.7 567.9,191.5 568.1,185.3 568.4,196.6 568.6,195.3 568.9,190.6 569.1,184.8 569.4,174.7 569.6,165.2 569.9,168.6 570.1,148.6 570.4,201.4 570.7,204.6 570.9,187.9 571.2,208.0 571.4,182.0 571.7,200.4 571.9,192.3 572.2,193.5 572.4,202.4 572.7,203.9 573.0,204.2 573.2,208.4 573.5,215.6 573.7,217.6 574.0,195.1 574.2,186.5 574.5,177.2 574.7,182.1 575.0,189.8 575.3,187.9 575.5,190.1 575.8,183.4 576.0,154.6 576.3,160.7 576.5,171.2 576.8,155.1 577.0,167.6 577.3,190.0 577.6,180.1 577.8,175.6 578.1,183.4 578.3,173.6 578.6,183.2 578.8,181.8 579.1,181.5 579.3,184.1 579.6,181.9 579.8,185.8 580.1,205.6 580.4,225.4 580.6,211.7 580.9,226.7 581.1,216.3 581.4,208.3 581.6,212.0 581.9,221.1 582.1,205.6 582.4,211.1 582.7,213.1 582.9,214.9 583.2,207.4 583.4,211.7 583.7,208.4 583.9,199.4 584.2,214.2 584.4,206.9 584.7,209.8 585.0,205.7 585.2,214.8 585.5,212.3 585.7,206.2 586.0,213.2 586.2,226.2 586.5,220.0 586.7,221.1 587.0,216.2 587.3,227.0 587.5,211.1 587.8,212.3 588.0,215.9 588.3,223.0 588.5,222.0 588.8,220.8 589.0,212.6 589.3,226.7 589.5,210.8 589.8,201.1 590.1,192.1 590.3,194.3 590.6,165.6 590.8,156.6 591.1,173.7 591.3,164.9 591.6,173.1 591.8,176.5 592.1,181.7 592.4,196.4 592.6,193.0 592.9,199.4 593.1,194.7 593.4,205.9 593.6,201.0 593.9,215.7 594.1,217.0 594.4,204.5 594.7,196.5 594.9,199.7 595.2,205.0 595.4,204.1 595.7,186.6 595.9,189.0 596.2,185.8 596.4,199.0 596.7,201.8 597.0,193.7 597.2,199.8 597.5,204.6 597.7,211.6 598.0,208.0 598.2,205.9 598.5,209.1 598.7,207.9 599.0,210.6 599.2,196.6 599.5,192.7 599.8,200.0 600.0,193.6 600.3,197.9 600.5,213.1 600.8,207.7 601.0,191.0 601.3,187.9 601.5,187.7 601.8,185.8 602.1,205.6 602.3,209.2 602.6,197.6 602.8,199.1 603.1,206.4 603.3,195.5 603.6,206.2 603.8,200.9 604.1,198.0 604.4,195.1 604.6,200.7 604.9,193.9 605.1,204.2 605.4,205.7 605.6,201.2 605.9,200.3 606.1,202.0 606.4,212.8 606.7,199.9 606.9,198.3 607.2,191.9 607.4,189.1 607.7,180.3 607.9,176.2 608.2,182.9 608.4,177.0 608.7,175.6 608.9,175.1 609.2,169.0 609.5,169.9 609.7,181.2 610.0,175.9 610.2,175.4 610.5,186.8 610.7,191.4 611.0,196.8 611.2,201.2 611.5,196.7 611.8,182.0 612.0,190.3 612.3,185.6 612.5,189.0 612.8,182.8 613.0,203.9 613.3,201.9 613.5,194.2 613.8,197.6 614.1,187.9 614.3,197.4 614.6,191.1 614.8,185.7 615.1,182.4 615.3,181.3 615.6,176.1 615.8,163.2 616.1,149.8 616.3,157.1 616.6,135.0 616.9,140.3 617.1,152.8 617.4,166.8 617.6,166.5 617.9,173.9 618.1,189.2 618.4,205.2 618.6,204.3 618.9,213.2 619.2,208.8 619.4,200.4 619.7,206.4 619.9,200.7 620.2,194.2 620.4,183.2 620.7,187.3 620.9,194.4 621.2,199.4 621.5,196.2 621.7,195.9 622.0,198.9 622.2,203.3 622.5,194.3 622.7,203.8 623.0,196.2 623.2,202.7 623.5,207.6 623.8,203.5 624.0,192.6 624.3,191.4 624.5,202.3 624.8,206.1 625.0,196.7 625.3,204.8 625.5,194.9 625.8,208.4 626.0,200.9 626.3,212.0 626.6,211.7 626.8,207.5 627.1,213.8 627.3,216.5 627.6,211.6 627.8,213.4 628.1,211.1 628.3,213.2 628.6,206.7 628.9,213.5 629.1,214.0 629.4,201.9 629.6,208.6 629.9,215.5 630.1,216.7 630.4,216.2 630.6,214.9 630.9,213.2 631.2,213.8 631.4,216.6 631.7,215.1 631.9,212.8 632.2,216.3 632.4,208.4 632.7,210.1 632.9,205.1 633.2,213.1 633.5,206.9 633.7,206.5 634.0,198.8 634.2,206.2 634.5,203.4 634.7,203.9 635.0,195.0 635.2,210.2 635.5,197.7 635.7,203.6 636.0,204.2 636.3,204.7 636.5,201.2 636.8,196.5 637.0,181.8 637.3,189.3 637.5,205.0 637.8,212.4 638.0,208.5 638.3,208.5 638.6,197.7 638.8,181.6 639.1,184.2 639.3,197.4 639.6,188.8 639.8,205.5 640.1,196.3 640.3,195.1 640.6,191.5 640.9,194.2 641.1,196.9 641.4,192.9 641.6,187.2 641.9,178.6 642.1,199.4 642.4,207.4 642.6,203.1 642.9,202.6 643.2,194.5 643.4,196.8 643.7,203.6 643.9,202.6 644.2,204.0 644.4,203.4 644.7,202.2 644.9,197.9 645.2,186.5 645.4,204.4 645.7,191.7 646.0,197.1 646.2,202.0 646.5,192.6 646.7,198.5 647.0,190.6 647.2,202.0 647.5,192.2 647.7,203.6 648.0,196.5 648.3,189.6 648.5,194.6 648.8,191.9 649.0,198.9 649.3,190.0 649.5,199.5 649.8,203.1 650.0,196.4 650.3,205.8 650.6,208.8 650.8,204.6 651.1,198.1 651.3,198.0 651.6,211.0 651.8,214.0 652.1,210.4 652.3,215.3 652.6,212.5 652.9,208.4 653.1,197.0 653.4,186.7 653.6,185.4 653.9,198.7 654.1,197.4 654.4,201.0 654.6,193.5 654.9,206.2 655.1,196.1 655.4,191.9 655.7,197.8 655.9,208.6 656.2,199.8 656.4,204.0 656.7,200.5 656.9,204.2 657.2,205.0 657.4,203.3 657.7,193.7 658.0,207.4 658.2,204.0 658.5,201.9 658.7,198.4 659.0,202.0 659.2,185.3 659.5,193.9 659.7,192.0 660.0,197.9 660.3,199.7 660.5,215.6 660.8,206.1 661.0,208.8 661.3,210.1 661.5,198.6 661.8,205.9 662.0,211.5 662.3,210.7 662.6,199.8 662.8,194.3 663.1,191.9 663.3,194.2 663.6,192.3 663.8,186.9 664.1,178.3 664.3,172.7 664.6,176.5 664.8,195.3 665.1,181.4 665.4,187.1 665.6,198.8 665.9,198.6 666.1,203.0 666.4,214.0 666.6,209.1 666.9,208.4 667.1,214.0 667.4,211.6 667.7,214.5 667.9,211.2 668.2,213.9 668.4,208.0 668.7,214.0 668.9,209.8 669.2,205.2 669.4,203.7 669.7,201.2 670.0,206.8 670.2,204.4 670.5,194.5 670.7,200.5 671.0,196.1 671.2,201.6 671.5,203.0 671.7,199.2 672.0,204.0 672.3,201.9 672.5,212.1 672.8,207.7 673.0,210.6 673.3,208.2 673.5,208.2 673.8,207.6 674.0,210.2 674.3,207.6 674.5,215.6 674.8,210.0 675.1,204.5 675.3,199.4 675.6,207.6 675.8,205.5 676.1,214.1 676.3,213.4 676.6,212.3 676.8,210.0 677.1,208.5 677.4,213.3 677.6,209.4 677.9,207.6 678.1,208.1 678.4,209.3 678.6,212.9 678.9,220.5 679.1,216.8 679.4,214.9 679.7,205.2 679.9,204.9 680.2,208.0 680.4,208.3 680.7,208.3 680.9,208.8 681.2,213.9 681.4,211.3 681.7,206.9 682.0,220.3 682.2,214.9 682.5,212.4 682.7,211.8 683.0,211.7 683.2,212.9 683.5,217.2 683.7,215.4 684.0,212.9 684.2,213.4 684.5,218.4 684.8,222.7 685.0,224.1 685.3,223.7 685.5,223.6 685.8,216.8 686.0,217.3 686.3,220.5 686.5,213.8 686.8,218.0 687.1,216.1 687.3,216.4 687.6,214.6 687.8,219.5 688.1,210.0 688.3,210.9 688.6,216.9 688.8,220.6 689.1,215.0 689.4,217.7 689.6,214.1 689.9,212.4 690.1,214.4 690.4,217.2 690.6,214.2 690.9,213.7 691.1,214.0 691.4,212.9 691.7,214.2 691.9,213.7 692.2,217.1 692.4,223.2 692.7,223.2 692.9,222.3 693.2,219.9 693.4,220.0 693.7,215.7 693.9,216.8 694.2,219.8 694.5,219.1 694.7,223.0 695.0,226.1 695.2,227.3 695.5,225.5 695.7,223.3 696.0,225.7 696.2,225.6 696.5,230.2" fill="none" stroke="#2a2a2a" stroke-width="0.6" stroke-opacity="0.8" stroke-linejoin="bevel"/>
<polyline points="441.5,196.8 441.5,168.4 441.8,154.9 442.0,170.3 442.3,156.5 442.5,128.1 442.8,120.0 443.0,113.0 443.3,118.4 443.5,143.7 443.8,116.2 444.1,134.5 444.3,147.2 444.6,154.4 444.8,154.3 445.1,160.7 445.3,131.3 445.6,129.0 445.8,115.6 446.1,138.5 446.3,128.1 446.6,130.6 446.9,148.9 447.1,121.7 447.4,111.9 447.6,126.3 447.9,117.5 448.1,98.9 448.4,108.9 448.6,110.3 448.9,117.2 449.2,94.3 449.4,109.2 449.7,96.0 449.9,92.3 450.2,117.2 450.4,117.1 450.7,119.2 450.9,97.7 451.2,101.2 451.5,98.4 451.7,90.8 452.0,85.4 452.2,72.5 452.5,88.1 452.7,65.3 453.0,54.7 453.2,75.3 453.5,70.4 453.8,86.8 454.0,84.2 454.3,84.3 454.5,88.8 454.8,80.2 455.0,89.0 455.3,104.6 455.5,108.5 455.8,93.7 456.0,90.1 456.3,72.4 456.6,81.5 456.8,96.7 457.1,94.6 457.3,110.2 457.6,122.7 457.8,104.4 458.1,100.4 458.3,116.0 458.6,132.2 458.9,136.1 459.1,156.0 459.4,157.7 459.6,155.5 459.9,136.5 460.1,124.8 460.4,124.1 460.6,140.1 460.9,171.6 461.2,160.4 461.4,156.6 461.7,155.8 461.9,142.6 462.2,160.7 462.4,172.9 462.7,173.2 462.9,147.8 463.2,140.1 463.5,158.3 463.7,143.6 464.0,153.1 464.2,154.6 464.5,160.5 464.7,140.8 465.0,142.8 465.2,128.6 465.5,150.2 465.7,139.8 466.0,141.7 466.3,158.6 466.5,162.8 466.8,162.2 467.0,174.3 467.3,180.7 467.5,182.5 467.8,171.8 468.0,182.2 468.3,182.9 468.6,187.0 468.8,178.8 469.1,185.0 469.3,187.5 469.6,184.3 469.8,182.5 470.1,165.9 470.3,152.5 470.6,151.5 470.9,155.4 471.1,161.8 471.4,174.3 471.6,165.2 471.9,157.7 472.1,140.4 472.4,148.4 472.6,163.9 472.9,164.0 473.2,163.7 473.4,170.7 473.7,154.9 473.9,144.7 474.2,145.6 474.4,147.9 474.7,151.9 474.9,156.1 475.2,180.2 475.4,175.3 475.7,178.0 476.0,161.7 476.2,182.6 476.5,190.3 476.7,191.8 477.0,203.7 477.2,185.9 477.5,211.1 477.7,224.1 478.0,228.0 478.3,237.0 478.5,238.6 478.8,226.1 479.0,229.5 479.3,218.7 479.5,228.1 479.8,217.1 480.0,225.1 480.3,220.9 480.6,207.4 480.8,208.4 481.1,212.1 481.3,216.0 481.6,219.1 481.8,218.3 482.1,226.6 482.3,238.4 482.6,214.9 482.9,227.4 483.1,207.1 483.4,212.1 483.6,193.9 483.9,202.2 484.1,193.1 484.4,195.5 484.6,202.8 484.9,194.7 485.1,196.6 485.4,203.7 485.7,202.4 485.9,189.7 486.2,200.1 486.4,194.1 486.7,200.4 486.9,196.3 487.2,194.8 487.4,220.3 487.7,217.6 488.0,232.9 488.2,205.8 488.5,199.5 488.7,204.5 489.0,203.9 489.2,207.5 489.5,205.7 489.7,213.2 490.0,202.4 490.3,223.1 490.5,212.6 490.8,204.4 491.0,189.0 491.3,193.1 491.5,192.4 491.8,189.2 492.0,204.2 492.3,192.7 492.6,190.1 492.8,190.6 493.1,209.1 493.3,193.8 493.6,199.6 493.8,192.9 494.1,194.2 494.3,204.5 494.6,207.6 494.8,197.6 495.1,190.3 495.4,200.5 495.6,199.8 495.9,191.6 496.1,187.1 496.4,207.7 496.6,212.0 496.9,212.4 497.1,217.3 497.4,232.5 497.7,241.7 497.9,216.8 498.2,214.4 498.4,216.7 498.7,216.8 498.9,222.6 499.2,218.4 499.4,226.6 499.7,225.5 500.0,231.1 500.2,216.3 500.5,215.8 500.7,228.0 501.0,220.0 501.2,231.5 501.5,214.1 501.7,218.8 502.0,229.0 502.3,219.8 502.5,241.8 502.8,238.7 503.0,235.9 503.3,216.6 503.5,212.4 503.8,210.9 504.0,209.9 504.3,224.5 504.5,218.7 504.8,225.2 505.1,226.8 505.3,229.8 505.6,233.4 505.8,216.3 506.1,226.9 506.3,227.8 506.6,212.1 506.8,213.4 507.1,227.4 507.4,224.8 507.6,232.3 507.9,224.6 508.1,216.0 508.4,215.1 508.6,202.7 508.9,206.3 509.1,217.9 509.4,218.2 509.7,219.2 509.9,201.3 510.2,212.3 510.4,209.4 510.7,223.9 510.9,231.1 511.2,237.0 511.4,235.0 511.7,237.3 512.0,237.9 512.2,218.6 512.5,234.0 512.7,212.6 513.0,216.5 513.2,205.9 513.5,218.0 513.7,192.7 514.0,203.2 514.2,205.5 514.5,197.5 514.8,209.8 515.0,238.7 515.3,236.5 515.5,235.3 515.8,238.1 516.0,241.5 516.3,237.1 516.5,227.1 516.8,211.7 517.1,228.9 517.3,232.2 517.6,220.3 517.8,216.2 518.1,219.1 518.3,202.1 518.6,207.4 518.8,207.2 519.1,212.7 519.4,221.1 519.6,198.6 519.9,202.8 520.1,211.8 520.4,204.2 520.6,195.1 520.9,208.8 521.1,222.8 521.4,211.0 521.7,201.2 521.9,213.2 522.2,214.0 522.4,196.9 522.7,233.7 522.9,211.8 523.2,213.8 523.4,208.6 523.7,217.3 523.9,185.3 524.2,197.3 524.5,191.2 524.7,213.6 525.0,220.0 525.2,213.1 525.5,226.6 525.7,243.0 526.0,243.0 526.2,218.5 526.5,204.5 526.8,218.3 527.0,208.2 527.3,233.1 527.5,208.5 527.8,214.1 528.0,200.2 528.3,200.8 528.5,212.1 528.8,199.2 529.1,206.4 529.3,194.8 529.6,200.8 529.8,215.2 530.1,221.4 530.3,211.5 530.6,208.3 530.8,217.8 531.1,232.6 531.3,209.7 531.6,207.2 531.9,202.5 532.1,194.4 532.4,234.6 532.6,230.7 532.9,231.3 533.1,220.3 533.4,235.0 533.6,228.8 533.9,228.2 534.2,226.0 534.4,234.2 534.7,238.0 534.9,237.6 535.2,240.0 535.4,228.2 535.7,215.2 535.9,219.4 536.2,226.6 536.5,232.9 536.7,222.4 537.0,216.2 537.2,213.6 537.5,212.8 537.7,216.0 538.0,197.7 538.2,213.0 538.5,242.1 538.8,213.7 539.0,197.5 539.3,204.5 539.5,194.9 539.8,213.7 540.0,201.7 540.3,204.6 540.5,195.5 540.8,199.8 541.0,204.4 541.3,191.3 541.6,189.2 541.8,192.1 542.1,190.5 542.3,194.7 542.6,193.6 542.8,188.6 543.1,185.1 543.3,199.1 543.6,221.6 543.9,223.9 544.1,238.8 544.4,218.8 544.6,231.2 544.9,224.3 545.1,235.4 545.4,240.4 545.6,235.2 545.9,223.0 546.2,233.3 546.4,237.7 546.7,224.9 546.9,217.4 547.2,232.2 547.4,224.6 547.7,194.9 547.9,188.6 548.2,214.1 548.5,215.5 548.7,224.0 549.0,227.0 549.2,236.7 549.5,212.0 549.7,225.1 550.0,214.5 550.2,211.0 550.5,201.2 550.7,202.2 551.0,204.3 551.3,198.6 551.5,209.6 551.8,236.4 552.0,221.9 552.3,222.5 552.5,230.4 552.8,225.3 553.0,239.2 553.3,242.6 553.6,224.7 553.8,236.7 554.1,230.2 554.3,221.9 554.6,236.7 554.8,213.1 555.1,227.9 555.3,237.0 555.6,236.2 555.9,237.9 556.1,223.0 556.4,229.5 556.6,227.9 556.9,228.7 557.1,230.3 557.4,238.8 557.6,235.4 557.9,235.2 558.2,219.0 558.4,228.0 558.7,217.6 558.9,208.7 559.2,219.4 559.4,221.0 559.7,225.9 559.9,206.1 560.2,209.3 560.4,200.2 560.7,205.3 561.0,196.2 561.2,196.2 561.5,218.8 561.7,209.7 562.0,212.1 562.2,210.3 562.5,200.7 562.7,209.1 563.0,218.5 563.3,200.0 563.5,208.3 563.8,228.0 564.0,212.3 564.3,210.1 564.5,218.0 564.8,212.0 565.0,212.7 565.3,227.8 565.6,224.7 565.8,226.2 566.1,217.3 566.3,236.1 566.6,207.9 566.8,198.4 567.1,208.0 567.3,201.1 567.6,238.6 567.9,218.2 568.1,225.7 568.4,224.4 568.6,239.3 568.9,217.8 569.1,224.1 569.4,222.3 569.6,204.5 569.9,193.8 570.1,207.9 570.4,219.7 570.7,224.8 570.9,216.8 571.2,208.6 571.4,217.4 571.7,229.4 571.9,239.9 572.2,239.1 572.4,225.2 572.7,224.0 573.0,199.6 573.2,203.2 573.5,200.3 573.7,198.5 574.0,203.3 574.2,210.7 574.5,221.9 574.7,207.1 575.0,191.8 575.3,189.1 575.5,204.3 575.8,193.6 576.0,208.5 576.3,217.7 576.5,207.9 576.8,224.6 577.0,239.6 577.3,241.8 577.6,212.3 577.8,198.3 578.1,209.4 578.3,217.5 578.6,205.9 578.8,202.8 579.1,220.9 579.3,202.6 579.6,207.9 579.8,209.7 580.1,221.5 580.4,223.4 580.6,221.0 580.9,206.0 581.1,232.6 581.4,224.7 581.6,217.3 581.9,223.7 582.1,204.5 582.4,198.2 582.7,199.6 582.9,200.2 583.2,207.1 583.4,200.6 583.7,210.5 583.9,204.4 584.2,197.1 584.4,215.3 584.7,207.9 585.0,205.9 585.2,210.8 585.5,217.5 585.7,199.8 586.0,221.0 586.2,224.0 586.5,221.4 586.7,210.7 587.0,227.7 587.3,235.1 587.5,225.7 587.8,216.8 588.0,212.2 588.3,237.6 588.5,219.4 588.8,213.2 589.0,206.2 589.3,199.9 589.5,198.3 589.8,174.9 590.1,162.5 590.3,151.4 590.6,174.0 590.8,162.8 591.1,165.2 591.3,175.2 591.6,187.0 591.8,192.8 592.1,184.1 592.4,201.8 592.6,215.1 592.9,214.2 593.1,219.6 593.4,217.2 593.6,201.5 593.9,207.7 594.1,196.4 594.4,165.9 594.7,176.8 594.9,205.4 595.2,196.1 595.4,192.3 595.7,216.0 595.9,235.6 596.2,212.6 596.4,227.2 596.7,219.4 597.0,236.3 597.2,234.6 597.5,232.2 597.7,223.2 598.0,227.7 598.2,227.1 598.5,236.3 598.7,238.0 599.0,221.5 599.2,223.6 599.5,223.8 599.8,213.6 600.0,204.8 600.3,207.0 600.5,220.4 600.8,225.8 601.0,236.8 601.3,237.9 601.5,237.7 601.8,235.3 602.1,219.3 602.3,207.2 602.6,206.4 602.8,231.4 603.1,216.3 603.3,209.5 603.6,227.8 603.8,216.4 604.1,212.9 604.4,217.5 604.6,217.7 604.9,218.7 605.1,207.1 605.4,207.0 605.6,199.8 605.9,205.1 606.1,188.6 606.4,208.6 606.7,193.2 606.9,209.8 607.2,208.2 607.4,189.5 607.7,207.6 607.9,195.2 608.2,203.0 608.4,188.8 608.7,196.4 608.9,188.2 609.2,199.6 609.5,190.8 609.7,198.4 610.0,208.4 610.2,203.8 610.5,201.6 610.7,196.0 611.0,213.8 611.2,209.8 611.5,227.3 611.8,218.8 612.0,227.9 612.3,205.9 612.5,212.9 612.8,213.8 613.0,214.6 613.3,188.8 613.5,195.1 613.8,221.2 614.1,186.2 614.3,188.5 614.6,193.1 614.8,193.6 615.1,182.0 615.3,182.8 615.6,212.7 615.8,204.6 616.1,201.6 616.3,212.0 616.6,227.7 616.9,221.6 617.1,220.3 617.4,210.6 617.6,201.1 617.9,204.0 618.1,212.2 618.4,220.4 618.6,235.4 618.9,239.4 619.2,237.9 619.4,228.8 619.7,236.8 619.9,240.4 620.2,224.1 620.4,219.2 620.7,239.5 620.9,232.7 621.2,238.4 621.5,234.8 621.7,236.9 622.0,230.5 622.2,223.5 622.5,231.1 622.7,223.8 623.0,226.8 623.2,212.8 623.5,235.2 623.8,238.2 624.0,239.4 624.3,238.2 624.5,238.2 624.8,235.9 625.0,212.5 625.3,209.6 625.5,189.9 625.8,182.4 626.0,165.9 626.3,170.7 626.6,176.7 626.8,188.9 627.1,185.5 627.3,206.1 627.6,203.0 627.8,204.1 628.1,197.2 628.3,205.8 628.6,203.1 628.9,192.4 629.1,200.4 629.4,219.1 629.6,203.8 629.9,200.2 630.1,192.4 630.4,197.2 630.6,207.5 630.9,189.1 631.2,180.4 631.4,170.1 631.7,172.2 631.9,173.0 632.2,162.8 632.4,165.3 632.7,145.2 632.9,150.6 633.2,172.8 633.5,181.4 633.7,181.4 634.0,180.4 634.2,180.5 634.5,184.1 634.7,204.6 635.0,206.4 635.2,214.5 635.5,220.7 635.7,207.4 636.0,233.0 636.3,241.6 636.5,235.2 636.8,231.5 637.0,241.8 637.3,242.5 637.5,230.5 637.8,226.1 638.0,217.4 638.3,204.3 638.6,201.4 638.8,207.6 639.1,207.0 639.3,198.5 639.6,207.3 639.8,230.1 640.1,217.5 640.3,241.9 640.6,229.9 640.9,230.9 641.1,216.9 641.4,216.0 641.6,225.7 641.9,215.3 642.1,241.7 642.4,238.2 642.6,240.7 642.9,206.5 643.2,204.2 643.4,197.4 643.7,219.5 643.9,202.4 644.2,190.5 644.4,182.2 644.7,193.9 644.9,191.9 645.2,209.2 645.4,212.3 645.7,217.4 646.0,222.0 646.2,205.9 646.5,211.8 646.7,215.2 647.0,210.0 647.2,206.1 647.5,216.1 647.7,212.1 648.0,199.7 648.3,213.6 648.5,220.8 648.8,207.2 649.0,221.2 649.3,214.6 649.5,213.4 649.8,209.3 650.0,200.4 650.3,212.6 650.6,223.9 650.8,212.1 651.1,213.7 651.3,229.5 651.6,233.0 651.8,238.6 652.1,239.9 652.3,218.5 652.6,220.0 652.9,226.8 653.1,237.2 653.4,233.8 653.6,234.9 653.9,239.5 654.1,231.4 654.4,224.2 654.6,226.8 654.9,205.3 655.1,208.7 655.4,202.2 655.7,198.6 655.9,205.3 656.2,195.1 656.4,198.8 656.7,189.9 656.9,204.9 657.2,213.3 657.4,225.0 657.7,227.5 658.0,221.5 658.2,211.0 658.5,201.8 658.7,209.8 659.0,207.1 659.2,204.6 659.5,215.8 659.7,226.0 660.0,222.2 660.3,222.5 660.5,205.5 660.8,187.0 661.0,183.1 661.3,193.8 661.5,185.0 661.8,181.3 662.0,195.9 662.3,201.5 662.6,188.3 662.8,192.3 663.1,184.8 663.3,199.9 663.6,189.1 663.8,186.3 664.1,197.5 664.3,213.8 664.6,211.1 664.8,198.2 665.1,181.5 665.4,196.3 665.6,204.7 665.9,192.2 666.1,194.9 666.4,183.8 666.6,195.2 666.9,212.9 667.1,217.5 667.4,232.8 667.7,230.5 667.9,241.2 668.2,222.4 668.4,230.7 668.7,237.3 668.9,243.6 669.2,244.5 669.4,244.6 669.7,244.6 670.0,244.2 670.2,244.3 670.5,244.2 670.7,244.3 671.0,244.3 671.2,244.2 671.5,244.8 671.7,244.8 672.0,244.9 672.3,244.9 672.5,244.7 672.8,244.1 673.0,244.0 673.3,244.2 673.5,244.1 673.8,244.0 674.0,244.3 674.3,244.3 674.5,244.3 674.8,244.3 675.1,244.7 675.3,244.5 675.6,244.7 675.8,244.7 676.1,244.4 676.3,244.8 676.6,244.8 676.8,244.6 677.1,244.5 677.4,244.6 677.6,244.1 677.9,244.1 678.1,244.3 678.4,244.6 678.6,244.9 678.9,244.8 679.1,244.5 679.4,244.6 679.7,244.5 679.9,244.3 680.2,244.4 680.4,244.4 680.7,244.7 680.9,244.7 681.2,244.7 681.4,244.9 681.7,244.4 682.0,244.4 682.2,244.6 682.5,244.4 682.7,244.5 683.0,244.3 683.2,244.4 683.5,244.0 683.7,244.2 684.0,244.4 684.2,244.6 684.5,244.7 684.8,244.6 685.0,244.6 685.3,244.7 685.5,244.6 685.8,244.5 686.0,244.9 686.3,244.8 686.5,244.7 686.8,244.5 687.1,244.8 687.3,244.3 687.6,244.5 687.8,244.4 688.1,244.5 688.3,244.5 688.6,244.6 688.8,244.4 689.1,244.5 689.4,244.6 689.6,244.9 689.9,244.8 690.1,244.8 690.4,244.7 690.6,244.7 690.9,244.6 691.1,244.5 691.4,244.5 691.7,244.5 691.9,244.4 692.2,244.6 692.4,244.5 692.7,244.7 692.9,244.5 693.2,244.4 693.4,244.6 693.7,244.7 693.9,244.7 694.2,244.1 694.5,244.2 694.7,244.1 695.0,244.1 695.2,244.3 695.5,244.3 695.7,244.6 696.0,244.6 696.0,240.0 696.2,244.5 696.5,244.6" fill="none" stroke="#d22a2a" stroke-width="0.6" stroke-opacity="0.8" stroke-linejoin="bevel"/>
<polyline points="441.5,243.9 441.6,244.2 441.8,244.0 441.9,243.9 442.1,243.6 442.2,243.9 442.4,244.0 442.5,244.1 442.6,244.1 442.8,244.4 442.9,244.3 443.1,243.9 443.2,244.3 443.3,243.7 443.5,243.8 443.6,243.8 443.8,243.8 443.9,244.0 444.1,244.1 444.2,244.2 444.3,244.4 444.5,244.5 444.6,244.6 444.8,244.5 444.9,244.5 445.0,244.3 445.2,244.4 445.3,244.1 445.5,244.1 445.6,244.0 445.8,243.9 445.9,244.3 446.0,244.6 446.2,244.1 446.3,244.6 446.5,244.4 446.6,244.6 446.7,244.6 446.9,244.3 447.0,244.3 447.2,244.6 447.3,244.4 447.5,244.3 447.6,244.4 447.7,244.6 447.9,244.4 448.0,244.5 448.2,244.4 448.3,244.4 448.4,244.5 448.6,244.2 448.7,244.4 448.9,244.4 449.0,244.5 449.2,244.3 449.3,244.6 449.4,244.1 449.6,244.2 449.7,244.3 449.9,243.8 450.0,243.9 450.1,243.8 450.3,243.9 450.4,244.0 450.6,244.0 450.7,244.2 450.9,244.0 451.0,244.4 451.1,244.3 451.3,244.5 451.4,244.3 451.6,244.3 451.7,244.1 451.8,242.9 452.0,243.0 452.1,238.8 452.3,239.4 452.4,234.5 452.6,236.6 452.7,235.4 452.8,229.8 453.0,233.8 453.1,237.1 453.3,234.3 453.4,229.7 453.5,230.3 453.7,232.1 453.8,231.9 454.0,230.9 454.1,234.3 454.3,236.8 454.4,233.9 454.5,234.2 454.7,239.0 454.8,239.0 455.0,237.3 455.1,234.5 455.2,235.6 455.4,238.6 455.5,238.3 455.7,236.5 455.8,240.6 456.0,240.1 456.1,239.9 456.2,236.9 456.4,239.3 456.5,235.0 456.7,233.8 456.8,232.6 457.0,234.2 457.1,235.0 457.2,236.1 457.4,237.9 457.5,238.2 457.7,238.3 457.8,234.4 457.9,234.4 458.1,233.8 458.2,230.1 458.4,233.8 458.5,237.3 458.7,234.0 458.8,236.2 458.9,236.1 459.1,231.5 459.2,233.8 459.4,227.5 459.5,223.2 459.6,224.7 459.8,220.4 459.9,220.9 460.1,234.0 460.2,230.4 460.4,222.7 460.5,231.9 460.6,232.5 460.8,233.8 460.9,230.0 461.1,228.9 461.2,230.7 461.3,227.2 461.5,226.3 461.6,214.5 461.8,213.0 461.9,217.6 462.1,214.0 462.2,210.5 462.3,219.5 462.5,220.0 462.6,219.8 462.8,219.0 462.9,213.7 463.0,199.2 463.2,196.9 463.3,202.3 463.5,201.7 463.6,206.1 463.8,202.3 463.9,208.0 464.0,208.6 464.2,205.3 464.3,215.5 464.5,212.4 464.6,215.3 464.7,210.5 464.9,215.7 465.0,210.7 465.2,209.4 465.3,209.2 465.5,204.0 465.6,202.0 465.7,210.7 465.9,206.0 466.0,197.8 466.2,203.3 466.3,200.1 466.4,200.9 466.6,202.9 466.7,201.6 466.9,194.1 467.0,192.4 467.2,199.4 467.3,198.7 467.4,202.1 467.6,212.1 467.7,207.0 467.9,204.0 468.0,198.8 468.1,197.2 468.3,199.5 468.4,202.4 468.6,208.4 468.7,210.3 468.9,214.4 469.0,206.5 469.1,208.4 469.3,209.6 469.4,210.7 469.6,203.3 469.7,193.3 469.8,201.5 470.0,205.3 470.1,202.0 470.3,217.2 470.4,211.8 470.6,205.7 470.7,203.6 470.8,207.9 471.0,201.5 471.1,208.9 471.3,208.5 471.4,207.3 471.6,204.7 471.7,210.1 471.8,210.7 472.0,214.9 472.1,216.3 472.3,220.8 472.4,224.7 472.5,226.8 472.7,233.2 472.8,233.7 473.0,234.5 473.1,234.0 473.3,232.2 473.4,232.8 473.5,230.0 473.7,228.5 473.8,231.7 474.0,229.1 474.1,230.5 474.2,229.1 474.4,231.7 474.5,228.1 474.7,231.1 474.8,231.4 475.0,233.3 475.1,229.4 475.2,227.6 475.4,225.0 475.5,232.4 475.7,233.5 475.8,234.8 475.9,227.3 476.1,225.4 476.2,223.7 476.4,223.6 476.5,220.1 476.7,221.3 476.8,212.1 476.9,209.8 477.1,208.3 477.2,209.9 477.4,208.6 477.5,213.0 477.6,218.3 477.8,213.4 477.9,208.6 478.1,207.6 478.2,212.0 478.4,213.3 478.5,214.0 478.6,211.7 478.8,209.7 478.9,212.0 479.1,218.1 479.2,221.7 479.3,213.3 479.5,220.7 479.6,226.4 479.8,219.1 479.9,229.3 480.1,231.0 480.2,234.7 480.3,236.2 480.5,235.4 480.6,241.7 480.8,240.3 480.9,239.6 481.0,236.1 481.2,231.1 481.3,235.0 481.5,231.2 481.6,223.5 481.8,221.9 481.9,217.4 482.0,215.7 482.2,204.5 482.3,219.7 482.5,218.4 482.6,212.6 482.7,211.0 482.9,214.4 483.0,198.1 483.2,202.8 483.3,196.5 483.5,173.6 483.6,179.0 483.7,183.9 483.9,178.2 484.0,169.0 484.2,169.8 484.3,181.8 484.4,171.3 484.6,158.2 484.7,170.5 484.9,172.3 485.0,159.9 485.2,165.2 485.3,176.8 485.4,166.3 485.6,168.2 485.7,173.9 485.9,159.5 486.0,167.3 486.1,164.8 486.3,164.6 486.4,151.8 486.6,160.2 486.7,151.7 486.9,151.3 487.0,164.0 487.1,151.4 487.3,153.7 487.4,162.5 487.6,167.0 487.7,171.4 487.9,154.9 488.0,153.7 488.1,154.8 488.3,157.3 488.4,161.5 488.6,166.3 488.7,161.3 488.8,158.7 489.0,159.8 489.1,150.9 489.3,165.1 489.4,153.7 489.6,162.3 489.7,169.7 489.8,188.4 490.0,173.2 490.1,176.1 490.3,173.8 490.4,178.5 490.5,193.5 490.7,214.1 490.8,180.4 491.0,183.4 491.1,183.3 491.3,184.1 491.4,173.4 491.5,169.2 491.7,179.5 491.8,164.3 492.0,160.4 492.1,180.2 492.2,195.6 492.4,189.5 492.5,164.3 492.7,165.9 492.8,175.6 493.0,191.1 493.1,180.2 493.2,161.1 493.4,156.4 493.5,179.2 493.7,198.7 493.8,206.7 493.9,210.3 494.1,205.0 494.2,209.8 494.4,202.9 494.5,201.4 494.7,192.5 494.8,198.3 494.9,182.5 495.1,196.1 495.2,198.6 495.4,196.8 495.5,223.0 495.6,213.4 495.8,223.9 495.9,215.7 496.1,188.1 496.2,192.0 496.4,191.6 496.5,222.8 496.6,206.0 496.8,210.0 496.9,214.0 497.1,199.8 497.2,202.4 497.3,196.2 497.5,198.3 497.6,182.5 497.8,205.4 497.9,195.4 498.1,179.9 498.2,185.2 498.3,178.7 498.5,178.6 498.6,183.2 498.8,180.5 498.9,175.5 499.0,182.8 499.2,188.2 499.3,162.9 499.5,162.9 499.6,152.9 499.8,186.3 499.9,152.3 500.0,160.9 500.2,161.2 500.3,168.1 500.5,164.9 500.6,176.9 500.7,190.2 500.9,190.9 501.0,185.1 501.2,177.6 501.3,163.7 501.5,180.0 501.6,210.7 501.7,192.8 501.9,188.8 502.0,183.9 502.2,173.5 502.3,193.8 502.5,206.8 502.6,198.2 502.7,160.8 502.9,169.9 503.0,189.2 503.2,172.1 503.3,154.0 503.4,169.6 503.6,179.0 503.7,166.6 503.9,187.1 504.0,196.4 504.2,217.1 504.3,219.8 504.4,210.6 504.6,220.6 504.7,201.1 504.9,221.0 505.0,200.4 505.1,167.8 505.3,156.1 505.4,170.6 505.6,170.5 505.7,172.8 505.9,160.7 506.0,153.6 506.1,162.3 506.3,165.0 506.4,181.6 506.6,181.6 506.7,185.4 506.8,168.6 507.0,154.4 507.1,184.3 507.3,175.0 507.4,176.7 507.6,204.3 507.7,191.8 507.8,194.6 508.0,211.0 508.1,209.2 508.3,206.6 508.4,209.9 508.5,209.4 508.7,204.1 508.8,190.6 509.0,200.0 509.1,222.1 509.3,215.2 509.4,216.7 509.5,209.9 509.7,213.2 509.8,220.3 510.0,204.4 510.1,221.4 510.2,208.6 510.4,202.6 510.5,212.3 510.7,223.3 510.8,212.0 511.0,200.5 511.1,192.5 511.2,206.7 511.4,211.3 511.5,211.7 511.7,200.8 511.8,219.4 511.9,200.9 512.1,198.6 512.2,207.9 512.4,222.7 512.5,212.8 512.7,218.9 512.8,224.3 512.9,222.6 513.1,218.7 513.2,203.9 513.4,212.5 513.5,213.2 513.6,203.4 513.8,210.7 513.9,212.5 514.1,209.6 514.2,218.5 514.4,206.0 514.5,212.9 514.6,223.2 514.8,213.5 514.9,217.0 515.1,208.4 515.2,195.1 515.3,195.4 515.5,194.9 515.6,214.2 515.8,221.8 515.9,221.0 516.1,216.5 516.2,222.8 516.3,227.6 516.5,226.2 516.6,222.3 516.8,227.8 516.9,217.7 517.1,223.0 517.2,206.4 517.3,197.9 517.5,175.8 517.6,209.7 517.8,205.8 517.9,194.1 518.0,218.2 518.2,207.4 518.3,193.4 518.5,195.7 518.6,196.1 518.8,182.9 518.9,204.8 519.0,199.9 519.2,196.8 519.3,191.4 519.5,210.6 519.6,199.3 519.7,190.5 519.9,182.0 520.0,197.4 520.2,182.6 520.3,197.5 520.5,183.5 520.6,181.7 520.7,196.8 520.9,200.7 521.0,204.8 521.2,197.3 521.3,199.1 521.4,209.9 521.6,209.9 521.7,211.8 521.9,224.1 522.0,224.1 522.2,227.6 522.3,218.3 522.4,211.7 522.6,221.6 522.7,229.3 522.9,228.8 523.0,225.8 523.1,222.3 523.3,228.4 523.4,230.1 523.6,232.4 523.7,210.7 523.9,232.3 524.0,224.2 524.1,224.0 524.3,227.7 524.4,219.5 524.6,222.7 524.7,219.0 524.8,220.4 525.0,215.2 525.1,201.2 525.3,194.1 525.4,186.3 525.6,198.4 525.7,202.1 525.8,196.4 526.0,206.7 526.1,200.2 526.3,209.4 526.4,195.5 526.5,183.2 526.7,191.7 526.8,204.4 527.0,215.6 527.1,213.6 527.3,207.7 527.4,203.6 527.5,205.7 527.7,187.5 527.8,188.3 528.0,191.9 528.1,193.9 528.2,184.4 528.4,182.5 528.5,190.6 528.7,193.4 528.8,190.9 529.0,185.2 529.1,187.1 529.2,184.4 529.4,193.0 529.5,201.2 529.7,183.8 529.8,201.3 529.9,209.7 530.1,212.6 530.2,217.2 530.4,209.7 530.5,193.8 530.7,195.5 530.8,207.5 530.9,189.7 531.1,208.4 531.2,207.9 531.4,201.3 531.5,188.4 531.7,185.5 531.8,204.9 531.9,202.7 532.1,211.7 532.2,197.1 532.4,207.8 532.5,213.0 532.6,222.0 532.8,234.1 532.9,227.4 533.1,235.6 533.2,235.8 533.4,238.3 533.5,238.6 533.6,218.1 533.8,225.4 533.9,227.4 534.1,233.1 534.2,221.0 534.3,231.8 534.5,237.9 534.6,239.6 534.8,228.2 534.9,230.1 535.1,231.4 535.2,234.9 535.3,221.3 535.5,220.8 535.6,226.6 535.8,234.0 535.9,227.1 536.0,231.6 536.2,239.7 536.3,233.3 536.5,226.4 536.6,221.6 536.8,224.6 536.9,228.0 537.0,206.7 537.2,209.9 537.3,197.8 537.5,203.4 537.6,193.0 537.7,193.1 537.9,198.7 538.0,224.4 538.2,231.9 538.3,215.4 538.5,203.0 538.6,215.1 538.7,213.2 538.9,214.3 539.0,210.2 539.2,217.9 539.3,203.3 539.4,212.7 539.6,206.2 539.7,204.7 539.9,210.7 540.0,221.4 540.2,228.1 540.3,219.7 540.4,223.4 540.6,230.7 540.7,236.1 540.9,223.0 541.0,231.6 541.1,203.2 541.3,218.4 541.4,227.2 541.6,221.9 541.7,210.4 541.9,222.3 542.0,188.2 542.1,190.0 542.3,206.5 542.4,167.4 542.6,175.9 542.7,174.2 542.8,176.0 543.0,163.1 543.1,183.0 543.3,159.7 543.4,167.0 543.6,177.9 543.7,180.7 543.8,157.7 544.0,164.0 544.1,164.7 544.3,164.4 544.4,195.5 544.5,185.0 544.7,197.2 544.8,207.2 545.0,231.5 545.1,204.5 545.3,227.3 545.4,210.7 545.5,187.6 545.7,229.7 545.8,226.9 546.0,223.6 546.1,193.1 546.2,233.7 546.4,212.9 546.5,211.1 546.7,211.7 546.8,193.3 547.0,170.6 547.1,176.6 547.2,172.9 547.4,174.2 547.5,163.3 547.7,172.0 547.8,169.7 548.0,151.6 548.1,139.4 548.2,174.5 548.4,144.8 548.5,126.7 548.7,126.2 548.8,148.5 548.9,118.8 549.1,107.6 549.2,108.3 549.4,125.4 549.5,91.4 549.7,79.4 549.8,97.8 549.9,118.0 550.1,107.3 550.2,107.8 550.4,124.7 550.5,130.3 550.6,125.7 550.8,125.2 550.9,159.5 551.1,161.9 551.2,169.0 551.4,140.2 551.5,140.7 551.6,186.2 551.8,216.2 551.9,200.0 552.1,181.5 552.2,183.5 552.3,192.8 552.5,171.3 552.6,151.8 552.8,173.2 552.9,162.9 553.1,139.0 553.2,143.2 553.3,155.2 553.5,122.5 553.6,112.2 553.8,110.3 553.9,131.3 554.0,123.0 554.2,125.7 554.3,133.3 554.5,126.8 554.6,127.8 554.8,145.3 554.9,146.5 555.0,146.9 555.2,158.6 555.3,145.6 555.5,159.1 555.6,163.0 555.7,175.7 555.9,184.3 556.0,185.4 556.2,160.8 556.3,197.9 556.5,196.5 556.6,194.8 556.7,206.9 556.9,202.2 557.0,209.6 557.2,229.6 557.3,209.4 557.4,214.0 557.6,209.6 557.7,202.9 557.9,205.3 558.0,216.0 558.2,205.0 558.3,209.9 558.4,208.1 558.6,219.9 558.7,213.8 558.9,203.3 559.0,193.6 559.1,199.6 559.3,206.6 559.4,204.6 559.6,234.4 559.7,227.9 559.9,209.9 560.0,228.9 560.1,217.0 560.3,229.5 560.4,216.0 560.6,222.6 560.7,230.4 560.8,227.6 561.0,230.7 561.1,232.9 561.3,210.5 561.4,203.5 561.6,213.1 561.7,205.2 561.8,205.1 562.0,216.8 562.1,215.3 562.3,213.1 562.4,204.0 562.6,209.2 562.7,215.5 562.8,213.9 563.0,224.3 563.1,237.1 563.3,240.2 563.4,236.0 563.5,232.5 563.7,235.2 563.8,241.8 564.0,241.4 564.1,220.5 564.3,218.8 564.4,202.9 564.5,205.2 564.7,201.6 564.8,190.6 565.0,211.3 565.1,189.9 565.2,193.5 565.4,207.0 565.5,191.0 565.7,198.6 565.8,192.6 566.0,194.8 566.1,194.1 566.2,203.7 566.4,190.5 566.5,189.9 566.7,203.1 566.8,212.4 566.9,201.8 567.1,212.9 567.2,217.7 567.4,225.0 567.5,219.0 567.7,209.0 567.8,223.9 567.9,241.9 568.1,235.8 568.2,233.4 568.4,238.5 568.5,230.8 568.6,226.2 568.8,234.3 568.9,220.1 569.1,241.3 569.2,240.0 569.4,242.6 569.5,235.9 569.6,225.0 569.8,222.6 569.9,228.8 570.1,210.5 570.2,211.7 570.3,213.5 570.5,213.7 570.6,226.4 570.8,220.0 570.9,203.0 571.1,218.7 571.2,216.7 571.3,228.4 571.5,235.0 571.6,240.6 571.8,241.8 571.9,242.8 572.0,242.0 572.2,220.2 572.3,236.1 572.5,219.9 572.6,236.3 572.8,231.4 572.9,232.6 573.0,222.6 573.2,222.6 573.3,222.9 573.5,226.8 573.6,232.0 573.7,224.6 573.9,222.5 574.0,229.1 574.2,238.8 574.3,222.9 574.5,221.9 574.6,222.5 574.7,209.8 574.9,204.7 575.0,201.0 575.2,209.7 575.3,204.4 575.4,202.9 575.6,206.3 575.7,201.4 575.9,204.6 576.0,197.8 576.2,186.9 576.3,188.5 576.4,207.8 576.6,196.9 576.7,200.6 576.9,202.3 577.0,196.6 577.2,196.6 577.3,196.1 577.4,197.1 577.6,198.1 577.7,191.6 577.9,187.5 578.0,188.7 578.1,189.9 578.3,197.4 578.4,202.4 578.6,200.5 578.7,203.4 578.9,193.0 579.0,197.7 579.1,190.7 579.3,203.2 579.4,199.7 579.6,200.1 579.7,217.1 579.8,209.3 580.0,211.5 580.1,214.9 580.3,216.8 580.4,218.9 580.6,221.1 580.7,211.5 580.8,205.1 581.0,204.7 581.1,208.5 581.3,210.5 581.4,222.4 581.5,215.3 581.7,224.8 581.8,216.2 582.0,203.7 582.1,221.4 582.3,225.0 582.4,215.4 582.5,211.1 582.7,209.4 582.8,212.9 583.0,210.1 583.1,213.0 583.2,206.7 583.4,204.2 583.5,215.6 583.7,203.3 583.8,197.5 584.0,207.4 584.1,203.7 584.2,210.4 584.4,230.2 584.5,233.5 584.7,234.1 584.8,240.4 584.9,234.5 585.1,238.5 585.2,226.9 585.4,224.2 585.5,235.3 585.7,237.6 585.8,238.3 585.9,229.5 586.1,235.4 586.2,241.8 586.4,242.5 586.5,236.4 586.6,235.9 586.8,242.9 586.9,234.4 587.1,240.9 587.2,222.0 587.4,219.9 587.5,219.0 587.6,221.6 587.8,231.5 587.9,238.0 588.1,242.3 588.2,238.0 588.3,234.5 588.5,232.9 588.6,240.9 588.8,242.3 588.9,239.1 589.1,237.5 589.2,231.7 589.3,242.4 589.5,241.0 589.6,241.5 589.8,235.7 589.9,238.5 590.0,241.4 590.2,238.5 590.3,234.6 590.5,242.1 590.6,226.4 590.8,215.1 590.9,214.9 591.0,222.5 591.2,224.0 591.3,218.5 591.5,228.6 591.6,220.3 591.8,229.4 591.9,234.8 592.0,239.5 592.2,241.9 592.3,234.4 592.5,226.5 592.6,226.0 592.7,218.7 592.9,215.6 593.0,207.4 593.2,208.3 593.3,196.5 593.5,211.4 593.6,201.9 593.7,203.7 593.9,203.8 594.0,197.1 594.2,200.8 594.3,202.7 594.4,206.4 594.6,204.9 594.7,209.7 594.9,204.7 595.0,211.9 595.2,201.2 595.3,205.2 595.4,205.1 595.6,229.8 595.7,227.5 595.9,218.9 596.0,214.0 596.1,216.3 596.3,209.0 596.4,198.7 596.6,208.9 596.7,215.9 596.9,221.7 597.0,215.8 597.1,218.6 597.3,215.6 597.4,216.8 597.6,220.9 597.7,204.3 597.8,202.6 598.0,199.5 598.1,202.7 598.3,197.5 598.4,201.1 598.6,209.4 598.7,207.5 598.8,202.0 599.0,205.1 599.1,198.4 599.3,206.3 599.4,214.8 599.5,204.6 599.7,212.8 599.8,215.1 600.0,224.6 600.1,222.7 600.3,223.1 600.4,224.7 600.5,221.5 600.7,207.1 600.8,212.9 601.0,218.1 601.1,216.7 601.2,216.7 601.4,218.7 601.5,222.6 601.7,227.2 601.8,230.0 602.0,220.6 602.1,213.3 602.2,219.0 602.4,224.4 602.5,227.7 602.7,223.3 602.8,226.6 602.9,214.8 603.1,220.8 603.2,212.5 603.4,221.3 603.5,218.0 603.7,214.2 603.8,214.2 603.9,226.2 604.1,238.7 604.2,226.3 604.4,232.3 604.5,223.0 604.6,230.4 604.8,230.3 604.9,229.8 605.1,230.2 605.2,225.8 605.4,205.0 605.5,204.2 605.6,215.9 605.8,218.3 605.9,229.7 606.1,230.7 606.2,225.9 606.3,220.7 606.5,216.0 606.6,214.7 606.8,217.2 606.9,211.5 607.1,224.2 607.2,213.9 607.3,223.4 607.5,224.9 607.6,221.7 607.8,225.2 607.9,223.2 608.1,231.5 608.2,223.0 608.3,226.1 608.5,229.3 608.6,221.7 608.8,230.2 608.9,236.2 609.0,234.1 609.2,229.2 609.3,229.3 609.5,237.8 609.6,241.0 609.8,231.5 609.9,229.0 610.0,213.4 610.2,217.1 610.3,221.5 610.5,227.7 610.6,220.2 610.7,215.2 610.9,207.5 611.0,214.6 611.2,205.3 611.3,214.3 611.5,204.3 611.6,201.1 611.7,213.5 611.9,213.4 612.0,225.5 612.2,222.6 612.3,214.5 612.4,199.1 612.6,213.4 612.7,209.1 612.9,208.5 613.0,207.7 613.2,208.0 613.3,221.3 613.4,225.6 613.6,231.2 613.7,239.3 613.9,238.3 614.0,241.4 614.1,239.4 614.3,239.4 614.4,240.4 614.6,239.3 614.7,235.1 614.9,236.5 615.0,238.1 615.1,225.6 615.3,225.1 615.4,217.6 615.6,215.3 615.7,209.7 615.8,200.3 616.0,198.5 616.1,205.3 616.3,180.9 616.4,176.6 616.6,179.5 616.7,186.3 616.8,164.2 617.0,156.6 617.1,177.8 617.3,185.7 617.4,176.5 617.5,182.2 617.7,202.0 617.8,203.7 618.0,196.5 618.1,207.3 618.3,220.8 618.4,220.1 618.5,218.4 618.7,220.5 618.8,211.8 619.0,228.8 619.1,215.1 619.2,217.9 619.4,208.0 619.5,209.6 619.7,212.5 619.8,226.1 620.0,237.4 620.1,234.6 620.2,238.8 620.4,233.0 620.5,232.4 620.7,234.3 620.8,225.3 620.9,227.3 621.1,217.0 621.2,216.9 621.4,220.0 621.5,227.0 621.7,232.0 621.8,226.4 621.9,210.7 622.1,218.8 622.2,214.9 622.4,217.8 622.5,203.0 622.7,208.2 622.8,209.6 622.9,200.8 623.1,202.3 623.2,202.1 623.4,214.8 623.5,202.5 623.6,213.3 623.8,202.4 623.9,205.0 624.1,213.2 624.2,219.2 624.4,213.0 624.5,220.7 624.6,217.2 624.8,220.4 624.9,207.6 625.1,221.4 625.2,224.6 625.3,215.0 625.5,217.6 625.6,206.7 625.8,215.2 625.9,213.5 626.1,208.8 626.2,204.9 626.3,211.1 626.5,207.9 626.6,207.9 626.8,214.7 626.9,212.6 627.0,219.3 627.2,207.7 627.3,207.0 627.5,214.4 627.6,207.2 627.8,215.7 627.9,209.6 628.0,215.5 628.2,222.7 628.3,228.7 628.5,235.4 628.6,223.6 628.7,223.0 628.9,225.2 629.0,210.4 629.2,215.9 629.3,209.4 629.5,216.7 629.6,209.4 629.7,207.4 629.9,217.6 630.0,204.4 630.2,204.2 630.3,204.4 630.4,203.2 630.6,211.8 630.7,218.5 630.9,228.6 631.0,201.4 631.2,210.4 631.3,228.0 631.4,232.1 631.6,217.2 631.7,218.6 631.9,219.2 632.0,235.1 632.1,228.3 632.3,225.4 632.4,224.7 632.6,217.4 632.7,229.5 632.9,223.6 633.0,234.0 633.1,218.3 633.3,212.8 633.4,222.9 633.6,228.3 633.7,209.2 633.8,213.1 634.0,218.0 634.1,225.1 634.3,220.8 634.4,223.2 634.6,223.8 634.7,222.4 634.8,220.1 635.0,231.1 635.1,232.0 635.3,225.4 635.4,233.8 635.5,234.3 635.7,241.3 635.8,235.2 636.0,234.9 636.1,237.8 636.3,231.6 636.4,239.8 636.5,237.8 636.7,238.9 636.8,230.3 637.0,225.8 637.1,223.7 637.3,239.3 637.4,228.7 637.5,215.5 637.7,213.4 637.8,212.0 638.0,225.6 638.1,228.0 638.2,234.1 638.4,240.4 638.5,236.3 638.7,228.1 638.8,224.6 639.0,216.2 639.1,216.1 639.2,219.2 639.4,215.8 639.5,222.4 639.7,232.7 639.8,218.9 639.9,228.0 640.1,236.3 640.2,240.8 640.4,233.3 640.5,233.1 640.7,235.6 640.8,239.8 640.9,239.3 641.1,239.5 641.2,238.0 641.4,215.7 641.5,236.2 641.6,234.8 641.8,235.7 641.9,232.5 642.1,225.2 642.2,232.7 642.4,223.6 642.5,222.3 642.6,212.9 642.8,219.3 642.9,222.3 643.1,217.2 643.2,222.8 643.3,227.6 643.5,221.1 643.6,229.6 643.8,220.2 643.9,232.1 644.1,237.3 644.2,236.1 644.3,230.9 644.5,228.8 644.6,242.1 644.8,236.1 644.9,241.6 645.0,240.9 645.2,241.2 645.3,242.4 645.5,236.2 645.6,238.7 645.8,230.7 645.9,219.4 646.0,218.0 646.2,209.7 646.3,207.4 646.5,206.2 646.6,209.9 646.7,214.1 646.9,220.2 647.0,210.6 647.2,217.3 647.3,216.9 647.5,215.8 647.6,222.1 647.7,223.0 647.9,219.8 648.0,215.0 648.2,207.8 648.3,204.1 648.4,211.6 648.6,209.6 648.7,206.2 648.9,207.2 649.0,218.5 649.2,216.1 649.3,218.4 649.4,219.3 649.6,211.2 649.7,209.4 649.9,214.2 650.0,207.2 650.1,207.1 650.3,206.4 650.4,206.7 650.6,212.9 650.7,207.1 650.9,216.2 651.0,210.0 651.1,208.9 651.3,210.3 651.4,206.9 651.6,204.6 651.7,226.0 651.9,230.7 652.0,223.1 652.1,215.0 652.3,215.8 652.4,227.3 652.6,214.8 652.7,213.5 652.8,211.8 653.0,214.0 653.1,213.5 653.3,220.3 653.4,209.4 653.6,209.1 653.7,207.0 653.8,205.4 654.0,206.8 654.1,204.8 654.3,217.2 654.4,214.0 654.5,217.0 654.7,220.0 654.8,219.4 655.0,214.4 655.1,223.6 655.3,220.1 655.4,215.9 655.5,215.9 655.7,207.2 655.8,208.1 656.0,207.5 656.1,206.8 656.2,209.8 656.4,213.1 656.5,220.5 656.7,219.3 656.8,221.2 657.0,230.9 657.1,238.5 657.2,236.9 657.4,242.2 657.5,237.2 657.7,233.7 657.8,231.2 657.9,230.1 658.1,229.4 658.2,229.5 658.4,235.4 658.5,237.5 658.7,242.9 658.8,242.5 658.9,238.8 659.1,241.2 659.2,238.5 659.4,224.2 659.5,220.4 659.6,226.7 659.8,230.6 659.9,230.8 660.1,227.1 660.2,224.8 660.4,224.4 660.5,206.9 660.6,211.8 660.8,205.4 660.9,217.8 661.1,220.8 661.2,222.6 661.3,224.0 661.5,214.1 661.6,237.7 661.8,224.7 661.9,225.8 662.1,208.8 662.2,208.2 662.3,206.1 662.5,209.3 662.6,206.6 662.8,210.6 662.9,213.5 663.0,209.4 663.2,209.6 663.3,208.4 663.5,205.8 663.6,212.4 663.8,211.6 663.9,221.5 664.0,212.2 664.2,225.6 664.3,228.6 664.5,235.9 664.6,221.9 664.7,226.9 664.9,221.9 665.0,231.0 665.2,230.0 665.3,230.0 665.5,231.3 665.6,218.7 665.7,218.4 665.9,225.0 666.0,222.5 666.2,211.6 666.3,217.0 666.4,214.5 666.6,210.1 666.7,222.7 666.9,229.0 667.0,228.4 667.2,220.9 667.3,222.5 667.4,229.3 667.6,217.4 667.7,214.2 667.9,222.5 668.0,220.2 668.2,224.9 668.3,224.3 668.4,225.1 668.6,223.2 668.7,229.0 668.9,223.7 669.0,242.1 669.1,229.4 669.3,231.3 669.4,231.1 669.6,232.8 669.7,227.8 669.9,220.6 670.0,223.3 670.1,221.3 670.3,227.6 670.4,230.9 670.6,231.2 670.7,232.6 670.8,231.8 671.0,228.8 671.1,230.7 671.3,232.3 671.4,231.1 671.6,230.8 671.7,235.8 671.8,240.2 672.0,236.1 672.1,236.0 672.3,243.8 672.4,241.2 672.5,239.8 672.7,243.0 672.8,240.2 673.0,241.6 673.1,239.7 673.3,239.9 673.4,242.0 673.5,240.7 673.7,240.6 673.8,242.3 674.0,244.2 674.1,243.8 674.2,242.9 674.4,244.5 674.5,241.9 674.7,242.9 674.8,241.3 675.0,239.0 675.1,239.2 675.2,240.3 675.4,240.9 675.5,241.4 675.7,242.1 675.8,242.3 675.9,241.4 676.1,238.9 676.2,238.6 676.4,238.6 676.5,237.8 676.7,238.2 676.8,238.8 676.9,236.3 677.1,237.9 677.2,237.7 677.4,234.4 677.5,235.7 677.6,236.9 677.8,239.0 677.9,239.0 678.1,237.8 678.2,238.0 678.4,241.1 678.5,237.7 678.6,237.9 678.8,239.3 678.9,238.0 679.1,238.5 679.2,240.6 679.3,242.0 679.5,240.6 679.6,240.7 679.8,241.6 679.9,242.9 680.1,238.6 680.2,240.3 680.3,237.9 680.5,239.8 680.6,237.4 680.8,240.2 680.9,237.4 681.0,243.6 681.2,241.3 681.3,241.9 681.5,242.7 681.6,240.2 681.8,240.0 681.9,239.9 682.0,238.5 682.2,239.9 682.3,237.5 682.5,238.7 682.6,238.5 682.8,239.8 682.9,236.8 683.0,238.1 683.2,239.7 683.3,236.0 683.5,239.8 683.6,238.4 683.7,237.9 683.9,239.8 684.0,241.5 684.2,239.0 684.3,240.0 684.5,239.6 684.6,239.4 684.7,240.6 684.9,239.7 685.0,240.1 685.2,236.5 685.3,239.0 685.4,240.5 685.6,239.6 685.7,239.1 685.9,239.8 686.0,237.1 686.2,238.4 686.3,235.9 686.4,236.8 686.6,238.4 686.7,238.4 686.9,238.4 687.0,238.6 687.1,237.5 687.3,238.2 687.4,238.4 687.6,238.9 687.7,238.3 687.9,237.1 688.0,236.4 688.1,236.3 688.3,236.3 688.4,238.8 688.6,237.0 688.7,236.0 688.8,238.1 689.0,241.8 689.1,242.5 689.3,242.4 689.4,241.4 689.6,240.2 689.7,239.8 689.8,240.7 690.0,239.8 690.1,241.2 690.3,240.3 690.4,238.0 690.5,240.1 690.7,241.0 690.8,242.2 691.0,241.9 691.1,244.4 691.3,241.6 691.4,241.7 691.5,240.7 691.7,239.0 691.8,241.2 692.0,241.3 692.1,240.7 692.2,240.6 692.4,239.5 692.5,238.1 692.7,236.7 692.8,238.1 693.0,240.8 693.1,241.7 693.2,242.6 693.4,240.5 693.5,241.6 693.7,243.2 693.8,242.3 693.9,242.8 694.1,244.1 694.2,242.1 694.4,241.2 694.5,240.5 694.7,241.4 694.8,240.4 694.9,240.8 695.1,241.8 695.2,240.9 695.4,240.7 695.5,240.1 695.6,240.8 695.8,241.0 695.9,239.6 696.1,243.9 696.2,242.0 696.4,240.7 696.5,238.7" fill="none" stroke="#2f4fd6" stroke-width="0.6" stroke-opacity="0.8" stroke-linejoin="bevel"/>
<polyline points="441.5,243.9 441.6,224.5 441.7,240.0 441.8,244.5 442.0,244.4 442.3,244.0 442.5,244.1 442.8,244.3 443.0,244.2 443.3,244.1 443.5,244.4 443.8,244.3 444.1,243.9 444.3,244.1 444.6,243.9 444.8,244.2 445.1,244.3 445.3,244.1 445.6,244.3 445.8,244.1 446.1,244.2 446.3,244.2 446.6,244.2 446.9,244.3 447.1,243.9 447.4,244.4 447.6,244.1 447.9,244.4 448.1,244.0 448.4,244.2 448.6,244.1 448.9,244.1 449.2,244.1 449.4,244.1 449.7,244.1 449.9,244.1 450.2,244.2 450.4,244.2 450.7,244.2 450.9,244.3 451.2,244.2 451.5,243.9 451.7,244.4 452.0,243.8 452.2,244.2 452.5,244.0 452.7,244.1 453.0,244.2 453.2,244.0 453.5,243.8 453.8,244.2 454.0,244.2 454.3,244.2 454.5,243.8 454.8,243.9 455.0,243.9 455.3,244.1 455.5,244.5 455.8,244.1 456.0,244.5 456.3,244.3 456.6,244.0 456.8,244.3 457.1,244.3 457.3,244.5 457.6,244.0 457.8,244.1 458.1,244.2 458.3,244.1 458.6,244.4 458.9,244.3 459.1,244.1 459.4,244.0 459.6,244.2 459.9,244.4 460.1,244.2 460.4,243.9 460.6,244.3 460.9,244.1 461.2,244.1 461.4,244.2 461.7,244.1 461.9,244.5 462.2,244.3 462.4,244.1 462.7,244.0 462.9,243.9 463.2,244.2 463.5,244.1 463.7,244.2 464.0,244.3 464.2,244.3 464.5,244.2 464.7,244.1 465.0,244.3 465.2,243.6 465.5,244.2 465.7,244.0 466.0,244.2 466.3,243.6 466.5,244.6 466.8,244.2 467.0,244.1 467.3,243.9 467.5,244.2 467.8,244.3 468.0,243.9 468.3,244.0 468.6,244.2 468.8,244.2 469.1,244.2 469.3,244.1 469.6,244.5 469.8,244.1 470.1,244.3 470.3,244.1 470.6,244.1 470.9,244.3 471.1,243.9 471.4,244.0 471.6,244.3 471.9,244.3 472.1,244.3 472.4,244.1 472.6,243.9 472.9,244.3 473.2,244.3 473.4,244.1 473.7,244.2 473.9,244.2 474.2,244.2 474.4,244.2 474.7,243.8 474.9,244.0 475.2,244.2 475.4,243.9 475.7,243.8 476.0,244.1 476.2,244.1 476.5,244.2 476.7,244.1 477.0,244.1 477.2,243.9 477.5,244.3 477.7,244.5 478.0,244.2 478.3,244.1 478.5,244.5 478.8,244.2 479.0,244.3 479.3,244.4 479.5,244.1 479.8,243.9 480.0,244.4 480.3,244.1 480.6,244.2 480.8,244.0 481.1,244.2 481.3,244.3 481.6,244.0 481.8,244.1 482.1,244.3 482.3,244.5 482.6,244.3 482.9,244.1 483.1,244.0 483.4,244.3 483.6,244.2 483.9,244.5 484.1,244.2 484.4,244.1 484.6,244.3 484.9,244.2 485.1,244.3 485.4,244.3 485.7,244.1 485.9,244.4 486.2,244.2 486.4,243.9 486.7,244.3 486.9,244.2 487.2,244.3 487.4,244.4 487.7,244.3 488.0,244.4 488.2,244.2 488.5,244.3 488.7,244.4 489.0,244.2 489.2,244.0 489.5,244.0 489.7,244.2 490.0,244.2 490.3,244.4 490.5,244.2 490.8,244.0 491.0,244.0 491.3,243.9 491.5,244.4 491.8,243.9 492.0,244.1 492.3,243.9 492.6,244.2 492.8,243.9 493.1,244.2 493.3,244.4 493.6,244.1 493.8,226.4 493.8,244.3 494.1,244.2 494.3,244.1 494.6,244.0 494.8,244.0 495.1,244.0 495.4,244.4 495.6,243.9 495.9,244.3 496.1,244.1 496.4,244.2 496.6,244.4 496.9,244.0 497.1,244.3 497.4,244.3 497.7,243.9 497.9,244.6 498.2,244.5 498.4,244.0 498.7,244.2 498.9,244.0 499.2,244.2 499.4,244.2 499.7,244.0 500.0,244.3 500.2,244.3 500.5,244.1 500.7,244.4 501.0,244.4 501.2,244.5 501.5,244.0 501.7,243.8 502.0,243.9 502.3,244.3 502.5,244.3 502.8,244.3 503.0,244.2 503.3,244.0 503.5,244.2 503.8,244.2 504.0,244.8 504.3,244.1 504.5,244.4 504.8,244.2 505.1,244.1 505.3,244.1 505.6,244.0 505.8,243.9 506.1,244.6 506.3,244.4 506.6,243.9 506.8,244.1 507.1,244.3 507.4,244.2 507.6,244.2 507.9,244.0 508.1,244.2 508.4,244.2 508.6,244.4 508.9,243.9 509.1,244.1 509.4,244.2 509.7,244.4 509.9,244.2 510.2,244.0 510.4,243.7 510.7,243.8 510.9,244.2 511.2,244.2 511.4,244.3 511.7,244.1 512.0,244.3 512.2,244.0 512.5,244.1 512.7,244.1 513.0,244.3 513.2,243.9 513.5,244.2 513.7,244.4 514.0,244.2 514.2,244.1 514.5,244.1 514.8,244.0 515.0,243.9 515.3,243.7 515.5,244.2 515.8,243.9 516.0,244.6 516.3,243.8 516.5,244.2 516.8,243.9 517.1,244.2 517.3,244.0 517.6,244.0 517.8,244.3 518.1,244.3 518.3,244.7 518.6,244.0 518.8,244.2 519.1,244.2 519.4,243.9 519.6,244.1 519.9,244.1 520.1,244.5 520.4,244.1 520.6,244.2 520.9,244.0 521.1,244.2 521.4,244.4 521.7,244.2 521.9,243.8 522.2,244.3 522.4,243.9 522.7,244.2 522.9,244.5 523.2,244.0 523.4,243.7 523.7,244.1 523.9,244.3 524.2,244.2 524.5,244.3 524.7,243.6 525.0,244.0 525.2,244.6 525.5,244.0 525.7,244.1 526.0,244.3 526.2,244.3 526.5,244.2 526.8,243.8 527.0,244.2 527.3,244.3 527.5,244.0 527.8,244.3 528.0,244.3 528.3,244.2 528.5,244.0 528.8,244.1 529.1,244.2 529.3,243.9 529.6,243.9 529.8,244.4 530.1,244.4 530.3,244.3 530.6,244.2 530.8,244.1 531.1,244.2 531.3,244.1 531.6,244.1 531.9,244.4 532.1,244.6 532.4,244.1 532.6,243.9 532.9,244.1 533.1,244.2 533.4,244.0 533.6,244.2 533.9,244.4 534.2,244.2 534.4,244.0 534.7,244.1 534.9,244.0 535.2,244.2 535.4,244.0 535.7,243.9 535.9,244.2 536.2,244.2 536.5,243.9 536.7,244.1 537.0,244.4 537.2,244.2 537.5,243.9 537.7,244.1 538.0,243.8 538.2,244.0 538.5,244.1 538.8,243.9 539.0,244.3 539.3,243.9 539.5,244.2 539.8,244.2 540.0,244.1 540.3,244.2 540.5,244.4 540.8,244.3 541.0,244.0 541.3,244.1 541.6,244.1 541.8,244.0 542.1,244.3 542.3,244.2 542.6,243.8 542.8,244.3 543.1,243.9 543.3,244.2 543.6,244.0 543.9,244.1 544.1,244.2 544.4,244.1 544.6,244.0 544.9,244.3 545.1,244.3 545.4,244.0 545.6,244.2 545.9,244.2 546.2,244.2 546.4,244.2 546.7,244.5 546.9,244.2 547.2,244.2 547.4,244.4 547.7,244.2 547.9,244.1 548.2,243.8 548.5,244.2 548.7,243.9 549.0,244.2 549.2,244.1 549.5,244.2 549.7,244.0 550.0,244.1 550.2,244.2 550.5,244.4 550.7,244.0 551.0,244.4 551.3,244.3 551.5,243.8 551.8,244.1 552.0,244.1 552.3,244.1 552.5,244.1 552.8,244.2 553.0,244.1 553.3,244.2 553.6,244.2 553.8,244.1 554.1,244.0 554.3,244.1 554.6,244.0 554.8,243.8 555.1,243.8 555.3,244.1 555.6,244.3 555.9,243.9 556.1,244.1 556.4,244.0 556.6,244.2 556.9,244.0 557.1,244.3 557.4,244.1 557.6,244.4 557.9,243.8 558.2,244.2 558.4,244.5 558.7,243.9 558.9,244.0 559.2,243.9 559.4,244.3 559.7,244.1 559.9,243.9 560.2,244.2 560.4,244.1 560.7,244.2 561.0,244.2 561.2,243.9 561.5,244.3 561.7,244.1 562.0,244.0 562.2,244.1 562.5,244.0 562.7,244.5 563.0,243.9 563.3,244.4 563.5,244.2 563.8,244.2 564.0,244.0 564.3,244.2 564.5,244.2 564.8,244.0 565.0,243.8 565.3,244.2 565.6,244.3 565.8,244.2 566.1,244.4 566.3,244.4 566.6,244.2 566.8,244.0 567.1,244.2 567.3,244.3 567.6,244.2 567.9,244.3 568.1,243.6 568.4,243.9 568.6,244.1 568.9,244.4 569.1,244.2 569.4,244.3 569.6,244.3 569.9,244.5 570.1,244.2 570.4,244.2 570.7,244.3 570.9,244.4 571.2,244.1 571.4,244.3 571.7,244.6 571.9,244.3 572.2,244.0 572.4,243.9 572.7,244.3 573.0,244.2 573.2,244.0 573.5,244.0 573.7,244.2 574.0,244.1 574.2,244.2 574.5,244.5 574.7,244.0 575.0,244.2 575.3,244.1 575.5,244.2 575.8,244.3 576.0,244.2 576.3,244.1 576.5,244.4 576.8,243.9 577.0,243.7 577.3,244.6 577.6,244.0 577.8,244.2 578.1,244.0 578.3,244.1 578.6,244.2 578.8,244.0 579.1,244.1 579.3,243.9 579.6,244.1 579.8,244.4 580.1,244.2 580.4,244.1 580.6,244.2 580.9,244.4 581.1,243.8 581.4,244.2 581.6,244.1 581.9,244.4 582.1,244.0 582.4,244.2 582.7,243.9 582.9,243.8 583.2,244.3 583.4,244.3 583.7,243.9 583.9,243.9 584.2,244.1 584.4,244.0 584.7,244.2 585.0,244.1 585.2,244.1 585.5,244.5 585.7,244.0 586.0,244.0 586.2,244.3 586.5,244.2 586.7,244.1 587.0,244.0 587.3,244.1 587.5,244.2 587.8,244.1 588.0,244.1 588.3,244.3 588.5,244.2 588.8,244.2 589.0,244.0 589.3,244.4 589.5,244.3 589.8,244.2 590.1,244.1 590.3,243.7 590.6,244.2 590.8,243.9 591.1,244.0 591.3,243.9 591.6,243.8 591.8,244.0 592.1,244.3 592.4,244.2 592.6,243.9 592.9,243.7 593.1,243.9 593.4,243.7 593.6,244.0 593.9,244.3 594.1,244.1 594.4,244.1 594.7,244.0 594.9,244.0 595.2,244.3 595.4,243.9 595.7,244.2 595.9,244.1 596.2,244.0 596.4,244.0 596.7,244.0 597.0,244.2 597.2,244.2 597.5,244.0 597.7,244.2 598.0,244.4 598.2,244.6 598.5,244.1 598.7,244.3 599.0,244.1 599.2,244.3 599.5,244.2 599.8,244.2 600.0,244.0 600.3,244.3 600.5,244.4 600.8,244.1 601.0,244.0 601.3,244.3 601.5,244.0 601.8,244.1 602.1,244.0 602.3,244.5 602.6,244.1 602.8,244.2 603.1,244.1 603.3,244.3 603.6,244.2 603.8,244.5 604.1,244.1 604.4,243.9 604.6,244.1 604.9,244.1 605.1,244.1 605.4,243.9 605.6,244.3 605.9,244.4 606.1,244.3 606.4,244.3 606.7,244.1 606.9,244.0 607.2,244.3 607.4,244.3 607.7,244.0 607.9,243.9 608.2,244.3 608.4,244.0 608.7,244.2 608.9,244.2 609.2,244.2 609.5,244.3 609.7,244.5 610.0,244.4 610.2,244.3 610.5,244.1 610.7,244.1 611.0,244.0 611.2,244.3 611.5,244.1 611.8,244.4 612.0,244.3 612.3,244.0 612.5,244.2 612.8,243.8 613.0,244.0 613.3,244.2 613.5,244.3 613.8,244.5 614.1,243.9 614.3,244.0 614.6,243.5 614.8,243.8 615.1,244.1 615.3,244.3 615.6,244.5 615.8,244.2 616.1,244.2 616.3,244.4 616.6,244.0 616.9,244.0 617.1,244.3 617.4,244.2 617.6,244.4 617.9,244.0 618.1,244.3 618.4,244.4 618.6,244.5 618.9,244.3 619.2,244.5 619.4,243.9 619.7,244.0 619.9,244.4 620.2,244.3 620.4,244.2 620.7,244.1 620.9,244.3 621.2,243.9 621.5,244.0 621.7,243.8 622.0,244.7 622.2,244.4 622.5,244.0 622.7,244.1 623.0,244.2 623.2,244.4 623.5,244.1 623.8,244.2 624.0,243.9 624.3,243.9 624.5,244.0 624.8,244.5 625.0,244.1 625.3,243.8 625.5,243.8 625.8,243.9 626.0,243.9 626.3,244.3 626.6,243.9 626.8,243.8 627.1,244.1 627.3,244.0 627.6,244.2 627.8,244.1 628.1,244.2 628.3,244.1 628.6,244.2 628.9,244.4 629.1,244.3 629.4,244.1 629.6,244.1 629.9,243.9 630.1,244.0 630.4,243.9 630.6,244.2 630.9,243.9 631.2,244.3 631.4,244.3 631.7,244.0 631.9,244.1 632.2,244.3 632.4,244.0 632.7,243.9 632.9,244.0 633.2,243.9 633.5,244.0 633.7,244.0 634.0,244.3 634.2,244.5 634.5,244.2 634.7,244.7 635.0,244.2 635.2,244.4 635.5,244.1 635.7,244.3 636.0,244.1 636.3,244.3 636.5,244.2 636.8,243.9 637.0,244.3 637.3,244.5 637.5,243.9 637.8,244.0 638.0,244.2 638.3,244.2 638.6,244.1 638.8,244.2 639.1,244.0 639.3,244.2 639.6,244.3 639.8,244.0 640.1,244.3 640.3,244.0 640.6,244.4 640.9,244.2 641.1,244.1 641.4,244.3 641.6,244.0 641.9,244.2 642.1,244.1 642.4,244.5 642.6,244.0 642.9,244.1 643.2,244.5 643.4,244.1 643.7,244.1 643.9,244.3 644.2,244.3 644.4,244.4 644.7,244.1 644.9,244.1 645.2,244.2 645.4,243.8 645.7,244.2 646.0,244.1 646.2,244.4 646.5,244.1 646.7,244.0 647.0,244.3 647.2,243.8 647.5,244.3 647.7,244.1 648.0,244.2 648.3,244.2 648.5,244.7 648.8,244.0 649.0,244.6 649.3,243.9 649.5,244.4 649.8,244.2 650.0,243.7 650.3,244.3 650.6,244.2 650.8,244.4 651.1,244.2 651.3,244.1 651.6,243.9 651.8,244.6 652.1,244.2 652.3,244.0 652.6,244.0 652.9,244.3 653.1,244.1 653.4,243.8 653.6,244.1 653.9,243.8 654.1,244.4 654.4,244.3 654.6,244.1 654.9,244.3 655.1,244.0 655.4,244.4 655.7,244.1 655.9,244.4 656.2,244.3 656.4,244.1 656.7,244.0 656.9,244.3 657.2,244.4 657.4,244.0 657.7,244.3 658.0,244.1 658.2,243.9 658.5,244.0 658.7,244.4 659.0,243.9 659.2,243.9 659.5,244.3 659.7,244.2 660.0,243.9 660.3,244.1 660.5,244.1 660.8,243.9 661.0,244.0 661.3,243.6 661.5,243.9 661.8,244.1 662.0,244.1 662.3,244.2 662.6,243.9 662.8,244.4 663.1,244.0 663.3,244.3 663.6,244.5 663.8,244.0 664.1,244.1 664.3,244.1 664.6,244.2 664.8,244.1 665.1,244.3 665.4,243.9 665.6,243.9 665.9,244.1 666.1,244.1 666.4,244.1 666.6,244.0 666.9,244.1 667.1,244.2 667.4,244.2 667.7,244.1 667.9,244.2 668.2,244.2 668.4,243.9 668.7,244.1 668.9,244.0 669.2,244.3 669.4,244.0 669.7,244.1 670.0,244.2 670.2,244.3 670.5,244.3 670.7,244.2 671.0,244.1 671.2,244.2 671.5,243.8 671.7,244.0 672.0,244.1 672.3,244.2 672.5,244.3 672.8,244.3 673.0,244.1 673.3,244.4 673.5,243.8 673.8,243.8 674.0,244.4 674.3,243.9 674.5,243.9 674.8,243.9 675.1,244.0 675.3,243.8 675.6,244.3 675.8,244.2 676.1,244.0 676.3,244.1 676.6,244.4 676.8,244.0 677.1,243.9 677.4,244.2 677.6,244.1 677.9,244.0 678.1,244.5 678.4,244.2 678.6,244.3 678.9,244.2 679.1,244.4 679.4,244.4 679.7,244.1 679.9,243.8 680.2,244.4 680.4,243.8 680.7,244.0 680.9,243.9 681.2,243.9 681.4,244.2 681.7,243.9 682.0,244.4 682.2,244.3 682.5,244.1 682.7,244.0 683.0,244.4 683.2,244.5 683.5,244.1 683.7,244.1 684.0,244.0 684.2,244.1 684.5,244.4 684.8,243.9 685.0,244.0 685.3,244.1 685.5,243.7 685.8,244.1 686.0,243.9 686.3,244.2 686.5,244.7 686.8,244.4 687.1,244.6 687.3,244.2 687.6,243.9 687.8,244.5 688.1,244.0 688.3,244.2 688.6,244.0 688.8,244.1 689.1,244.3 689.4,244.0 689.6,244.1 689.9,244.0 690.1,243.8 690.4,244.2 690.6,243.8 690.9,244.2 691.1,244.0 691.4,244.1 691.7,244.3 691.9,244.1 692.2,244.2 692.4,244.0 692.7,244.3 692.9,244.3 693.2,244.0 693.4,244.0 693.7,244.0 693.9,244.0 694.2,243.9 694.5,244.0 694.7,244.0 695.0,244.3 695.2,244.0 695.5,244.3 695.7,244.4 696.0,244.2 696.2,244.0 696.5,244.1" fill="none" stroke="#2e9a3a" stroke-width="0.8" stroke-opacity="1.0" stroke-linejoin="bevel"/>
<polyline points="441.5,175.0 441.6,129.2 441.7,160.0 441.8,132.5 441.9,149.6 442.0,137.9 442.1,150.9 442.2,125.8 442.3,116.5 442.4,116.9 442.5,143.8 442.6,133.5 442.7,155.5 442.8,167.8 442.9,130.2 443.0,144.2 443.1,109.7 443.2,110.4 443.3,121.7 443.4,102.6 443.5,108.3 443.6,95.9 443.7,124.0 443.8,120.0 443.9,95.3 444.0,100.2 444.1,96.6 444.1,113.9 444.2,127.1 444.3,141.9 444.4,119.7 444.5,144.2 444.6,164.9 444.7,128.9 444.8,151.4 444.9,152.6 445.0,138.4 445.1,142.7 445.2,146.1 445.3,139.5 445.4,143.9 445.5,111.2 445.6,143.9 445.7,142.5 445.8,118.3 445.9,138.4 446.0,105.4 446.1,123.2 446.2,167.8 446.3,154.0 446.4,160.9 446.5,165.3 446.6,142.0 446.7,161.9 446.8,160.7 446.9,157.7 447.0,166.9 447.1,150.7 447.2,147.6 447.3,141.9 447.4,130.9 447.5,119.7 447.6,127.5 447.7,123.2 447.8,111.7 447.9,113.5 448.0,138.8 448.1,139.8 448.2,131.6 448.3,133.3 448.4,138.0 448.5,120.0 448.6,107.8 448.7,136.6 448.8,116.5 448.9,104.8 449.0,128.5 449.1,120.0 449.2,106.3 449.3,149.7 449.3,139.2 449.4,115.2 449.5,120.9 449.6,128.0 449.7,125.8 449.8,133.5 449.9,130.2 450.0,132.8 450.1,144.1 450.2,162.5 450.3,170.9 450.4,143.2 450.5,149.2 450.6,148.0 450.7,148.8 450.8,150.6 450.9,119.9 451.0,130.1 451.1,133.6 451.2,121.4 451.3,108.5 451.4,113.4 451.5,109.6 451.6,96.9 451.7,109.5 451.8,134.7 451.9,148.9 452.0,123.0 452.1,133.3 452.2,117.0 452.3,141.3 452.4,143.1 452.5,143.5 452.6,140.8 452.7,119.8 452.8,141.5 452.9,133.8 453.0,142.5 453.1,137.8 453.2,112.0 453.3,113.2 453.4,111.5 453.5,115.4 453.6,105.6 453.7,150.6 453.8,105.3 453.9,114.9 454.0,101.8 454.1,151.2 454.2,119.0 454.3,120.2 454.4,151.5 454.5,113.4 454.5,116.9 454.6,109.1 454.7,111.0 454.8,98.7 454.9,98.9 455.0,103.9 455.1,162.2 455.2,141.8 455.3,132.7 455.4,130.9 455.5,170.4 455.6,115.4 455.7,134.8 455.8,132.9 455.9,150.7 456.0,131.7 456.1,148.0 456.2,153.3 456.3,163.7 456.4,166.6 456.5,130.8 456.6,122.9 456.7,136.7 456.8,151.1 456.9,127.1 457.0,147.6 457.1,143.3 457.2,153.0 457.3,149.6 457.4,137.7 457.5,129.2 457.6,140.1 457.7,135.7 457.8,100.8 457.9,109.4 458.0,113.1 458.1,109.5 458.2,144.7 458.3,153.9 458.4,155.6 458.5,150.0 458.6,135.4 458.7,152.0 458.8,168.6 458.9,168.6 459.0,169.7 459.1,171.6 459.2,169.1 459.3,158.1 459.4,156.8 459.5,156.6 459.6,154.7 459.7,146.4 459.7,162.6 459.8,171.8 459.9,147.2 460.0,171.6 460.1,165.7 460.2,170.7 460.3,155.8 460.4,163.3 460.5,153.5 460.6,132.4 460.7,151.7 460.8,137.8 460.9,151.5 461.0,163.9 461.1,138.1 461.2,140.4 461.3,104.9 461.4,118.3 461.5,99.3 461.6,100.7 461.7,99.3 461.8,98.0 461.9,97.3 462.0,110.9 462.1,100.0 462.2,119.7 462.3,111.8 462.4,100.2 462.5,99.1 462.6,121.2 462.7,139.9 462.8,140.0 462.9,167.7 463.0,158.9 463.1,168.0 463.2,148.9 463.3,151.3 463.4,165.4 463.5,158.1 463.6,167.6 463.7,136.9 463.8,160.4 463.9,148.5 464.0,166.8 464.1,166.0 464.2,160.0 464.3,163.6 464.4,148.5 464.5,161.7 464.6,157.8 464.7,145.3 464.8,126.7 464.9,138.2 464.9,153.0 465.0,157.1 465.1,162.0 465.2,130.2 465.3,108.9 465.4,127.5 465.5,141.9 465.6,163.4 465.7,171.4 465.8,148.0 465.9,155.2 466.0,128.7 466.1,144.7 466.2,143.1 466.3,123.8 466.4,145.0 466.5,117.4 466.6,117.9 466.7,114.4 466.8,123.5 466.9,123.3 467.0,119.1 467.1,107.4 467.2,144.4 467.3,128.5 467.4,128.1 467.5,135.8 467.6,139.5 467.7,153.8 467.8,165.5 467.9,146.9 468.0,162.1 468.1,155.5 468.2,169.8 468.3,168.9 468.4,153.6 468.5,145.0 468.6,170.6 468.7,128.3 468.8,167.9 468.9,163.1 469.0,149.0 469.1,168.5 469.2,142.0 469.3,148.1 469.4,158.1 469.5,156.8 469.6,160.5 469.7,108.1 469.8,138.1 469.9,119.8 470.0,129.8 470.1,130.2 470.1,128.6 470.2,128.4 470.3,120.3 470.4,127.0 470.5,141.5 470.6,143.3 470.7,162.9 470.8,146.3 470.9,160.8 471.0,143.5 471.1,118.5 471.2,128.6 471.3,153.8 471.4,157.8 471.5,146.6 471.6,152.6 471.7,154.8 471.8,169.9 471.9,162.0 472.0,149.4 472.1,170.4 472.2,169.2 472.3,159.3 472.4,137.5 472.5,153.3 472.6,121.7 472.7,124.3 472.8,120.1 472.9,131.6 473.0,105.5 473.1,108.9 473.2,116.0 473.3,109.8 473.4,125.8 473.5,106.1 473.6,102.8 473.7,108.3 473.8,116.5 473.9,128.9 474.0,121.0 474.1,120.6 474.2,116.5 474.3,124.7 474.4,130.4 474.5,126.1 474.6,164.5 474.7,120.6 474.8,129.6 474.9,106.4 475.0,106.0 475.1,112.9 475.2,106.5 475.3,99.1 475.3,106.5 475.4,108.6 475.5,115.5 475.6,93.6 475.7,98.0 475.8,98.5 475.9,100.4 476.0,117.4 476.1,110.0 476.2,130.2 476.3,151.2 476.4,139.0 476.5,126.7 476.6,124.1 476.7,135.1 476.8,121.9 476.9,129.3 477.0,137.9 477.1,143.4 477.2,155.2 477.3,153.5 477.4,156.3 477.5,152.6 477.6,148.5 477.7,147.8 477.8,158.1 477.9,151.5 478.0,157.3 478.1,140.2 478.2,145.4 478.3,142.4 478.4,152.2 478.5,135.7 478.6,162.9 478.7,159.2 478.8,157.9 478.9,142.6 479.0,144.5 479.1,140.5 479.2,139.6 479.3,139.9 479.4,136.6 479.5,142.9 479.6,144.4 479.7,154.6 479.8,161.2 479.9,165.8 480.0,167.4 480.1,158.9 480.2,143.2 480.3,144.5 480.4,147.7 480.5,152.4 480.5,140.2 480.6,135.9 480.7,149.8 480.8,156.6 480.9,162.5 481.0,163.3 481.1,163.9 481.2,173.9 481.3,158.2 481.4,163.8 481.5,170.2 481.6,170.1 481.7,174.2 481.8,170.8 481.9,159.9 482.0,164.4 482.1,149.3 482.2,146.8 482.3,156.7 482.4,136.2 482.5,147.9 482.6,161.4 482.7,160.4 482.8,153.0 482.9,137.5 483.0,122.1 483.1,109.2 483.2,95.1 483.3,86.0 483.4,70.0 483.5,92.7 483.6,71.9 483.7,51.6 483.8,59.7 483.9,69.8 484.0,98.0 484.1,81.7 484.2,87.9 484.3,94.0 484.4,117.9 484.5,124.9 484.6,109.4 484.7,104.0 484.8,126.0 484.9,149.0 485.0,144.8 485.1,142.3 485.2,131.8 485.3,134.0 485.4,140.7 485.5,137.6 485.6,111.3 485.7,127.9 485.7,94.5 485.8,81.3 485.9,89.0 486.0,88.9 486.1,118.8 486.2,126.6 486.3,126.0 486.4,130.9 486.5,121.1 486.6,113.1 486.7,140.5 486.8,146.2 486.9,128.3 487.0,107.6 487.1,97.4 487.2,63.0 487.3,63.2 487.4,64.1 487.5,75.9 487.6,88.0 487.7,57.3 487.8,92.5 487.9,85.9 488.0,61.7 488.1,79.5 488.2,83.0 488.3,109.9 488.4,135.0 488.5,117.1 488.6,120.8 488.7,130.9 488.8,92.3 488.9,124.1 489.0,87.5 489.1,89.0 489.2,94.8 489.3,120.3 489.4,119.2 489.5,97.0 489.6,93.9 489.7,99.4 489.8,102.2 489.9,112.8 490.0,106.6 490.1,121.0 490.2,105.2 490.3,97.7 490.4,143.4 490.5,140.4 490.6,122.9 490.7,113.5 490.8,117.2 490.9,118.8 490.9,127.6 491.0,138.3 491.1,128.5 491.2,147.5 491.3,141.6 491.4,146.4 491.5,129.9 491.6,124.0 491.7,147.4 491.8,130.5 491.9,99.8 492.0,146.9 492.1,118.9 492.2,96.5 492.3,121.8 492.4,90.4 492.5,83.6 492.6,120.5 492.7,113.8 492.8,99.2 492.9,92.6 493.0,84.1 493.1,100.4 493.2,89.8 493.3,89.5 493.4,76.6 493.5,113.4 493.6,101.4 493.7,86.7 493.8,115.9 493.9,78.5 494.0,101.6 494.1,105.4 494.2,106.4 494.3,96.4 494.4,110.2 494.5,94.4 494.6,110.2 494.7,134.4 494.8,117.7 494.9,99.9 495.0,96.1 495.1,102.3 495.2,107.7 495.3,110.4 495.4,108.0 495.5,66.2 495.6,78.2 495.7,80.9 495.8,75.1 495.9,63.2 496.0,66.0 496.1,101.8 496.1,91.3 496.2,99.7 496.3,75.9 496.4,106.9 496.5,89.1 496.6,108.4 496.7,100.2 496.8,76.7 496.9,88.0 497.0,80.3 497.1,89.2 497.2,109.7 497.3,89.7 497.4,100.0 497.5,73.3 497.6,85.1 497.7,93.4 497.8,131.1 497.9,96.1 498.0,79.9 498.1,109.8 498.2,96.6 498.3,79.9 498.4,78.6 498.5,91.7 498.6,79.6 498.7,66.9 498.8,67.0 498.9,66.9 499.0,78.6 499.1,75.1 499.2,75.7 499.3,73.4 499.4,98.9 499.5,101.4 499.6,117.8 499.7,83.8 499.8,112.7 499.9,81.6 500.0,87.6 500.1,90.2 500.2,110.8 500.3,109.7 500.4,110.5 500.5,114.5 500.6,150.3 500.7,104.9 500.8,146.3 500.9,141.7 501.0,149.4 501.1,132.6 501.2,140.9 501.3,143.5 501.3,146.2 501.4,138.0 501.5,121.3 501.6,139.5 501.7,148.9 501.8,136.1 501.9,111.9 502.0,105.5 502.1,112.8 502.2,115.1 502.3,85.4 502.4,117.0 502.5,82.6 502.6,71.3 502.7,83.2 502.8,83.3 502.9,79.4 503.0,101.3 503.1,99.6 503.2,111.5 503.3,115.3 503.4,102.0 503.5,139.6 503.6,102.0 503.7,131.8 503.8,143.3 503.9,129.0 504.0,149.5 504.1,141.6 504.2,109.0 504.3,107.0 504.4,101.0 504.5,93.2 504.6,79.9 504.7,95.1 504.8,116.7 504.9,110.9 505.0,127.1 505.1,127.3 505.2,127.8 505.3,144.4 505.4,138.6 505.5,128.5 505.6,136.7 505.7,147.6 505.8,134.7 505.9,132.2 506.0,122.6 506.1,109.5 506.2,94.4 506.3,95.2 506.4,90.5 506.5,92.8 506.6,84.6 506.6,103.7 506.7,103.4 506.8,132.8 506.9,114.7 507.0,76.4 507.1,82.6 507.2,99.5 507.3,101.1 507.4,117.6 507.5,122.4 507.6,108.8 507.7,106.4 507.8,99.6 507.9,98.5 508.0,109.1 508.1,109.3 508.2,81.3 508.3,97.8 508.4,120.3 508.5,116.2 508.6,123.5 508.7,140.2 508.8,144.7 508.9,145.1 509.0,150.2 509.1,133.5 509.2,149.5 509.3,146.7 509.4,146.8 509.5,134.9 509.6,148.9 509.7,132.0 509.8,143.8 509.9,146.9 510.0,144.0 510.1,149.9 510.2,142.0 510.3,149.7 510.4,135.6 510.5,121.1 510.6,137.0 510.7,116.8 510.8,122.8 510.9,134.3 511.0,144.7 511.1,146.8 511.2,123.8 511.3,91.8 511.4,94.1 511.5,113.0 511.6,96.2 511.7,113.6 511.8,116.0 511.8,96.8 511.9,99.2 512.0,106.9 512.1,103.3 512.2,101.4 512.3,88.2 512.4,98.2 512.5,87.0 512.6,85.0 512.7,89.9 512.8,113.0 512.9,85.1 513.0,87.8 513.1,102.7 513.2,96.6 513.3,95.4 513.4,112.8 513.5,94.2 513.6,91.8 513.7,98.1 513.8,110.9 513.9,96.9 514.0,104.9 514.1,105.5 514.2,85.9 514.3,100.0 514.4,104.7 514.5,123.2 514.6,116.8 514.7,90.0 514.8,107.9 514.9,101.4 515.0,87.6 515.1,93.1 515.2,92.0 515.3,100.9 515.4,86.2 515.5,90.7 515.6,106.8 515.7,98.4 515.8,101.3 515.9,112.2 516.0,91.3 516.1,87.8 516.2,117.3 516.3,105.7 516.4,112.1 516.5,125.9 516.6,107.4 516.7,99.1 516.8,117.7 516.9,112.8 517.0,91.4 517.0,97.5 517.1,110.8 517.2,101.7 517.3,121.8 517.4,111.4 517.5,99.8 517.6,96.2 517.7,95.7 517.8,102.1 517.9,92.0 518.0,102.9 518.1,91.5 518.2,98.7 518.3,99.3 518.4,98.8 518.5,110.1 518.6,128.4 518.7,141.8 518.8,137.9 518.9,127.6 519.0,131.6 519.1,125.0 519.2,130.0 519.3,150.3 519.4,177.5 519.5,181.1 519.6,168.4 519.7,193.7 519.8,158.0 519.9,180.7 520.0,178.2 520.1,151.5 520.2,144.2 520.3,149.8 520.4,153.6 520.5,150.5 520.6,155.7 520.7,169.4 520.8,194.9 520.9,193.5 521.0,193.1 521.1,187.5 521.2,192.1 521.3,173.9 521.4,194.9 521.5,193.2 521.6,195.3 521.7,169.2 521.8,192.3 521.9,181.6 522.0,230.0 522.1,211.9 522.2,206.1 522.2,224.0 522.3,195.7 522.4,180.2 522.5,210.4 522.6,203.0 522.7,218.6 522.8,239.7 522.9,224.4 523.0,207.2 523.1,233.4 523.2,238.7 523.3,236.8 523.4,239.7 523.5,230.5 523.6,220.8 523.7,238.0 523.8,202.5 523.9,228.6 524.0,213.0 524.1,184.4 524.2,189.7 524.3,210.7 524.4,196.2 524.5,173.0 524.6,155.1 524.7,155.8 524.8,165.7 524.9,186.5 525.0,208.3 525.1,154.4 525.2,182.2 525.3,170.7 525.4,176.8 525.5,180.4 525.6,176.6 525.7,171.2 525.8,165.2 525.9,170.7 526.0,172.2 526.1,186.4 526.2,199.9 526.3,182.1 526.4,189.1 526.5,220.4 526.6,197.5 526.7,187.9 526.8,179.8 526.9,172.8 527.0,179.2 527.1,197.2 527.2,179.3 527.3,166.6 527.4,169.3 527.4,154.3 527.5,158.3 527.6,153.3 527.7,186.9 527.8,170.5 527.9,185.6 528.0,152.2 528.1,170.7 528.2,196.8 528.3,202.4 528.4,179.0 528.5,183.4 528.6,209.5 528.7,187.5 528.8,187.1 528.9,206.1 529.0,163.5 529.1,204.5 529.2,197.8 529.3,206.6 529.4,175.9 529.5,224.9 529.6,231.8 529.7,236.1 529.8,236.3 529.9,238.5 530.0,232.6 530.1,197.2 530.2,202.9 530.3,192.4 530.4,189.6 530.5,200.9 530.6,187.7 530.7,187.6 530.8,205.3 530.9,161.0 531.0,202.3 531.1,181.1 531.2,194.7 531.3,159.4 531.4,177.8 531.5,168.1 531.6,205.0 531.7,192.4 531.8,166.2 531.9,181.2 532.0,167.0 532.1,168.2 532.2,184.1 532.3,169.6 532.4,176.2 532.5,187.2 532.6,172.8 532.6,177.5 532.7,209.4 532.8,197.5 532.9,188.1 533.0,188.5 533.1,189.5 533.2,174.8 533.3,196.6 533.4,184.8 533.5,192.4 533.6,201.9 533.7,223.1 533.8,235.9 533.9,239.4 534.0,195.8 534.1,234.3 534.2,198.1 534.3,227.1 534.4,218.1 534.5,228.0 534.6,221.9 534.7,186.9 534.8,182.5 534.9,175.0 535.0,168.6 535.1,156.2 535.2,170.7 535.3,161.5 535.4,173.1 535.5,208.4 535.6,194.7 535.7,199.9 535.8,203.6 535.9,208.9 536.0,190.2 536.1,154.0 536.2,197.3 536.3,197.7 536.4,226.7 536.5,187.6 536.6,196.3 536.7,174.6 536.8,197.9 536.9,202.9 537.0,194.2 537.1,210.8 537.2,187.9 537.3,202.9 537.4,183.1 537.5,183.0 537.6,226.0 537.7,206.4 537.8,200.6 537.8,212.3 537.9,200.1 538.0,218.8 538.1,216.8 538.2,191.6 538.3,232.1 538.4,222.8 538.5,220.0 538.6,239.6 538.7,208.7 538.8,226.2 538.9,235.2 539.0,230.1 539.1,235.1 539.2,210.2 539.3,211.3 539.4,188.9 539.5,200.7 539.6,185.6 539.7,215.0 539.8,196.3 539.9,157.7 540.0,166.6 540.1,194.7 540.2,206.7 540.3,202.5 540.4,216.2 540.5,192.6 540.6,191.4 540.7,202.8 540.8,182.5 540.9,220.2 541.0,212.5 541.1,178.7 541.2,164.9 541.3,178.7 541.4,194.4 541.5,200.2 541.6,181.5 541.7,205.6 541.8,204.1 541.9,181.9 542.0,211.0 542.1,221.8 542.2,219.9 542.3,212.3 542.4,213.4 542.5,227.1 542.6,218.1 542.7,202.7 542.8,152.7 542.9,184.5 543.0,170.6 543.0,208.3 543.1,206.4 543.2,210.2 543.3,185.8 543.4,177.6 543.5,192.5 543.6,205.1 543.7,223.0 543.8,180.5 543.9,213.2 544.0,189.8 544.1,203.9 544.2,202.2 544.3,216.4 544.4,216.2 544.5,186.5 544.6,213.1 544.7,189.3 544.8,185.5 544.9,193.5 545.0,205.1 545.1,199.4 545.2,203.3 545.3,225.3 545.4,203.6 545.5,222.8 545.6,223.9 545.7,227.6 545.8,226.7 545.9,235.6 546.0,235.0 546.1,228.4 546.2,222.9 546.3,227.0 546.4,216.3 546.5,216.3 546.6,226.9 546.7,215.6 546.8,235.0 546.9,237.8 547.0,238.6 547.1,229.6 547.2,226.8 547.3,239.0 547.4,225.0 547.5,219.9 547.6,224.1 547.7,226.3 547.8,233.7 547.9,228.9 548.0,238.8 548.1,231.2 548.2,239.6 548.2,209.7 548.3,200.6 548.4,206.3 548.5,172.3 548.6,206.0 548.7,204.8 548.8,205.3 548.9,178.1 549.0,190.6 549.1,193.2 549.2,194.1 549.3,156.3 549.4,187.7 549.5,158.3 549.6,189.2 549.7,156.5 549.8,177.3 549.9,181.2 550.0,170.0 550.1,194.3 550.2,184.6 550.3,211.8 550.4,192.9 550.5,203.2 550.6,202.6 550.7,201.7 550.8,192.6 550.9,192.6 551.0,209.3 551.1,189.5 551.2,169.7 551.3,209.6 551.4,206.0 551.5,191.2 551.6,227.7 551.7,191.2 551.8,199.5 551.9,187.7 552.0,174.1 552.1,204.7 552.2,207.8 552.3,225.5 552.4,211.0 552.5,186.2 552.6,219.2 552.7,202.7 552.8,203.6 552.9,183.9 553.0,191.8 553.1,193.5 553.2,200.6 553.3,211.5 553.4,212.4 553.4,215.5 553.5,168.6 553.6,191.1 553.7,186.9 553.8,182.5 553.9,172.1 554.0,199.4 554.1,195.7 554.2,209.4 554.3,184.6 554.4,233.6 554.5,221.4 554.6,195.2 554.7,237.8 554.8,229.9 554.9,230.8 555.0,239.6 555.1,232.3 555.2,222.0 555.3,223.0 555.4,231.5 555.5,214.7 555.6,188.6 555.7,199.7 555.8,206.5 555.9,212.8 556.0,209.7 556.1,239.6 556.2,213.5 556.3,194.3 556.4,215.6 556.5,238.5 556.6,234.3 556.7,222.5 556.8,219.9 556.9,228.6 557.0,235.3 557.1,239.7 557.2,231.2 557.3,221.7 557.4,218.5 557.5,206.2 557.6,182.1 557.7,235.8 557.8,215.1 557.9,219.3 558.0,239.9 558.1,227.9 558.2,222.8 558.3,236.6 558.4,238.3 558.5,233.5 558.6,222.9 558.6,231.2 558.7,219.0 558.8,217.2 558.9,217.2 559.0,180.3 559.1,207.0 559.2,215.5 559.3,206.4 559.4,228.1 559.5,211.5 559.6,204.3 559.7,202.4 559.8,208.6 559.9,207.0 560.0,227.0 560.1,219.3 560.2,216.2 560.3,239.8 560.4,194.9 560.5,193.6 560.6,204.9 560.7,204.6 560.8,218.8 560.9,212.5 561.0,185.7 561.1,177.7 561.2,152.3 561.3,154.6 561.4,184.5 561.5,172.3 561.6,159.8 561.7,164.9 561.8,174.6 561.9,159.2 562.0,151.1 562.1,150.5 562.2,183.9 562.3,184.3 562.4,222.0 562.5,171.7 562.6,183.2 562.7,170.3 562.8,184.4 562.9,172.8 563.0,184.0 563.1,173.6 563.2,209.6 563.3,204.2 563.4,195.0 563.5,227.9 563.6,229.2 563.7,211.2 563.8,229.1 563.8,222.1 563.9,229.4 564.0,231.0 564.1,220.2 564.2,220.5 564.3,212.5 564.4,183.7 564.5,195.6 564.6,207.5 564.7,230.0 564.8,239.2 564.9,224.7 565.0,236.5 565.1,238.7 565.2,201.2 565.3,222.5 565.4,200.8 565.5,184.3 565.6,199.2 565.7,214.2 565.8,238.3 565.9,222.4 566.0,199.4 566.1,220.4 566.2,227.4 566.3,197.2 566.4,184.5 566.5,195.2 566.6,181.0 566.7,170.8 566.8,165.5 566.9,167.4 567.0,186.3 567.1,155.8 567.2,199.5 567.3,197.9 567.4,166.4 567.5,178.1 567.6,192.2 567.7,186.8 567.8,162.5 567.9,157.2 568.0,172.9 568.1,169.3 568.2,157.7 568.3,163.4 568.4,169.4 568.5,151.7 568.6,191.0 568.7,195.6 568.8,206.0 568.9,171.6 569.0,173.6 569.0,174.3 569.1,220.9 569.2,157.7 569.3,182.1 569.4,174.9 569.5,208.1 569.6,230.7 569.7,207.8 569.8,228.6 569.9,186.3 570.0,194.2 570.1,182.3 570.2,213.4 570.3,232.9 570.4,225.2 570.5,225.7 570.6,232.0 570.7,224.3 570.8,204.8 570.9,225.6 571.0,229.8 571.1,227.5 571.2,194.6 571.3,185.7 571.4,199.8 571.5,197.3 571.6,183.2 571.7,188.7 571.8,170.3 571.9,153.3 572.0,154.8 572.1,161.5 572.2,168.4 572.3,152.0 572.4,161.4 572.5,183.1 572.6,155.1 572.7,158.1 572.8,163.4 572.9,156.8 573.0,170.7 573.1,176.1 573.2,151.0 573.3,160.2 573.4,168.8 573.5,163.8 573.6,166.7 573.7,194.2 573.8,193.6 573.9,190.6 574.0,195.6 574.1,173.2 574.2,193.4 574.2,179.6 574.3,193.1 574.4,191.6 574.5,187.4 574.6,196.6 574.7,209.4 574.8,204.7 574.9,226.9 575.0,228.1 575.1,194.4 575.2,188.7 575.3,207.4 575.4,192.1 575.5,232.1 575.6,224.6 575.7,215.4 575.8,235.1 575.9,231.8 576.0,228.6 576.1,226.3 576.2,232.7 576.3,217.9 576.4,236.2 576.5,232.4 576.6,240.0 576.7,207.7 576.8,208.3 576.9,200.9 577.0,221.6 577.1,202.7 577.2,210.5 577.3,174.4 577.4,203.7 577.5,197.9 577.6,222.8 577.7,210.1 577.8,202.1 577.9,222.0 578.0,179.1 578.1,195.3 578.2,204.0 578.3,191.9 578.4,198.5 578.5,200.9 578.6,206.6 578.7,176.4 578.8,187.5 578.9,203.4 579.0,212.7 579.1,232.1 579.2,242.2 579.3,244.9 579.4,244.8 579.4,244.9 579.5,244.9 579.6,245.0 579.7,244.9 579.8,245.2 579.9,245.1 580.0,245.1 580.1,244.9 580.2,245.1 580.3,244.9 580.4,245.1 580.5,245.1 580.6,245.0 580.7,245.0 580.8,245.0 580.9,244.7 581.0,244.7 581.1,244.8 581.2,244.9 581.3,244.9 581.4,245.0 581.5,244.8 581.6,245.0 581.7,245.1 581.8,245.0 581.9,245.2 582.0,245.2 582.1,244.9 582.2,245.0 582.3,245.2 582.4,245.0 582.5,245.0 582.6,244.9 582.7,245.0 582.8,244.9 582.9,245.1 583.0,245.0 583.1,244.9 583.2,245.0 583.3,245.2 583.4,245.0 583.5,244.8 583.6,245.0 583.7,244.9 583.8,245.0 583.9,244.7 584.0,244.8 584.1,244.7 584.2,244.8 584.3,244.7 584.4,244.8 584.5,245.0 584.6,245.0 584.6,245.0 584.7,244.8 584.8,244.9 584.9,244.7 585.0,244.8 585.1,244.8 585.2,244.9 585.3,244.8 585.4,244.6 585.5,244.7 585.6,244.7 585.7,244.8 585.8,244.8 585.9,244.6 586.0,244.7 586.1,244.7 586.2,244.6 586.3,244.7 586.4,244.9 586.5,244.8 586.6,245.0 586.7,245.0 586.8,245.1 586.9,245.0 587.0,244.9 587.1,244.9 587.2,245.0 587.3,244.7 587.4,244.7 587.5,244.8 587.6,244.9 587.7,244.7 587.8,245.0 587.9,244.7 588.0,244.6 588.1,244.7 588.2,244.7 588.3,244.7 588.4,244.6 588.5,244.6 588.6,244.8 588.7,244.7 588.8,244.6 588.9,244.7 589.0,244.6 589.1,244.9 589.2,244.8 589.3,244.8 589.4,245.2 589.5,245.0 589.6,244.8 589.7,244.9 589.8,244.8 589.8,244.9 589.9,244.8 590.0,244.8 590.1,244.7 590.2,244.8 590.3,244.6 590.4,244.7 590.5,244.8 590.6,244.6 590.7,244.7 590.8,244.7 590.9,244.6 591.0,244.7 591.1,244.8 591.2,244.8 591.3,244.9 591.4,244.8 591.5,244.7 591.6,244.7 591.7,244.9 591.8,244.8 591.9,244.8 592.0,245.0 592.1,244.9 592.2,244.8 592.3,244.9 592.4,244.8 592.5,245.0 592.6,244.9 592.7,244.9 592.8,245.1 592.9,244.9 593.0,245.0 593.1,244.9 593.2,244.9 593.3,245.0 593.4,244.9 593.5,244.9 593.6,244.9 593.7,244.7 593.8,244.9 593.9,244.8 594.0,245.0 594.1,244.9 594.2,244.9 594.3,244.9 594.4,244.9 594.5,245.1 594.6,245.1 594.7,245.2 594.8,245.2 594.9,245.1 595.0,245.2 595.0,245.2 595.1,245.1 595.2,245.2 595.3,245.0 595.4,244.9 595.5,245.0 595.6,245.0 595.7,245.0 595.8,245.0 595.9,245.2 596.0,245.1 596.1,244.8 596.2,245.0 596.3,244.9 596.4,245.0 596.5,245.1 596.6,244.9 596.7,244.8 596.8,244.9 596.9,245.0 597.0,245.0 597.1,244.9 597.2,245.0 597.3,245.1 597.4,245.0 597.5,244.9 597.6,245.0 597.7,245.1 597.8,244.9 597.9,244.9 598.0,244.9 598.1,244.9 598.2,245.0 598.3,245.0 598.4,244.9 598.5,244.8 598.6,245.2 598.7,245.0 598.8,244.9 598.9,245.1 599.0,245.1 599.1,244.8 599.2,245.0 599.3,244.9 599.4,244.7 599.5,245.0 599.6,244.8 599.7,245.0 599.8,245.0 599.9,245.1 600.0,245.0 600.1,244.9 600.2,244.9 600.2,244.9 600.3,244.9 600.4,244.7 600.5,244.6 600.6,244.6 600.7,244.7 600.8,244.8 600.9,244.7 601.0,244.6 601.1,244.9 601.2,245.0 601.3,244.8 601.4,245.0 601.5,244.7 601.6,244.9 601.7,244.9 601.8,244.9 601.9,244.9 602.0,245.1 602.1,244.8 602.2,244.9 602.3,244.9 602.4,244.8 602.5,244.8 602.6,244.8 602.7,244.9 602.8,245.0 602.9,245.0 603.0,245.1 603.1,245.0 603.2,244.9 603.3,245.0 603.4,244.6 603.5,244.7 603.6,244.9 603.7,244.7 603.8,244.8 603.9,244.7 604.0,244.8 604.1,244.9 604.2,244.9 604.3,245.1 604.4,245.0 604.5,245.1 604.6,245.0 604.7,244.9 604.8,244.9 604.9,244.9 605.0,244.9 605.1,244.9 605.2,244.9 605.3,245.0 605.4,244.9 605.4,244.9 605.5,244.8 605.6,244.7 605.7,244.8 605.8,244.8 605.9,244.8 606.0,245.0 606.1,244.9 606.2,245.0 606.3,245.0 606.4,244.9 606.5,244.9 606.6,244.9 606.7,245.0 606.8,245.0 606.9,244.9 607.0,244.8 607.1,245.1 607.2,245.1 607.3,245.1 607.4,245.0 607.5,245.0 607.6,244.9 607.7,245.0 607.8,245.0 607.9,245.1 608.0,245.0 608.1,244.9 608.2,244.8 608.3,244.8 608.4,244.9 608.5,244.7 608.6,244.7 608.7,244.8 608.8,244.7 608.9,244.7 609.0,244.8 609.1,244.9 609.2,244.8 609.3,244.7 609.4,245.0 609.5,244.9 609.6,244.7 609.7,244.7 609.8,244.9 609.9,244.9 610.0,245.0 610.1,244.9 610.2,244.9 610.3,244.8 610.4,244.7 610.5,244.7 610.6,244.7 610.6,244.8 610.7,244.7 610.8,244.8 610.9,245.0 611.0,244.9 611.1,245.0 611.2,245.0 611.3,245.0 611.4,245.0 611.5,245.1 611.6,245.1 611.7,245.1 611.8,245.2 611.9,245.2 612.0,245.2 612.1,245.2 612.2,245.1 612.3,245.2 612.4,245.2 612.5,245.0 612.6,244.9 612.7,245.0 612.8,245.2 612.9,244.9 613.0,244.9 613.1,245.0 613.2,244.8 613.3,245.1 613.4,245.2 613.5,245.0 613.6,245.0 613.7,244.9 613.8,244.9 613.9,245.0 614.0,244.9 614.1,245.0 614.2,245.1 614.3,244.9 614.4,245.0 614.5,244.9 614.6,244.9 614.7,244.8 614.8,244.9 614.9,244.7 615.0,244.8 615.1,244.7 615.2,244.8 615.3,244.7 615.4,244.8 615.5,244.9 615.6,244.7 615.7,244.9 615.8,244.7 615.8,244.7 615.9,245.0 616.0,244.9 616.1,245.1 616.2,245.1 616.3,245.0 616.4,244.7 616.5,244.9 616.6,244.8 616.7,244.9 616.8,244.9 616.9,244.8 617.0,244.9 617.1,244.8 617.2,244.7 617.3,244.8 617.4,244.8 617.5,244.8 617.6,245.0 617.7,245.1 617.8,245.1 617.9,245.0 618.0,245.0 618.1,244.9 618.2,244.9 618.3,244.6 618.4,244.6 618.5,244.8 618.6,244.9 618.7,244.8 618.8,244.9 618.9,244.8 619.0,244.6 619.1,244.6 619.2,244.8 619.3,244.7 619.4,244.7 619.5,244.9 619.6,245.0 619.7,244.9 619.8,244.8 619.9,244.9 620.0,245.0 620.1,244.8 620.2,244.7 620.3,244.8 620.4,244.8 620.5,244.8 620.6,244.8 620.7,244.9 620.8,244.8 620.9,244.8 621.0,244.9 621.0,244.9 621.1,244.9 621.2,244.7 621.3,244.7 621.4,244.7 621.5,244.7 621.6,244.7 621.7,244.8 621.8,244.7 621.9,244.8 622.0,244.7 622.1,245.0 622.2,244.9 622.3,244.7 622.4,244.7 622.5,244.9 622.6,244.9 622.7,244.9 622.8,245.0 622.9,245.1 623.0,245.0 623.1,244.9 623.2,245.2 623.3,245.1 623.4,245.0 623.5,245.1 623.6,245.0 623.7,245.2 623.8,244.9 623.9,245.0 624.0,244.8 624.1,244.8 624.2,244.9 624.3,244.9 624.4,244.8 624.5,245.0 624.6,244.9 624.7,244.8 624.8,244.9 624.9,245.0 625.0,245.0 625.1,245.2 625.2,245.1 625.3,245.0 625.4,244.9 625.5,245.0 625.6,244.9 625.7,245.0 625.8,244.9 625.9,244.8 626.0,244.9 626.1,244.8 626.2,244.8 626.2,244.8 626.3,244.8 626.4,244.8 626.5,244.8 626.6,244.8 626.7,244.6 626.8,244.8 626.9,244.7 627.0,244.7 627.1,244.8 627.2,244.7 627.3,244.7 627.4,244.8 627.5,244.9 627.6,244.9 627.7,245.0 627.8,244.8 627.9,245.0 628.0,244.6 628.1,244.6 628.2,244.6 628.3,244.7 628.4,244.9 628.5,244.8 628.6,244.7 628.7,244.7 628.8,244.8 628.9,244.6 629.0,244.6 629.1,244.6 629.2,244.7 629.3,244.6 629.4,244.6 629.5,244.8 629.6,244.6 629.7,244.6 629.8,244.6 629.9,244.8 630.0,244.9 630.1,244.9 630.2,245.0 630.3,245.1 630.4,245.0 630.5,245.1 630.6,245.2 630.7,245.2 630.8,245.1 630.9,245.0 631.0,245.0 631.1,245.0 631.2,244.8 631.3,245.0 631.4,244.9 631.4,244.8 631.5,244.8 631.6,244.7 631.7,244.7 631.8,244.9 631.9,245.0 632.0,245.0 632.1,245.1 632.2,245.1 632.3,245.0 632.4,244.8 632.5,244.8 632.6,244.7 632.7,244.9 632.8,244.7 632.9,244.8 633.0,244.9 633.1,244.9 633.2,244.8 633.3,244.8 633.4,244.9 633.5,244.9 633.6,245.0 633.7,245.0 633.8,245.0 633.9,245.0 634.0,244.9 634.1,244.7 634.2,244.7 634.3,244.7 634.4,244.7 634.5,244.8 634.6,244.8 634.7,245.0 634.8,245.1 634.9,245.2 635.0,245.2 635.1,244.9 635.2,245.1 635.3,245.1 635.4,245.1 635.5,245.0 635.6,245.1 635.7,244.8 635.8,245.0 635.9,245.0 636.0,245.0 636.1,245.2 636.2,245.1 636.3,244.9 636.4,244.9 636.5,244.9 636.6,244.9 636.7,244.9 636.7,245.0 636.8,245.0 636.9,245.1 637.0,245.2 637.1,244.9 637.2,245.1 637.3,244.9 637.4,244.9 637.5,244.9 637.6,245.0 637.7,245.0 637.8,245.0 637.9,244.7 638.0,244.9 638.1,244.8 638.2,244.8 638.3,245.1 638.4,244.9 638.5,245.0 638.6,245.0 638.7,245.0 638.8,245.2 638.9,245.1 639.0,245.2 639.1,245.2 639.2,245.2 639.3,245.2 639.4,245.1 639.5,245.1 639.6,245.0 639.7,245.1 639.8,245.0 639.9,245.0 640.0,245.1 640.1,245.0 640.2,244.9 640.3,244.9 640.4,244.8 640.5,245.0 640.6,244.8 640.7,244.9 640.8,245.1 640.9,245.0 641.0,244.7 641.1,244.7 641.2,244.8 641.3,244.8 641.4,245.0 641.5,245.0 641.6,245.1 641.7,245.2 641.8,245.0 641.9,245.0 641.9,244.8 642.0,244.8 642.1,244.8 642.2,244.9 642.3,244.9 642.4,244.8 642.5,244.8 642.6,245.0 642.7,245.0 642.8,245.0 642.9,245.0 643.0,245.1 643.1,245.2 643.2,245.1 643.3,245.0 643.4,245.0 643.5,244.9 643.6,245.2 643.7,245.2 643.8,244.9 643.9,245.0 644.0,245.1 644.1,245.1 644.2,245.2 644.3,245.2 644.4,245.1 644.5,245.0 644.6,245.2 644.7,245.2 644.8,245.2 644.9,245.2 645.0,245.2 645.1,245.1 645.2,245.2 645.3,245.0 645.4,245.1 645.5,245.1 645.6,245.2 645.7,245.2 645.8,245.0 645.9,245.0 646.0,245.0 646.1,244.9 646.2,244.7 646.3,244.6 646.4,244.6 646.5,244.6 646.6,244.6 646.7,244.7 646.8,244.7 646.9,244.7 647.0,244.8 647.1,244.6 647.1,244.7 647.2,244.9 647.3,245.0 647.4,245.1 647.5,245.1 647.6,245.0 647.7,245.0 647.8,244.8 647.9,244.8 648.0,245.0 648.1,245.0 648.2,244.7 648.3,244.7 648.4,244.7 648.5,244.6 648.6,244.7 648.7,244.7 648.8,244.8 648.9,244.8 649.0,244.7 649.1,244.6 649.2,244.6 649.3,244.7 649.4,244.8 649.5,244.8 649.6,244.9 649.7,245.1 649.8,245.2 649.9,244.9 650.0,245.1 650.1,245.1 650.2,245.1 650.3,245.1 650.4,245.2 650.5,245.1 650.6,244.9 650.7,245.1 650.8,245.0 650.9,245.1 651.0,245.0 651.1,244.9 651.2,244.9 651.3,245.0 651.4,244.8 651.5,245.0 651.6,244.9 651.7,244.8 651.8,245.1 651.9,244.9 652.0,245.0 652.1,244.8 652.2,244.8 652.3,244.9 652.3,244.9 652.4,244.8 652.5,245.0 652.6,245.1 652.7,244.9 652.8,244.9 652.9,244.8 653.0,245.2 653.1,245.0 653.2,244.9 653.3,244.9 653.4,245.1 653.5,245.0 653.6,245.1 653.7,245.0 653.8,244.9 653.9,244.9 654.0,245.0 654.1,245.0 654.2,245.0 654.3,245.1 654.4,245.1 654.5,245.1 654.6,245.2 654.7,245.1 654.8,245.1 654.9,245.1 655.0,245.0 655.1,244.9 655.2,244.9 655.3,244.9 655.4,244.9 655.5,244.9 655.6,245.0 655.7,244.8 655.8,244.9 655.9,245.1 656.0,245.1 656.1,245.0 656.2,244.9 656.3,245.0 656.4,245.0 656.5,245.0 656.6,244.9 656.7,245.2 656.8,245.1 656.9,245.0 657.0,245.1 657.1,245.2 657.2,245.1 657.3,245.2 657.4,245.0 657.5,245.0 657.5,245.0 657.6,244.9 657.7,244.6 657.8,244.8 657.9,244.8 658.0,244.7 658.1,245.0 658.2,244.9 658.3,244.9 658.4,244.9 658.5,244.8 658.6,245.0 658.7,245.0 658.8,245.0 658.9,244.9 659.0,245.1 659.1,245.1 659.2,245.0 659.3,245.0 659.4,245.0 659.5,244.9 659.6,244.9 659.7,245.1 659.8,244.9 659.9,245.0 660.0,244.9 660.1,245.2 660.2,245.1 660.3,245.2 660.4,245.1 660.5,245.2 660.6,245.2 660.7,245.2 660.8,245.0 660.9,244.8 661.0,244.9 661.1,244.7 661.2,244.8 661.3,244.9 661.4,245.0 661.5,244.9 661.6,244.7 661.7,244.8 661.8,244.7 661.9,244.6 662.0,244.8 662.1,244.7 662.2,245.0 662.3,244.9 662.4,245.0 662.5,244.9 662.6,245.1 662.7,245.1 662.7,245.1 662.8,244.8 662.9,245.1 663.0,245.0 663.1,245.1 663.2,245.1 663.3,245.0 663.4,245.0 663.5,245.2 663.6,245.1 663.7,245.1 663.8,244.9 663.9,245.0 664.0,244.9 664.1,244.9 664.2,244.7 664.3,244.9 664.4,244.9 664.5,244.7 664.6,245.0 664.7,245.0 664.8,245.1 664.9,245.2 665.0,245.1 665.1,245.2 665.2,245.0 665.3,244.9 665.4,244.9 665.5,245.0 665.6,244.9 665.7,245.0 665.8,245.0 665.9,245.0 666.0,245.0 666.1,244.8 666.2,244.8 666.3,244.8 666.4,244.9 666.5,245.2 666.6,244.9 666.7,245.1 666.8,244.9 666.9,244.9 667.0,245.0 667.1,244.8 667.2,244.8 667.3,244.7 667.4,244.7 667.5,244.6 667.6,244.7 667.7,244.7 667.8,244.7 667.9,244.7 667.9,244.9 668.0,245.0 668.1,244.9 668.2,244.9 668.3,244.9 668.4,245.1 668.5,245.0 668.6,244.8 668.7,245.0 668.8,245.2 668.9,245.1 669.0,244.9 669.1,244.9 669.2,244.8 669.3,244.9 669.4,244.7 669.5,245.0 669.6,244.8 669.7,244.9 669.8,244.8 669.9,245.1 670.0,245.0 670.1,245.0 670.2,245.1 670.3,245.1 670.4,245.0 670.5,245.0 670.6,244.9 670.7,245.0 670.8,244.9 670.9,244.9 671.0,244.9 671.1,244.8 671.2,244.9 671.3,245.0 671.4,245.1 671.5,245.0 671.6,245.1 671.7,245.1 671.8,245.1 671.9,245.2 672.0,244.9 672.1,244.9 672.2,244.8 672.3,244.7 672.4,244.9 672.5,245.0 672.6,244.9 672.7,245.1 672.8,245.2 672.9,244.8 673.0,244.9 673.1,244.9 673.1,244.9 673.2,244.8 673.3,245.1 673.4,245.0 673.5,245.0 673.6,245.2 673.7,245.1 673.8,245.0 673.9,245.2 674.0,245.1 674.1,245.2 674.2,245.0 674.3,245.0 674.4,244.9 674.5,244.7 674.6,244.6 674.7,244.8 674.8,244.8 674.9,244.8 675.0,244.8 675.1,244.7 675.2,244.7 675.3,244.7 675.4,244.9 675.5,244.7 675.6,244.8 675.7,245.0 675.8,244.9 675.9,245.0 676.0,244.7 676.1,244.7 676.2,244.9 676.3,244.8 676.4,244.8 676.5,245.1 676.6,244.9 676.7,245.0 676.8,244.7 676.9,244.7 677.0,244.9 677.1,244.8 677.2,244.7 677.3,244.7 677.4,244.9 677.5,244.7 677.6,244.8 677.7,244.8 677.8,245.0 677.9,244.8 678.0,244.9 678.1,245.1 678.2,245.0 678.3,245.1 678.3,245.1 678.4,245.1 678.5,245.0 678.6,245.0 678.7,244.8 678.8,244.7 678.9,244.7 679.0,244.7 679.1,244.7 679.2,244.8 679.3,244.7 679.4,244.8 679.5,244.7 679.6,244.9 679.7,244.9 679.8,244.9 679.9,244.8 680.0,244.8 680.1,245.0 680.2,244.8 680.3,244.9 680.4,244.8 680.5,244.7 680.6,244.8 680.7,244.7 680.8,244.7 680.9,244.8 681.0,244.8 681.1,245.0 681.2,244.7 681.3,244.7 681.4,244.6 681.5,244.6 681.6,244.7 681.7,244.9 681.8,244.9 681.9,244.9 682.0,245.0 682.1,244.9 682.2,245.0 682.3,245.0 682.4,245.0 682.5,244.9 682.6,244.6 682.7,245.0 682.8,245.1 682.9,245.2 683.0,245.2 683.1,245.1 683.2,245.0 683.3,245.2 683.4,244.9 683.5,245.2 683.5,245.1 683.6,245.1 683.7,245.0 683.8,244.9 683.9,244.8 684.0,244.7 684.1,244.8 684.2,245.0 684.3,245.0 684.4,245.0 684.5,245.0 684.6,245.1 684.7,245.0 684.8,245.2 684.9,245.2 685.0,245.0 685.1,245.2 685.2,245.2 685.3,245.1 685.4,245.1 685.5,245.1 685.6,244.8 685.7,244.9 685.8,244.9 685.9,244.8 686.0,244.9 686.1,244.8 686.2,244.9 686.3,244.8 686.4,244.7 686.5,244.7 686.6,244.7 686.7,244.7 686.8,244.7 686.9,244.6 687.0,244.8 687.1,244.7 687.2,244.6 687.3,244.8 687.4,244.8 687.5,244.7 687.6,244.7 687.7,245.0 687.8,245.0 687.9,245.0 688.0,244.8 688.1,244.7 688.2,244.7 688.3,244.6 688.4,244.7 688.5,244.8 688.6,244.7 688.7,244.9 688.7,244.9 688.8,244.7 688.9,244.7 689.0,244.7 689.1,244.7 689.2,244.7 689.3,244.7 689.4,244.6 689.5,244.7 689.6,244.7 689.7,244.7 689.8,244.6 689.9,244.6 690.0,244.7 690.1,244.7 690.2,244.7 690.3,244.7 690.4,244.8 690.5,244.7 690.6,244.7 690.7,244.7 690.8,244.6 690.9,244.8 691.0,244.7 691.1,244.6 691.2,244.7 691.3,244.8 691.4,244.8 691.5,244.9 691.6,244.8 691.7,244.6 691.8,244.6 691.9,244.7 692.0,244.7 692.1,244.7 692.2,245.0 692.3,244.7 692.4,244.8 692.5,244.9 692.6,245.0 692.7,245.1 692.8,244.8 692.9,244.9 693.0,244.7 693.1,244.7 693.2,244.8 693.3,244.8 693.4,244.6 693.5,244.7 693.6,244.9 693.7,244.8 693.8,244.9 693.9,244.8 693.9,245.0 694.0,244.7 694.1,244.7 694.2,244.9 694.3,245.0 694.4,244.9 694.5,244.9 694.6,244.8 694.7,245.2 694.8,245.2 694.9,245.1 695.0,245.1 695.1,245.2 695.2,245.2 695.3,245.2 695.4,244.9 695.5,245.1 695.6,245.1 695.7,245.0 695.8,245.1 695.9,245.0 696.0,245.2 696.1,245.2 696.2,245.1 696.3,245.2 696.4,245.1 696.5,245.1" fill="none" stroke="#a070e4" stroke-width="0.6" stroke-opacity="0.8" stroke-linejoin="bevel"/>
<polyline points="441.5,212.2 441.5,126.7 441.6,163.5 441.7,170.2 441.8,173.5 441.9,164.9 442.0,165.3 442.1,147.9 442.2,103.3 442.3,124.1 442.4,113.1 442.5,89.9 442.6,134.7 442.7,122.5 442.8,128.6 442.9,117.6 443.0,140.0 443.1,127.6 443.2,115.5 443.3,117.8 443.4,108.4 443.5,111.9 443.6,116.2 443.7,128.4 443.8,117.6 443.9,108.8 444.0,106.5 444.1,98.1 444.1,86.3 444.2,97.8 444.3,105.2 444.4,128.0 444.5,128.0 444.6,114.8 444.7,131.4 444.8,114.0 444.9,140.2 445.0,143.8 445.1,126.6 445.2,130.6 445.3,144.4 445.4,151.4 445.5,126.6 445.6,121.2 445.7,142.2 445.8,122.4 445.9,145.8 446.0,141.1 446.1,139.8 446.2,127.3 446.3,134.4 446.4,119.7 446.5,117.3 446.6,137.9 446.7,132.1 446.8,130.2 446.9,125.1 447.0,134.0 447.1,139.2 447.2,126.5 447.3,133.5 447.4,135.5 447.5,133.6 447.6,99.5 447.7,118.2 447.8,98.4 447.9,91.4 448.0,114.3 448.1,130.1 448.2,124.7 448.3,121.0 448.4,148.0 448.5,147.1 448.6,142.0 448.7,132.1 448.8,127.2 448.9,123.0 449.0,125.2 449.1,121.6 449.2,148.4 449.3,128.4 449.3,115.8 449.4,123.9 449.5,119.2 449.6,148.3 449.7,131.8 449.8,135.0 449.9,126.3 450.0,137.4 450.1,138.6 450.2,132.3 450.3,103.1 450.4,104.8 450.5,112.9 450.6,126.2 450.7,103.4 450.8,120.7 450.9,125.4 451.0,105.1 451.1,114.6 451.2,139.2 451.3,127.6 451.4,110.2 451.5,102.1 451.6,102.2 451.7,85.1 451.8,87.9 451.9,89.8 452.0,84.6 452.1,91.0 452.2,86.1 452.3,92.9 452.4,91.0 452.5,86.2 452.6,87.0 452.7,95.6 452.8,86.0 452.9,95.1 453.0,93.3 453.1,92.5 453.2,88.7 453.3,88.6 453.4,101.1 453.5,105.7 453.6,95.5 453.7,104.7 453.8,108.3 453.9,97.9 454.0,116.5 454.1,108.0 454.2,120.3 454.3,129.4 454.4,96.6 454.5,104.4 454.5,110.8 454.6,123.7 454.7,129.6 454.8,118.0 454.9,107.3 455.0,109.8 455.1,111.5 455.2,101.5 455.3,112.2 455.4,85.0 455.5,111.6 455.6,98.3 455.7,86.2 455.8,108.3 455.9,96.8 456.0,112.0 456.1,99.1 456.2,112.4 456.3,108.0 456.4,107.1 456.5,112.0 456.6,101.7 456.7,99.9 456.8,125.2 456.9,102.6 457.0,121.0 457.1,114.1 457.2,112.9 457.3,115.0 457.4,125.5 457.5,125.7 457.6,135.2 457.7,107.0 457.8,96.0 457.9,110.3 458.0,119.1 458.1,116.8 458.2,111.8 458.3,95.2 458.4,121.9 458.5,123.5 458.6,109.9 458.7,122.1 458.8,129.9 458.9,117.0 459.0,113.1 459.1,100.0 459.2,83.9 459.3,93.0 459.4,83.7 459.5,84.7 459.6,105.7 459.7,84.3 459.7,85.3 459.8,92.3 459.9,90.9 460.0,84.6 460.1,97.9 460.2,92.1 460.3,89.5 460.4,105.6 460.5,98.6 460.6,102.9 460.7,97.7 460.8,107.7 460.9,103.2 461.0,106.7 461.1,103.1 461.2,112.9 461.3,80.0 461.4,119.4 461.5,97.2 461.6,100.9 461.7,98.6 461.8,102.4 461.9,87.6 462.0,110.3 462.1,110.4 462.2,84.3 462.3,102.9 462.4,100.4 462.5,122.3 462.6,89.7 462.7,121.5 462.8,106.9 462.9,126.4 463.0,120.0 463.1,121.9 463.2,125.1 463.3,112.8 463.4,103.5 463.5,106.5 463.6,140.0 463.7,119.9 463.8,127.5 463.9,112.4 464.0,123.1 464.1,114.5 464.2,108.8 464.3,127.3 464.4,107.0 464.5,112.7 464.6,130.6 464.7,150.3 464.8,138.1 464.9,128.3 464.9,133.4 465.0,131.0 465.1,111.7 465.2,87.8 465.3,119.8 465.4,103.7 465.5,130.8 465.6,119.9 465.7,125.9 465.8,109.7 465.9,116.5 466.0,109.8 466.1,123.3 466.2,133.7 466.3,128.7 466.4,108.1 466.5,106.9 466.6,133.3 466.7,127.1 466.8,83.0 466.9,106.7 467.0,101.6 467.1,107.9 467.2,109.7 467.3,105.3 467.4,115.3 467.5,124.3 467.6,107.9 467.7,111.9 467.8,128.8 467.9,105.8 468.0,97.3 468.1,97.9 468.2,97.1 468.3,88.8 468.4,89.8 468.5,91.9 468.6,116.9 468.7,105.6 468.8,83.1 468.9,107.8 469.0,112.9 469.1,104.0 469.2,80.1 469.3,90.5 469.4,89.9 469.5,86.4 469.6,73.3 469.7,76.3 469.8,72.4 469.9,71.0 470.0,70.0 470.1,60.9 470.1,72.5 470.2,68.6 470.3,95.8 470.4,80.8 470.5,92.5 470.6,84.0 470.7,107.9 470.8,105.9 470.9,89.6 471.0,117.7 471.1,106.7 471.2,103.6 471.3,106.1 471.4,107.3 471.5,109.5 471.6,109.8 471.7,122.5 471.8,134.4 471.9,148.1 472.0,148.3 472.1,122.7 472.2,119.8 472.3,133.8 472.4,140.8 472.5,132.4 472.6,119.9 472.7,117.1 472.8,115.3 472.9,119.5 473.0,129.9 473.1,107.7 473.2,137.2 473.3,139.4 473.4,140.1 473.5,134.3 473.6,126.1 473.7,123.4 473.8,122.4 473.9,105.5 474.0,106.8 474.1,100.6 474.2,109.9 474.3,111.4 474.4,116.3 474.5,99.6 474.6,106.1 474.7,102.1 474.8,110.0 474.9,98.3 475.0,113.3 475.1,112.8 475.2,102.0 475.3,103.8 475.3,112.7 475.4,105.5 475.5,104.3 475.6,116.8 475.7,102.6 475.8,105.7 475.9,117.7 476.0,119.0 476.1,109.9 476.2,107.6 476.3,108.4 476.4,115.1 476.5,112.1 476.6,116.8 476.7,134.5 476.8,131.5 476.9,138.6 477.0,154.7 477.1,149.5 477.2,151.4 477.3,154.9 477.4,144.8 477.5,137.5 477.6,143.5 477.7,148.5 477.8,135.9 477.9,152.0 478.0,146.4 478.1,149.9 478.2,159.9 478.3,147.4 478.4,150.4 478.5,158.0 478.6,154.5 478.7,152.1 478.8,152.7 478.9,153.9 479.0,166.9 479.1,153.4 479.2,166.8 479.3,169.3 479.4,167.1 479.5,167.6 479.6,159.4 479.7,162.0 479.8,166.5 479.9,164.3 480.0,162.0 480.1,163.9 480.2,157.3 480.3,165.9 480.4,158.9 480.5,164.0 480.5,161.5 480.6,163.3 480.7,161.9 480.8,163.3 480.9,165.5 481.0,167.0 481.1,166.6 481.2,165.4 481.3,165.4 481.4,163.8 481.5,162.2 481.6,164.3 481.7,160.3 481.8,157.3 481.9,156.7 482.0,142.2 482.1,149.7 482.2,124.7 482.3,121.9 482.4,111.3 482.5,104.4 482.6,93.5 482.7,88.8 482.8,111.8 482.9,98.5 483.0,109.4 483.1,110.3 483.2,98.6 483.3,104.0 483.4,94.7 483.5,86.2 483.6,79.3 483.7,59.0 483.8,65.2 483.9,53.5 484.0,46.4 484.1,46.0 484.2,68.4 484.3,71.7 484.4,77.0 484.5,45.9 484.6,60.3 484.7,66.1 484.8,88.0 484.9,62.2 485.0,74.9 485.1,70.6 485.2,76.3 485.3,68.5 485.4,64.7 485.5,75.7 485.6,74.7 485.7,78.7 485.7,70.7 485.8,66.9 485.9,36.4 486.0,35.5 486.1,61.2 486.2,45.5 486.3,39.4 486.4,53.7 486.5,50.7 486.6,43.2 486.7,30.2 486.8,57.4 486.9,86.8 487.0,82.1 487.1,93.9 487.2,76.7 487.3,44.5 487.4,26.3 487.5,70.9 487.6,87.7 487.7,94.6 487.8,95.2 487.9,92.1 488.0,98.9 488.1,95.3 488.2,79.7 488.3,81.2 488.4,92.8 488.5,70.4 488.6,70.4 488.7,72.0 488.8,49.6 488.9,62.5 489.0,62.3 489.1,72.3 489.2,65.8 489.3,74.6 489.4,108.3 489.5,65.8 489.6,68.8 489.7,50.3 489.8,53.7 489.9,30.5 490.0,29.2 490.1,23.7 490.2,15.9 490.3,30.1 490.4,36.1 490.5,27.0 490.6,22.4 490.7,24.8 490.8,27.4 490.9,26.5 490.9,48.1 491.0,26.5 491.1,32.4 491.2,18.5 491.3,16.7 491.4,29.0 491.5,16.5 491.6,25.3 491.7,18.5 491.8,22.9 491.9,26.4 492.0,13.0 492.1,49.5 492.2,16.0 492.3,38.2 492.4,20.2 492.5,27.5 492.6,22.3 492.7,21.8 492.8,27.1 492.9,20.7 493.0,26.7 493.1,26.5 493.2,23.3 493.3,28.1 493.4,21.4 493.5,33.5 493.6,42.6 493.7,32.9 493.8,39.5 493.9,51.5 494.0,55.5 494.1,58.7 494.2,59.4 494.3,51.7 494.4,68.4 494.5,47.1 494.6,50.2 494.7,45.4 494.8,59.3 494.9,87.0 495.0,57.1 495.1,100.9 495.2,85.7 495.3,86.7 495.4,84.5 495.5,91.2 495.6,60.4 495.7,44.7 495.8,55.6 495.9,67.4 496.0,72.6 496.1,80.1 496.1,55.0 496.2,60.0 496.3,46.0 496.4,75.8 496.5,102.5 496.6,101.2 496.7,127.2 496.8,84.3 496.9,92.0 497.0,110.6 497.1,72.8 497.2,108.4 497.3,109.5 497.4,104.4 497.5,101.5 497.6,119.9 497.7,101.1 497.8,138.5 497.9,111.8 498.0,119.7 498.1,118.6 498.2,94.6 498.3,95.2 498.4,67.3 498.5,55.7 498.6,75.7 498.7,93.0 498.8,125.2 498.9,138.1 499.0,137.2 499.1,139.5 499.2,112.5 499.3,130.1 499.4,127.5 499.5,123.5 499.6,133.0 499.7,123.7 499.8,140.6 499.9,134.5 500.0,112.5 500.1,115.5 500.2,77.7 500.3,100.2 500.4,81.6 500.5,71.7 500.6,95.5 500.7,63.6 500.8,75.7 500.9,88.8 501.0,80.1 501.1,97.6 501.2,73.4 501.3,87.5 501.3,86.5 501.4,103.9 501.5,117.0 501.6,102.6 501.7,111.7 501.8,107.8 501.9,107.4 502.0,92.9 502.1,111.1 502.2,121.5 502.3,134.4 502.4,84.9 502.5,76.8 502.6,99.8 502.7,85.9 502.8,71.8 502.9,82.2 503.0,60.0 503.1,67.0 503.2,72.7 503.3,59.8 503.4,74.0 503.5,60.3 503.6,68.4 503.7,77.9 503.8,82.8 503.9,96.5 504.0,75.2 504.1,82.3 504.2,90.4 504.3,93.1 504.4,65.8 504.5,72.6 504.6,77.1 504.7,63.7 504.8,63.8 504.9,75.8 505.0,78.0 505.1,71.7 505.2,72.7 505.3,86.8 505.4,102.6 505.5,107.6 505.6,91.9 505.7,105.9 505.8,102.8 505.9,118.3 506.0,131.4 506.1,140.7 506.2,138.6 506.3,143.5 506.4,146.0 506.5,120.5 506.6,123.0 506.6,126.3 506.7,101.0 506.8,113.5 506.9,101.3 507.0,91.1 507.1,117.0 507.2,89.1 507.3,93.9 507.4,83.2 507.5,83.0 507.6,90.0 507.7,87.5 507.8,62.8 507.9,64.0 508.0,65.5 508.1,45.1 508.2,49.0 508.3,37.7 508.4,41.6 508.5,61.7 508.6,65.2 508.7,49.6 508.8,60.1 508.9,69.5 509.0,60.6 509.1,70.6 509.2,84.4 509.3,86.8 509.4,92.8 509.5,99.0 509.6,82.1 509.7,91.0 509.8,121.3 509.9,144.9 510.0,138.2 510.1,126.1 510.2,129.7 510.3,116.0 510.4,119.2 510.5,115.0 510.6,132.5 510.7,101.1 510.8,115.7 510.9,98.0 511.0,94.5 511.1,104.0 511.2,110.3 511.3,104.7 511.4,121.9 511.5,137.5 511.6,129.1 511.7,141.7 511.8,136.3 511.8,149.0 511.9,122.2 512.0,123.5 512.1,127.0 512.2,111.7 512.3,123.5 512.4,128.7 512.5,118.0 512.6,116.3 512.7,127.1 512.8,132.6 512.9,133.5 513.0,126.5 513.1,123.7 513.2,130.5 513.3,130.4 513.4,121.1 513.5,126.4 513.6,121.2 513.7,117.5 513.8,116.0 513.9,117.3 514.0,110.7 514.1,133.9 514.2,128.9 514.3,127.9 514.4,131.4 514.5,134.1 514.6,134.9 514.7,147.2 514.8,142.2 514.9,138.9 515.0,129.9 515.1,125.7 515.2,110.6 515.3,108.7 515.4,96.7 515.5,115.9 515.6,113.5 515.7,116.4 515.8,110.6 515.9,116.3 516.0,125.9 516.1,127.0 516.2,125.7 516.3,132.1 516.4,129.7 516.5,146.5 516.6,127.5 516.7,133.3 516.8,149.5 516.9,142.9 517.0,140.3 517.0,129.5 517.1,140.0 517.2,144.1 517.3,129.7 517.4,142.9 517.5,138.8 517.6,147.3 517.7,138.5 517.8,155.3 517.9,155.5 518.0,162.4 518.1,152.5 518.2,143.5 518.3,140.4 518.4,141.9 518.5,159.3 518.6,153.4 518.7,163.4 518.8,147.8 518.9,139.4 519.0,121.4 519.1,136.6 519.2,144.0 519.3,140.5 519.4,150.6 519.5,145.9 519.6,142.9 519.7,162.6 519.8,140.8 519.9,144.2 520.0,148.3 520.1,154.7 520.2,132.7 520.3,134.5 520.4,128.1 520.5,122.1 520.6,140.6 520.7,148.9 520.8,159.2 520.9,149.6 521.0,127.4 521.1,146.2 521.2,160.5 521.3,160.1 521.4,158.1 521.5,136.5 521.6,140.5 521.7,136.4 521.8,166.6 521.9,159.1 522.0,177.0 522.1,182.5 522.2,171.0 522.2,158.9 522.3,172.1 522.4,148.9 522.5,161.7 522.6,150.4 522.7,162.2 522.8,173.0 522.9,175.5 523.0,173.6 523.1,164.4 523.2,172.1 523.3,165.3 523.4,173.0 523.5,173.9 523.6,185.1 523.7,154.2 523.8,182.4 523.9,168.4 524.0,179.2 524.1,193.4 524.2,179.1 524.3,193.7 524.4,189.6 524.5,195.1 524.6,182.0 524.7,175.6 524.8,169.2 524.9,161.0 525.0,156.6 525.1,167.9 525.2,177.4 525.3,169.1 525.4,155.0 525.5,168.3 525.6,180.4 525.7,151.0 525.8,181.3 525.9,175.0 526.0,143.6 526.1,152.8 526.2,149.7 526.3,147.4 526.4,141.2 526.5,149.6 526.6,146.1 526.7,153.5 526.8,143.3 526.9,147.8 527.0,155.8 527.1,158.1 527.2,140.3 527.3,146.2 527.4,155.6 527.4,173.7 527.5,178.7 527.6,150.2 527.7,171.9 527.8,184.5 527.9,207.1 528.0,163.4 528.1,169.8 528.2,181.9 528.3,176.8 528.4,181.3 528.5,201.8 528.6,199.6 528.7,203.9 528.8,194.0 528.9,205.5 529.0,208.3 529.1,191.7 529.2,216.5 529.3,190.2 529.4,184.1 529.5,187.3 529.6,187.1 529.7,159.1 529.8,179.0 529.9,178.5 530.0,168.6 530.1,172.6 530.2,171.8 530.3,185.8 530.4,192.9 530.5,176.1 530.6,187.0 530.7,171.5 530.8,169.2 530.9,159.5 531.0,167.7 531.1,170.9 531.2,197.3 531.3,186.1 531.4,155.1 531.5,174.4 531.6,168.5 531.7,180.5 531.8,175.9 531.9,144.9 532.0,143.2 532.1,175.5 532.2,183.4 532.3,177.8 532.4,161.6 532.5,150.7 532.6,154.9 532.6,144.3 532.7,148.9 532.8,170.1 532.9,149.1 533.0,164.3 533.1,169.3 533.2,169.6 533.3,154.8 533.4,158.2 533.5,170.3 533.6,175.7 533.7,154.2 533.8,173.0 533.9,170.3 534.0,168.6 534.1,169.7 534.2,180.2 534.3,182.0 534.4,176.7 534.5,177.7 534.6,145.0 534.7,144.9 534.8,155.5 534.9,150.3 535.0,153.2 535.1,162.6 535.2,156.9 535.3,154.1 535.4,163.3 535.5,175.4 535.6,144.9 535.7,156.2 535.8,194.4 535.9,197.2 536.0,200.5 536.1,178.3 536.2,196.3 536.3,191.2 536.4,208.9 536.5,185.9 536.6,170.7 536.7,165.9 536.8,179.2 536.9,168.1 537.0,185.5 537.1,188.1 537.2,182.6 537.3,154.1 537.4,153.1 537.5,182.1 537.6,157.6 537.7,195.5 537.8,166.1 537.8,172.4 537.9,189.1 538.0,203.5 538.1,185.8 538.2,182.9 538.3,189.9 538.4,175.0 538.5,178.4 538.6,185.0 538.7,203.0 538.8,200.1 538.9,186.6 539.0,179.0 539.1,187.8 539.2,188.5 539.3,162.7 539.4,159.5 539.5,155.5 539.6,162.3 539.7,156.7 539.8,147.6 539.9,153.7 540.0,157.9 540.1,150.8 540.2,151.8 540.3,178.1 540.4,192.6 540.5,176.8 540.6,171.0 540.7,173.3 540.8,164.3 540.9,151.4 541.0,154.8 541.1,151.1 541.2,149.4 541.3,152.0 541.4,152.9 541.5,169.9 541.6,154.4 541.7,157.3 541.8,186.3 541.9,157.4 542.0,157.3 542.1,158.0 542.2,168.9 542.3,155.1 542.4,154.7 542.5,151.4 542.6,166.2 542.7,153.6 542.8,193.3 542.9,154.8 543.0,153.5 543.0,185.7 543.1,199.0 543.2,194.9 543.3,191.5 543.4,190.0 543.5,181.9 543.6,182.4 543.7,183.3 543.8,187.2 543.9,158.9 544.0,151.1 544.1,163.8 544.2,158.4 544.3,169.3 544.4,155.0 544.5,152.9 544.6,156.1 544.7,160.9 544.8,158.7 544.9,153.3 545.0,169.2 545.1,156.5 545.2,159.0 545.3,160.4 545.4,177.7 545.5,165.1 545.6,159.9 545.7,156.8 545.8,153.5 545.9,164.9 546.0,155.6 546.1,186.4 546.2,179.3 546.3,205.4 546.4,211.0 546.5,210.7 546.6,191.5 546.7,178.6 546.8,184.5 546.9,179.9 547.0,200.6 547.1,186.5 547.2,193.3 547.3,197.4 547.4,201.8 547.5,181.3 547.6,172.1 547.7,161.1 547.8,173.9 547.9,199.8 548.0,197.2 548.1,184.2 548.2,182.7 548.2,177.7 548.3,176.5 548.4,173.9 548.5,174.5 548.6,171.5 548.7,182.4 548.8,173.8 548.9,178.7 549.0,210.7 549.1,201.6 549.2,203.8 549.3,215.8 549.4,214.1 549.5,207.1 549.6,202.7 549.7,222.9 549.8,214.4 549.9,227.6 550.0,209.5 550.1,211.1 550.2,221.9 550.3,189.4 550.4,197.1 550.5,202.0 550.6,218.3 550.7,183.1 550.8,173.6 550.9,176.5 551.0,183.3 551.1,188.2 551.2,202.8 551.3,218.8 551.4,210.1 551.5,213.0 551.6,197.3 551.7,205.3 551.8,216.3 551.9,215.6 552.0,206.0 552.1,212.1 552.2,210.8 552.3,222.3 552.4,226.2 552.5,208.3 552.6,225.6 552.7,215.5 552.8,212.0 552.9,223.9 553.0,190.7 553.1,187.2 553.2,225.8 553.3,208.4 553.4,213.9 553.4,209.8 553.5,201.5 553.6,203.3 553.7,193.2 553.8,195.5 553.9,184.4 554.0,210.6 554.1,187.0 554.2,212.5 554.3,180.4 554.4,187.0 554.5,206.4 554.6,197.1 554.7,185.9 554.8,191.5 554.9,209.3 555.0,221.8 555.1,227.0 555.2,209.7 555.3,220.9 555.4,207.6 555.5,216.6 555.6,223.5 555.7,213.2 555.8,200.6 555.9,226.0 556.0,222.0 556.1,221.8 556.2,201.1 556.3,209.8 556.4,207.6 556.5,220.6 556.6,210.1 556.7,176.7 556.8,205.5 556.9,209.2 557.0,185.7 557.1,202.8 557.2,181.2 557.3,166.4 557.4,201.4 557.5,209.2 557.6,191.5 557.7,193.9 557.8,177.2 557.9,192.5 558.0,185.5 558.1,207.8 558.2,224.6 558.3,221.1 558.4,223.1 558.5,177.3 558.6,194.0 558.6,216.6 558.7,221.1 558.8,217.4 558.9,205.7 559.0,220.5 559.1,224.4 559.2,208.7 559.3,223.5 559.4,226.6 559.5,223.4 559.6,225.5 559.7,209.8 559.8,208.5 559.9,200.3 560.0,185.1 560.1,208.3 560.2,217.2 560.3,218.2 560.4,204.8 560.5,202.0 560.6,213.2 560.7,222.8 560.8,198.8 560.9,210.4 561.0,209.6 561.1,224.8 561.2,227.9 561.3,203.7 561.4,203.1 561.5,218.4 561.6,227.1 561.7,211.8 561.8,213.2 561.9,211.3 562.0,223.9 562.1,220.6 562.2,192.9 562.3,207.7 562.4,192.8 562.5,216.3 562.6,215.8 562.7,223.2 562.8,219.4 562.9,220.9 563.0,212.4 563.1,208.5 563.2,219.0 563.3,210.6 563.4,206.9 563.5,207.3 563.6,175.4 563.7,198.8 563.8,174.2 563.8,222.3 563.9,191.0 564.0,166.6 564.1,194.7 564.2,202.1 564.3,205.0 564.4,219.4 564.5,204.7 564.6,227.7 564.7,222.7 564.8,202.1 564.9,198.3 565.0,219.3 565.1,225.8 565.2,195.0 565.3,213.5 565.4,224.5 565.5,223.1 565.6,219.0 565.7,203.2 565.8,225.9 565.9,205.7 566.0,213.4 566.1,204.4 566.2,204.0 566.3,223.5 566.4,201.1 566.5,201.2 566.6,212.1 566.7,226.8 566.8,186.3 566.9,190.4 567.0,177.3 567.1,198.3 567.2,217.0 567.3,185.2 567.4,194.4 567.5,198.9 567.6,206.1 567.7,183.4 567.8,165.6 567.9,193.8 568.0,200.6 568.1,223.1 568.2,163.6 568.3,171.3 568.4,165.9 568.5,175.6 568.6,174.5 568.7,192.6 568.8,205.3 568.9,213.3 569.0,179.4 569.0,191.1 569.1,213.1 569.2,217.8 569.3,184.0 569.4,202.3 569.5,215.6 569.6,204.3 569.7,182.9 569.8,168.7 569.9,180.9 570.0,177.4 570.1,193.4 570.2,158.2 570.3,173.4 570.4,169.1 570.5,171.4 570.6,179.8 570.7,176.7 570.8,183.0 570.9,180.3 571.0,150.4 571.1,150.9 571.2,172.7 571.3,158.0 571.4,152.2 571.5,167.4 571.6,145.3 571.7,155.5 571.8,164.5 571.9,174.3 572.0,139.8 572.1,142.3 572.2,152.3 572.3,164.3 572.4,148.9 572.5,179.9 572.6,177.6 572.7,181.0 572.8,204.8 572.9,204.4 573.0,192.8 573.1,187.0 573.2,199.2 573.3,181.4 573.4,191.8 573.5,184.6 573.6,157.6 573.7,153.7 573.8,145.4 573.9,144.9 574.0,144.9 574.1,166.8 574.2,162.3 574.2,162.3 574.3,177.3 574.4,166.9 574.5,176.3 574.6,169.5 574.7,175.0 574.8,145.0 574.9,153.3 575.0,165.3 575.1,169.4 575.2,175.7 575.3,183.0 575.4,180.4 575.5,173.4 575.6,188.6 575.7,202.6 575.8,205.8 575.9,201.5 576.0,208.7 576.1,195.6 576.2,198.0 576.3,195.8 576.4,211.8 576.5,193.5 576.6,198.7 576.7,217.5 576.8,201.2 576.9,217.4 577.0,226.4 577.1,220.7 577.2,214.0 577.3,197.1 577.4,214.3 577.5,213.8 577.6,220.6 577.7,227.1 577.8,225.8 577.9,223.7 578.0,216.5 578.1,222.8 578.2,230.3 578.3,227.5 578.4,235.2 578.5,237.1 578.6,242.2 578.7,244.1 578.8,244.5 578.9,244.8 579.0,245.1 579.1,245.0 579.2,245.0 579.3,245.1 579.4,245.1 579.4,245.1 579.5,245.2 579.6,245.1 579.7,245.2 579.8,245.1 579.9,245.1 580.0,245.1 580.1,245.0 580.2,245.1 580.3,245.1 580.4,244.9 580.5,245.0 580.6,245.1 580.7,245.0 580.8,245.1 580.9,245.2 581.0,245.1 581.1,244.9 581.2,245.0 581.3,245.2 581.4,245.1 581.5,245.0 581.6,245.1 581.7,245.2 581.8,245.1 581.9,245.1 582.0,245.2 582.1,245.2 582.2,245.2 582.3,245.0 582.4,245.2 582.5,245.0 582.6,245.1 582.7,244.9 582.8,244.5 582.9,244.6 583.0,244.7 583.1,244.8 583.2,244.8 583.3,244.7 583.4,244.7 583.5,244.7 583.6,244.6 583.7,244.6 583.8,244.8 583.9,244.6 584.0,245.0 584.1,244.6 584.2,244.6 584.3,244.9 584.4,244.7 584.5,244.8 584.6,244.5 584.6,244.6 584.7,244.5 584.8,244.6 584.9,244.6 585.0,244.6 585.1,244.6 585.2,244.5 585.3,244.6 585.4,244.7 585.5,244.5 585.6,244.5 585.7,244.6 585.8,244.5 585.9,244.6 586.0,244.7 586.1,244.6 586.2,244.6 586.3,244.5 586.4,244.6 586.5,244.6 586.6,244.6 586.7,244.6 586.8,244.5 586.9,244.5 587.0,244.5 587.1,244.8 587.2,244.7 587.3,244.7 587.4,244.8 587.5,244.9 587.6,245.0 587.7,245.1 587.8,245.2 587.9,244.9 588.0,245.0 588.1,244.9 588.2,244.9 588.3,244.9 588.4,244.8 588.5,244.8 588.6,244.7 588.7,244.6 588.8,244.8 588.9,244.7 589.0,244.7 589.1,245.0 589.2,244.9 589.3,245.1 589.4,245.2 589.5,245.2 589.6,245.1 589.7,245.2 589.8,245.2 589.8,245.2 589.9,245.2 590.0,245.1 590.1,244.9 590.2,244.8 590.3,245.0 590.4,244.9 590.5,244.8 590.6,245.1 590.7,244.8 590.8,244.9 590.9,245.0 591.0,244.9 591.1,244.7 591.2,244.7 591.3,244.8 591.4,245.1 591.5,244.7 591.6,244.8 591.7,244.9 591.8,244.6 591.9,244.7 592.0,245.0 592.1,244.9 592.2,244.9 592.3,244.8 592.4,244.9 592.5,244.7 592.6,244.7 592.7,244.8 592.8,244.7 592.9,244.8 593.0,244.8 593.1,244.8 593.2,244.7 593.3,244.8 593.4,244.5 593.5,244.7 593.6,244.6 593.7,244.9 593.8,244.9 593.9,244.8 594.0,244.8 594.1,244.8 594.2,244.9 594.3,245.0 594.4,244.7 594.5,244.8 594.6,245.0 594.7,244.9 594.8,245.1 594.9,244.8 595.0,245.0 595.0,245.1 595.1,245.2 595.2,245.2 595.3,245.1 595.4,245.0 595.5,245.0 595.6,245.1 595.7,245.1 595.8,244.8 595.9,244.9 596.0,244.9 596.1,245.0 596.2,244.9 596.3,244.9 596.4,244.9 596.5,245.1 596.6,245.1 596.7,244.9 596.8,244.9 596.9,244.9 597.0,245.0 597.1,245.2 597.2,245.0 597.3,244.9 597.4,245.1 597.5,245.0 597.6,245.0 597.7,245.1 597.8,245.1 597.9,245.1 598.0,245.2 598.1,245.0 598.2,244.8 598.3,244.8 598.4,244.7 598.5,244.5 598.6,244.6 598.7,244.7 598.8,244.9 598.9,245.0 599.0,245.1 599.1,244.8 599.2,245.0 599.3,244.5 599.4,244.7 599.5,244.7 599.6,244.5 599.7,244.7 599.8,244.8 599.9,244.8 600.0,244.6 600.1,244.5 600.2,244.7 600.2,244.6 600.3,244.6 600.4,244.5 600.5,244.6 600.6,244.8 600.7,244.5 600.8,244.5 600.9,244.7 601.0,244.5 601.1,244.5 601.2,244.5 601.3,244.7 601.4,244.5 601.5,244.5 601.6,244.5 601.7,244.5 601.8,244.5 601.9,244.7 602.0,244.5 602.1,244.8 602.2,244.6 602.3,244.8 602.4,244.6 602.5,244.6 602.6,244.8 602.7,244.7 602.8,244.8 602.9,244.6 603.0,244.8 603.1,244.8 603.2,245.0 603.3,245.0 603.4,245.1 603.5,244.9 603.6,244.9 603.7,245.1 603.8,245.0 603.9,244.6 604.0,245.1 604.1,245.0 604.2,244.9 604.3,245.1 604.4,245.1 604.5,245.1 604.6,244.8 604.7,245.1 604.8,245.0 604.9,245.0 605.0,244.7 605.1,244.9 605.2,244.8 605.3,245.0 605.4,245.0 605.4,244.9 605.5,245.0 605.6,245.2 605.7,245.0 605.8,245.1 605.9,245.0 606.0,245.0 606.1,244.9 606.2,244.7 606.3,245.1 606.4,245.2 606.5,245.0 606.6,245.0 606.7,244.8 606.8,244.8 606.9,244.8 607.0,244.9 607.1,244.7 607.2,244.9 607.3,244.8 607.4,244.6 607.5,245.1 607.6,244.8 607.7,245.1 607.8,244.8 607.9,245.0 608.0,245.0 608.1,245.1 608.2,244.9 608.3,244.9 608.4,245.0 608.5,245.0 608.6,245.0 608.7,244.8 608.8,245.1 608.9,245.0 609.0,245.0 609.1,245.0 609.2,244.9 609.3,245.2 609.4,245.1 609.5,245.2 609.6,245.1 609.7,245.2 609.8,245.2 609.9,244.8 610.0,245.0 610.1,244.9 610.2,245.0 610.3,244.6 610.4,244.7 610.5,244.6 610.6,244.5 610.6,244.7 610.7,244.6 610.8,244.5 610.9,244.5 611.0,244.6 611.1,244.7 611.2,244.9 611.3,244.6 611.4,244.7 611.5,244.9 611.6,244.8 611.7,245.0 611.8,244.7 611.9,244.7 612.0,244.8 612.1,244.5 612.2,245.0 612.3,244.8 612.4,244.9 612.5,245.1 612.6,245.2 612.7,245.2 612.8,244.9 612.9,245.1 613.0,245.1 613.1,245.1 613.2,245.2 613.3,244.8 613.4,245.1 613.5,244.9 613.6,244.9 613.7,244.9 613.8,244.9 613.9,245.1 614.0,245.1 614.1,245.0 614.2,245.1 614.3,244.8 614.4,245.1 614.5,244.7 614.6,244.7 614.7,244.8 614.8,244.8 614.9,244.7 615.0,244.7 615.1,244.7 615.2,244.9 615.3,244.7 615.4,244.9 615.5,244.9 615.6,244.8 615.7,245.0 615.8,244.8 615.8,245.0 615.9,245.0 616.0,244.6 616.1,244.7 616.2,244.7 616.3,244.6 616.4,244.7 616.5,244.7 616.6,244.8 616.7,244.6 616.8,244.6 616.9,244.6 617.0,245.1 617.1,244.8 617.2,244.9 617.3,244.7 617.4,244.6 617.5,244.6 617.6,244.9 617.7,244.8 617.8,244.8 617.9,244.7 618.0,244.7 618.1,244.7 618.2,244.7 618.3,244.7 618.4,244.6 618.5,244.5 618.6,244.7 618.7,244.8 618.8,244.8 618.9,244.8 619.0,245.0 619.1,244.9 619.2,245.0 619.3,245.1 619.4,244.9 619.5,245.0 619.6,245.1 619.7,245.2 619.8,244.8 619.9,244.8 620.0,244.9 620.1,245.0 620.2,245.0 620.3,244.9 620.4,244.9 620.5,245.1 620.6,245.1 620.7,244.9 620.8,245.0 620.9,244.9 621.0,244.9 621.0,245.2 621.1,245.1 621.2,245.1 621.3,245.2 621.4,245.2 621.5,244.9 621.6,245.1 621.7,245.2 621.8,245.1 621.9,245.1 622.0,245.2 622.1,245.2 622.2,245.2 622.3,245.1 622.4,245.1 622.5,245.0 622.6,245.2 622.7,245.2 622.8,245.1 622.9,245.1 623.0,245.1 623.1,245.1 623.2,245.0 623.3,245.0 623.4,245.2 623.5,245.1 623.6,245.0 623.7,244.8 623.8,244.7 623.9,244.7 624.0,244.8 624.1,244.9 624.2,244.9 624.3,244.8 624.4,244.9 624.5,244.8 624.6,244.7 624.7,244.9 624.8,244.7 624.9,244.8 625.0,244.7 625.1,244.8 625.2,244.9 625.3,244.8 625.4,245.0 625.5,245.1 625.6,245.0 625.7,245.1 625.8,245.2 625.9,244.9 626.0,244.8 626.1,244.9 626.2,244.9 626.2,245.0 626.3,245.0 626.4,244.9 626.5,244.9 626.6,245.2 626.7,245.1 626.8,245.0 626.9,245.0 627.0,245.0 627.1,244.9 627.2,244.8 627.3,245.0 627.4,245.0 627.5,245.0 627.6,245.1 627.7,245.1 627.8,245.2 627.9,245.2 628.0,245.2 628.1,245.1 628.2,245.0 628.3,245.2 628.4,244.9 628.5,244.8 628.6,244.9 628.7,245.1 628.8,244.9 628.9,245.2 629.0,245.2 629.1,245.1 629.2,245.1 629.3,245.2 629.4,245.2 629.5,245.0 629.6,244.8 629.7,245.0 629.8,245.0 629.9,245.0 630.0,244.8 630.1,244.8 630.2,245.0 630.3,244.7 630.4,244.9 630.5,244.9 630.6,244.9 630.7,244.9 630.8,244.8 630.9,244.8 631.0,244.8 631.1,244.8 631.2,244.7 631.3,244.7 631.4,244.5 631.4,244.7 631.5,244.6 631.6,244.5 631.7,244.8 631.8,244.8 631.9,244.8 632.0,244.8 632.1,244.7 632.2,244.6 632.3,244.7 632.4,244.7 632.5,244.5 632.6,244.5 632.7,244.5 632.8,244.5 632.9,244.6 633.0,244.6 633.1,244.6 633.2,244.7 633.3,244.8 633.4,244.6 633.5,244.7 633.6,244.5 633.7,244.7 633.8,244.8 633.9,245.1 634.0,245.1 634.1,245.1 634.2,245.0 634.3,244.7 634.4,244.8 634.5,244.8 634.6,244.8 634.7,245.1 634.8,245.0 634.9,244.8 635.0,244.8 635.1,244.9 635.2,244.8 635.3,244.7 635.4,244.7 635.5,244.7 635.6,244.8 635.7,244.6 635.8,244.7 635.9,244.7 636.0,244.9 636.1,244.6 636.2,244.7 636.3,244.7 636.4,244.8 636.5,244.7 636.6,244.7 636.7,245.1 636.7,244.7 636.8,244.9 636.9,244.9 637.0,245.0 637.1,245.0 637.2,244.6 637.3,244.7 637.4,245.2 637.5,244.9 637.6,244.7 637.7,244.8 637.8,244.8 637.9,244.8 638.0,245.0 638.1,245.0 638.2,245.0 638.3,244.9 638.4,244.9 638.5,244.9 638.6,244.5 638.7,244.5 638.8,244.5 638.9,244.6 639.0,244.7 639.1,244.5 639.2,244.6 639.3,244.5 639.4,244.7 639.5,244.6 639.6,244.8 639.7,244.8 639.8,244.6 639.9,244.6 640.0,244.7 640.1,244.5 640.2,244.7 640.3,244.9 640.4,244.9 640.5,244.7 640.6,244.7 640.7,244.7 640.8,244.6 640.9,244.8 641.0,244.9 641.1,244.8 641.2,244.8 641.3,244.9 641.4,244.9 641.5,245.0 641.6,244.7 641.7,245.1 641.8,245.2 641.9,244.9 641.9,245.2 642.0,245.2 642.1,245.2 642.2,245.2 642.3,245.1 642.4,245.1 642.5,245.0 642.6,245.2 642.7,245.1 642.8,245.0 642.9,244.8 643.0,244.8 643.1,244.9 643.2,245.0 643.3,244.9 643.4,244.8 643.5,244.7 643.6,244.7 643.7,244.9 643.8,244.8 643.9,244.9 644.0,245.0 644.1,245.1 644.2,244.9 644.3,245.1 644.4,245.2 644.5,245.1 644.6,245.2 644.7,245.0 644.8,244.9 644.9,245.1 645.0,245.1 645.1,244.7 645.2,244.8 645.3,244.7 645.4,244.8 645.5,244.8 645.6,244.8 645.7,244.8 645.8,244.8 645.9,244.9 646.0,245.0 646.1,244.7 646.2,244.7 646.3,244.8 646.4,244.9 646.5,244.9 646.6,244.6 646.7,244.8 646.8,244.6 646.9,244.6 647.0,244.8 647.1,244.6 647.1,244.6 647.2,244.6 647.3,244.6 647.4,244.8 647.5,244.8 647.6,244.9 647.7,244.6 647.8,244.6 647.9,244.7 648.0,244.8 648.1,245.0 648.2,244.9 648.3,245.1 648.4,245.0 648.5,245.0 648.6,244.8 648.7,244.9 648.8,244.7 648.9,244.9 649.0,244.6 649.1,245.0 649.2,245.0 649.3,245.0 649.4,244.8 649.5,244.7 649.6,245.0 649.7,244.9 649.8,244.9 649.9,245.0 650.0,245.2 650.1,245.1 650.2,244.9 650.3,244.8 650.4,244.8 650.5,244.8 650.6,244.7 650.7,244.8 650.8,244.7 650.9,244.9 651.0,245.1 651.1,244.9 651.2,245.2 651.3,245.0 651.4,245.0 651.5,244.6 651.6,244.6 651.7,244.8 651.8,244.8 651.9,244.9 652.0,244.8 652.1,244.5 652.2,244.6 652.3,244.6 652.3,244.5 652.4,244.5 652.5,244.7 652.6,244.6 652.7,244.5 652.8,244.7 652.9,244.7 653.0,244.7 653.1,244.8 653.2,245.1 653.3,244.9 653.4,244.9 653.5,244.8 653.6,244.9 653.7,244.9 653.8,244.8 653.9,244.8 654.0,244.8 654.1,244.8 654.2,244.9 654.3,244.8 654.4,244.7 654.5,244.7 654.6,244.9 654.7,244.9 654.8,245.1 654.9,245.1 655.0,245.1 655.1,244.9 655.2,245.1 655.3,244.7 655.4,245.0 655.5,244.9 655.6,244.9 655.7,244.8 655.8,244.8 655.9,244.8 656.0,244.9 656.1,244.9 656.2,244.9 656.3,244.8 656.4,244.9 656.5,244.7 656.6,244.9 656.7,244.7 656.8,244.6 656.9,244.5 657.0,244.8 657.1,244.7 657.2,244.8 657.3,245.0 657.4,244.7 657.5,245.0 657.5,244.7 657.6,244.7 657.7,244.5 657.8,244.5 657.9,244.5 658.0,244.6 658.1,244.5 658.2,244.5 658.3,244.9 658.4,244.7 658.5,244.6 658.6,244.6 658.7,244.8 658.8,244.9 658.9,245.1 659.0,245.0 659.1,245.1 659.2,245.1 659.3,245.1 659.4,244.9 659.5,245.1 659.6,245.0 659.7,245.2 659.8,245.2 659.9,245.1 660.0,245.2 660.1,245.2 660.2,245.0 660.3,245.0 660.4,245.1 660.5,244.7 660.6,244.8 660.7,244.9 660.8,245.1 660.9,245.1 661.0,245.0 661.1,245.1 661.2,245.1 661.3,245.0 661.4,245.2 661.5,244.8 661.6,244.9 661.7,244.9 661.8,244.9 661.9,244.9 662.0,245.1 662.1,244.9 662.2,244.9 662.3,245.2 662.4,245.1 662.5,244.8 662.6,244.8 662.7,244.9 662.7,244.8 662.8,244.8 662.9,245.0 663.0,244.8 663.1,245.0 663.2,244.8 663.3,245.0 663.4,244.8 663.5,244.6 663.6,244.9 663.7,244.9 663.8,244.9 663.9,245.1 664.0,245.0 664.1,244.9 664.2,244.9 664.3,244.8 664.4,244.9 664.5,244.9 664.6,244.6 664.7,244.7 664.8,244.8 664.9,244.8 665.0,244.8 665.1,245.0 665.2,245.0 665.3,245.0 665.4,245.1 665.5,245.0 665.6,245.0 665.7,244.9 665.8,245.0 665.9,245.0 666.0,244.9 666.1,244.8 666.2,244.9 666.3,244.7 666.4,244.7 666.5,244.8 666.6,244.5 666.7,244.8 666.8,244.7 666.9,245.1 667.0,245.1 667.1,245.1 667.2,244.9 667.3,245.0 667.4,245.0 667.5,245.0 667.6,245.0 667.7,245.1 667.8,244.8 667.9,244.8 667.9,244.9 668.0,244.7 668.1,244.8 668.2,244.8 668.3,244.8 668.4,244.7 668.5,244.7 668.6,244.8 668.7,244.9 668.8,245.0 668.9,244.8 669.0,245.0 669.1,244.7 669.2,244.9 669.3,244.9 669.4,244.9 669.5,244.9 669.6,245.1 669.7,244.9 669.8,244.8 669.9,244.7 670.0,244.9 670.1,244.7 670.2,244.7 670.3,245.0 670.4,244.9 670.5,244.9 670.6,244.9 670.7,244.7 670.8,244.5 670.9,245.0 671.0,244.6 671.1,244.9 671.2,244.9 671.3,245.0 671.4,244.9 671.5,244.8 671.6,244.7 671.7,244.7 671.8,244.8 671.9,244.8 672.0,244.9 672.1,244.9 672.2,244.7 672.3,244.9 672.4,244.8 672.5,245.0 672.6,244.9 672.7,244.9 672.8,245.0 672.9,245.0 673.0,245.0 673.1,245.2 673.1,245.2 673.2,244.9 673.3,245.1 673.4,245.0 673.5,244.8 673.6,245.0 673.7,244.6 673.8,244.8 673.9,244.9 674.0,244.9 674.1,245.1 674.2,244.9 674.3,244.9 674.4,244.8 674.5,244.9 674.6,245.0 674.7,244.9 674.8,245.1 674.9,244.9 675.0,244.8 675.1,244.7 675.2,244.9 675.3,244.7 675.4,244.5 675.5,244.8 675.6,244.6 675.7,244.7 675.8,244.8 675.9,244.6 676.0,244.6 676.1,244.6 676.2,244.6 676.3,244.6 676.4,244.5 676.5,244.6 676.6,244.6 676.7,244.9 676.8,245.0 676.9,244.8 677.0,245.1 677.1,245.0 677.2,244.9 677.3,244.8 677.4,245.1 677.5,245.1 677.6,245.1 677.7,245.2 677.8,245.2 677.9,245.0 678.0,245.1 678.1,245.1 678.2,245.2 678.3,245.1 678.3,245.2 678.4,245.2 678.5,245.1 678.6,245.1 678.7,245.1 678.8,245.1 678.9,245.0 679.0,245.2 679.1,245.1 679.2,245.2 679.3,245.1 679.4,245.0 679.5,245.1 679.6,245.1 679.7,245.0 679.8,244.8 679.9,244.8 680.0,245.0 680.1,245.0 680.2,244.9 680.3,244.7 680.4,244.7 680.5,244.5 680.6,244.8 680.7,244.7 680.8,244.8 680.9,244.6 681.0,244.9 681.1,244.8 681.2,244.9 681.3,245.0 681.4,245.0 681.5,244.7 681.6,244.7 681.7,244.8 681.8,244.8 681.9,244.7 682.0,244.8 682.1,244.7 682.2,244.9 682.3,244.7 682.4,244.7 682.5,244.9 682.6,244.8 682.7,244.9 682.8,244.9 682.9,244.8 683.0,245.0 683.1,245.0 683.2,245.0 683.3,244.8 683.4,244.9 683.5,245.1 683.5,245.0 683.6,245.0 683.7,245.1 683.8,245.2 683.9,245.2 684.0,245.1 684.1,245.1 684.2,245.0 684.3,244.9 684.4,245.2 684.5,245.1 684.6,245.0 684.7,244.9 684.8,245.2 684.9,245.0 685.0,245.2 685.1,244.8 685.2,245.1 685.3,245.1 685.4,245.1 685.5,245.2 685.6,245.2 685.7,245.2 685.8,245.2 685.9,245.1 686.0,245.0 686.1,245.0 686.2,245.0 686.3,244.8 686.4,245.0 686.5,244.8 686.6,244.9 686.7,245.1 686.8,245.2 686.9,245.2 687.0,244.9 687.1,245.0 687.2,245.2 687.3,245.1 687.4,245.0 687.5,244.9 687.6,244.9 687.7,245.1 687.8,245.0 687.9,245.1 688.0,245.2 688.1,245.1 688.2,245.2 688.3,244.9 688.4,245.1 688.5,244.9 688.6,245.2 688.7,245.0 688.7,244.7 688.8,244.9 688.9,244.6 689.0,244.5 689.1,244.5 689.2,244.7 689.3,244.7 689.4,244.7 689.5,244.6 689.6,244.7 689.7,244.7 689.8,244.9 689.9,244.7 690.0,245.0 690.1,244.9 690.2,244.7 690.3,244.9 690.4,244.9 690.5,244.6 690.6,245.0 690.7,244.9 690.8,244.8 690.9,245.0 691.0,245.2 691.1,245.1 691.2,245.0 691.3,245.0 691.4,244.9 691.5,244.6 691.6,244.7 691.7,244.7 691.8,244.8 691.9,245.1 692.0,244.6 692.1,244.8 692.2,244.6 692.3,244.7 692.4,244.6 692.5,244.5 692.6,244.6 692.7,244.6 692.8,244.6 692.9,244.5 693.0,244.6 693.1,244.5 693.2,244.7 693.3,244.9 693.4,244.6 693.5,244.6 693.6,244.7 693.7,244.7 693.8,244.9 693.9,244.9 693.9,244.7 694.0,244.7 694.1,244.6 694.2,244.9 694.3,244.7 694.4,244.6 694.5,244.6 694.6,244.8 694.7,244.9 694.8,245.0 694.9,244.9 695.0,245.0 695.1,244.9 695.2,244.7 695.3,245.0 695.4,244.8 695.5,244.8 695.6,244.7 695.7,245.0 695.8,245.0 695.9,245.1 696.0,245.1 696.1,245.0 696.2,244.8 696.3,244.8 696.4,244.8 696.5,244.7" fill="none" stroke="#8c4ad8" stroke-width="0.6" stroke-opacity="0.8" stroke-linejoin="bevel"/>
<polyline points="578.7,244.7 579.1,245.2 579.5,244.6 579.9,245.1 580.3,245.0 580.7,245.1 581.1,245.1 581.4,245.0 581.8,245.0 582.2,245.0 582.6,244.8 583.0,244.9 583.4,244.7 583.8,245.0 584.2,245.1 584.6,245.0 585.0,244.9 585.4,244.7 585.8,244.9 586.2,245.0 586.6,244.9 587.0,245.1 587.4,245.0 587.8,245.0 588.1,245.1 588.5,244.8 588.9,245.1 589.3,245.0 589.7,245.1 590.1,244.9 590.5,245.1 590.9,244.5 591.3,245.1 591.7,244.8 592.1,244.8 592.5,244.8 592.9,244.9 593.3,245.1 593.7,244.5 594.1,244.9 594.5,245.1 594.8,244.7 595.2,244.9 595.6,245.0 596.0,244.8 596.4,244.9 596.8,244.8 597.2,244.9 597.6,244.7 598.0,244.8 598.4,245.0 598.8,244.9 599.2,244.7 599.6,244.9 600.0,245.0 600.4,244.9 600.8,244.8 601.1,244.8 601.5,245.2 601.9,245.1 602.3,245.0 602.7,244.8 603.1,244.9 603.5,244.6 603.9,244.6 604.3,244.8 604.7,244.9 605.1,244.9 605.5,245.1 605.9,244.9 606.3,245.1 606.7,244.7 607.1,245.2 607.5,244.7 607.8,244.9 608.2,245.0 608.6,244.9 609.0,244.9 609.4,244.9 609.8,245.1 610.2,245.4 610.6,244.7 611.0,244.9 611.4,244.8 611.8,245.4 612.2,245.0 612.6,245.1 613.0,244.9 613.4,244.7 613.8,245.1 614.2,244.8 614.5,244.8 614.9,245.3 615.3,244.9 615.7,244.9 616.1,245.0 616.5,244.8 616.9,244.7 617.3,244.8 617.7,244.7 618.1,244.7 618.5,244.9 618.9,245.0 619.3,245.1 619.7,245.3 620.1,245.0 620.5,244.9 620.8,244.9 621.2,244.9 621.6,244.8 622.0,244.7 622.4,245.0 622.8,244.9 623.2,245.2 623.6,244.7 624.0,244.9 624.4,245.4 624.8,244.9 625.2,245.0 625.6,244.8 626.0,244.9 626.4,244.8 626.8,245.0 627.2,244.8 627.5,245.1 627.9,244.9 628.3,244.9 628.7,245.0 629.1,244.8 629.5,244.8 629.9,244.9 630.3,244.9 630.7,244.8 631.1,244.8 631.5,245.1 631.9,244.9 632.3,245.0 632.7,245.0 633.1,244.9 633.5,244.9 633.9,245.2 634.2,245.0 634.6,244.7 635.0,244.8 635.4,245.3 635.8,245.0 636.2,244.8 636.6,245.2 637.0,244.9 637.4,244.6 637.8,244.8 638.2,245.1 638.6,244.9 639.0,245.2 639.4,244.9 639.8,245.3 640.2,245.0 640.6,245.3 640.9,245.0 641.3,245.0 641.7,244.7 642.1,244.8 642.5,244.6 642.9,244.7 643.3,244.9 643.7,244.8 644.1,245.1 644.5,244.9 644.9,245.0 645.3,245.1 645.7,244.7 646.1,245.0 646.5,244.9 646.9,245.0 647.2,244.7 647.6,244.8 648.0,245.2 648.4,244.9 648.8,244.4 649.2,244.8 649.6,244.7 650.0,244.8 650.4,244.6 650.8,245.0 651.2,245.0 651.6,245.0 652.0,245.2 652.4,245.1 652.8,244.7 653.2,245.0 653.6,245.0 653.9,244.7 654.3,244.8 654.7,245.0 655.1,245.0 655.5,245.0 655.9,244.9 656.3,244.7 656.7,244.8 657.1,245.1 657.5,244.9 657.9,245.2 658.3,245.0 658.7,244.6 659.1,245.2 659.5,245.0 659.9,244.8 660.3,244.9 660.6,245.0 661.0,245.0 661.4,245.1 661.8,244.8 662.2,244.9 662.6,244.9 663.0,244.8 663.4,245.2 663.8,245.2 664.2,244.8 664.6,244.7 665.0,244.9 665.4,244.8 665.8,245.2 666.2,245.0 666.6,245.0 666.9,245.0 667.3,244.8 667.7,245.4 668.1,245.0 668.5,244.7 668.9,245.0 669.3,245.1 669.7,244.9 670.1,245.2 670.5,244.8 670.9,245.1 671.3,244.7 671.7,244.9 672.1,245.1 672.5,244.9 672.9,244.9 673.3,244.8 673.6,245.2 674.0,244.8 674.4,245.1 674.8,245.3 675.2,245.0 675.6,245.1 676.0,244.9 676.4,244.6 676.8,244.9 677.2,244.6 677.6,244.5 678.0,244.6 678.4,244.9 678.8,244.7 679.2,244.7 679.6,244.7 680.0,244.9 680.3,244.7 680.7,244.7 681.1,244.9 681.5,245.1 681.9,244.8 682.3,244.8 682.7,245.2 683.1,245.1 683.5,244.7 683.9,245.0 684.3,244.8 684.7,245.0 685.1,245.2 685.5,245.0 685.9,245.3 686.3,244.8 686.6,245.2 687.0,244.5 687.4,245.1 687.8,244.9 688.2,245.1 688.6,245.2 689.0,244.9 689.4,245.0 689.8,244.5 690.2,245.0 690.6,245.4 691.0,244.9 691.4,245.1 691.8,245.0 692.2,245.1 692.6,245.1 693.0,245.2 693.3,244.9 693.7,244.9 694.1,244.9 694.5,245.0 694.9,244.6 695.3,245.0 695.7,245.0 696.1,244.6 696.5,244.9" fill="none" stroke="#9050e0" stroke-width="1.1" stroke-opacity="0.9" stroke-linejoin="bevel"/>
<path d="M36.50 258.5v-4.5M36.50 11.5v4.5M67.20 258.5v-2.5M67.20 11.5v2.5M97.90 258.5v-4.5M97.90 11.5v4.5M128.60 258.5v-2.5M128.60 11.5v2.5M159.30 258.5v-4.5M159.30 11.5v4.5M190.00 258.5v-2.5M190.00 11.5v2.5M220.70 258.5v-4.5M220.70 11.5v4.5M251.40 258.5v-2.5M251.40 11.5v2.5M282.10 258.5v-4.5M282.10 11.5v4.5M312.80 258.5v-2.5M312.80 11.5v2.5M343.50 258.5v-4.5M343.50 11.5v4.5M36.5 252.08h2.5M343.5 252.08h-2.5M36.5 236.05h4.5M343.5 236.05h-4.5M36.5 220.01h2.5M343.5 220.01h-2.5M36.5 203.97h4.5M343.5 203.97h-4.5M36.5 187.93h2.5M343.5 187.93h-2.5M36.5 171.89h4.5M343.5 171.89h-4.5M36.5 155.85h2.5M343.5 155.85h-2.5M36.5 139.81h4.5M343.5 139.81h-4.5M36.5 123.77h2.5M343.5 123.77h-2.5M36.5 107.73h4.5M343.5 107.73h-4.5M36.5 91.69h2.5M343.5 91.69h-2.5M36.5 75.66h4.5M343.5 75.66h-4.5M36.5 59.62h2.5M343.5 59.62h-2.5M36.5 43.58h4.5M343.5 43.58h-4.5M36.5 27.54h2.5M343.5 27.54h-2.5" stroke="#222" stroke-width="1" fill="none"/>
<rect x="36.5" y="11.5" width="307.0" height="247.0" fill="none" stroke="#222" stroke-width="1"/>
<text x="36.50" y="272" text-anchor="middle" class="tk">0</text>
<text x="97.90" y="272" text-anchor="middle" class="tk">1000</text>
<text x="159.30" y="272" text-anchor="middle" class="tk">2000</text>
<text x="220.70" y="272" text-anchor="middle" class="tk">3000</text>
<text x="282.10" y="272" text-anchor="middle" class="tk">4000</text>
<text x="343.50" y="272" text-anchor="middle" class="tk">5000</text>
<text x="31.5" y="239.35" text-anchor="end" class="tk">1</text>
<text x="31.5" y="207.27" text-anchor="end" class="tk">2</text>
<text x="31.5" y="175.19" text-anchor="end" class="tk">3</text>
<text x="31.5" y="143.11" text-anchor="end" class="tk">4</text>
<text x="31.5" y="111.03" text-anchor="end" class="tk">5</text>
<text x="31.5" y="78.96" text-anchor="end" class="tk">6</text>
<text x="31.5" y="46.88" text-anchor="end" class="tk">7</text>
<text x="31.5" y="14.80" text-anchor="end" class="tk">8</text>
<text transform="translate(10.9,128.3) rotate(-90)" text-anchor="middle" class="yl">Minimum Distance(nm)</text>
<text x="190.00" y="291.5" text-anchor="middle" class="lb">Simulation time(ns)</text>
<text transform="translate(1,10.7) scale(0.91,1)" class="pl" font-size="16">a</text>
<rect x="241.5" y="20.5" width="89.0" height="97" fill="#fff" stroke="#8a8a8a" stroke-width="1"/>
<line x1="243.0" x2="272.5" y1="29.40" y2="29.40" stroke="#9a9a9a" stroke-width="1.1"/>
<text x="275.7" y="33.30" class="lg">chainA-B</text>
<line x1="243.0" x2="272.5" y1="45.20" y2="45.20" stroke="#eaa4a4" stroke-width="1.1"/>
<text x="275.7" y="49.10" class="lg">chainA-C</text>
<line x1="243.0" x2="272.5" y1="60.60" y2="60.60" stroke="#aebcf2" stroke-width="1.1"/>
<text x="275.7" y="64.50" class="lg">chainA-D</text>
<line x1="243.0" x2="272.5" y1="76.40" y2="76.40" stroke="#a6d6a6" stroke-width="1.1"/>
<text x="275.7" y="80.30" class="lg">chainB-C</text>
<line x1="243.0" x2="272.5" y1="92.40" y2="92.40" stroke="#d0b4f4" stroke-width="1.1"/>
<text x="275.7" y="96.30" class="lg">chainB-D</text>
<line x1="243.0" x2="272.5" y1="108.45" y2="108.45" stroke="#777" stroke-width="1.1"/>
<text x="275.7" y="112.35" class="lg">chainC-D</text>
<path d="M441.50 258.5v-4.5M441.50 11.5v4.5M467.00 258.5v-2.5M467.00 11.5v2.5M492.50 258.5v-4.5M492.50 11.5v4.5M518.00 258.5v-2.5M518.00 11.5v2.5M543.50 258.5v-4.5M543.50 11.5v4.5M569.00 258.5v-2.5M569.00 11.5v2.5M594.50 258.5v-4.5M594.50 11.5v4.5M620.00 258.5v-2.5M620.00 11.5v2.5M645.50 258.5v-4.5M645.50 11.5v4.5M671.00 258.5v-2.5M671.00 11.5v2.5M696.50 258.5v-4.5M696.50 11.5v4.5M415.5 243.06h2.5M721.5 243.06h-2.5M415.5 227.62h4.5M721.5 227.62h-4.5M415.5 212.19h2.5M721.5 212.19h-2.5M415.5 196.75h4.5M721.5 196.75h-4.5M415.5 181.31h2.5M721.5 181.31h-2.5M415.5 165.88h4.5M721.5 165.88h-4.5M415.5 150.44h2.5M721.5 150.44h-2.5M415.5 135.00h4.5M721.5 135.00h-4.5M415.5 119.56h2.5M721.5 119.56h-2.5M415.5 104.12h4.5M721.5 104.12h-4.5M415.5 88.69h2.5M721.5 88.69h-2.5M415.5 73.25h4.5M721.5 73.25h-4.5M415.5 57.81h2.5M721.5 57.81h-2.5M415.5 42.38h4.5M721.5 42.38h-4.5M415.5 26.94h2.5M721.5 26.94h-2.5" stroke="#222" stroke-width="1" fill="none"/>
<rect x="415.5" y="11.5" width="306.0" height="247.0" fill="none" stroke="#222" stroke-width="1"/>
<text x="441.50" y="272" text-anchor="middle" class="tk">0</text>
<text x="492.50" y="272" text-anchor="middle" class="tk">1000</text>
<text x="543.50" y="272" text-anchor="middle" class="tk">2000</text>
<text x="594.50" y="272" text-anchor="middle" class="tk">3000</text>
<text x="645.50" y="272" text-anchor="middle" class="tk">4000</text>
<text x="696.50" y="272" text-anchor="middle" class="tk">5000</text>
<text x="410.5" y="261.80" text-anchor="end" class="tk">0</text>
<text x="410.5" y="230.93" text-anchor="end" class="tk">1</text>
<text x="410.5" y="200.05" text-anchor="end" class="tk">2</text>
<text x="410.5" y="169.18" text-anchor="end" class="tk">3</text>
<text x="410.5" y="138.30" text-anchor="end" class="tk">4</text>
<text x="410.5" y="107.42" text-anchor="end" class="tk">5</text>
<text x="410.5" y="76.55" text-anchor="end" class="tk">6</text>
<text x="410.5" y="45.67" text-anchor="end" class="tk">7</text>
<text x="410.5" y="14.80" text-anchor="end" class="tk">8</text>
<text transform="translate(390.4,128.3) rotate(-90)" text-anchor="middle" class="yl">Minimum Distance(nm)</text>
<text x="568.90" y="291.5" text-anchor="middle" class="lb">Simulation time(ns)</text>
<text transform="translate(376,13) scale(1.0,1)" class="pl" font-size="15">b</text>
<rect x="623.5" y="20.5" width="89.0" height="97" fill="#fff" stroke="#8a8a8a" stroke-width="1"/>
<line x1="625.0" x2="654.5" y1="29.40" y2="29.40" stroke="#9a9a9a" stroke-width="1.1"/>
<text x="657.1" y="33.30" class="lg">chainA-B</text>
<line x1="625.0" x2="654.5" y1="45.20" y2="45.20" stroke="#eaa4a4" stroke-width="1.1"/>
<text x="657.1" y="49.10" class="lg">chainA-C</text>
<line x1="625.0" x2="654.5" y1="60.60" y2="60.60" stroke="#aebcf2" stroke-width="1.1"/>
<text x="657.1" y="64.50" class="lg">chainA-D</text>
<line x1="625.0" x2="654.5" y1="76.40" y2="76.40" stroke="#a6d6a6" stroke-width="1.1"/>
<text x="657.1" y="80.30" class="lg">chainB-C</text>
<line x1="625.0" x2="654.5" y1="92.40" y2="92.40" stroke="#d0b4f4" stroke-width="1.1"/>
<text x="657.1" y="96.30" class="lg">chainB-D</text>
<line x1="625.0" x2="654.5" y1="108.45" y2="108.45" stroke="#d0b4f4" stroke-width="1.1"/>
<text x="657.1" y="112.35" class="lg">chainC-D</text>
</svg>
</body></html>
